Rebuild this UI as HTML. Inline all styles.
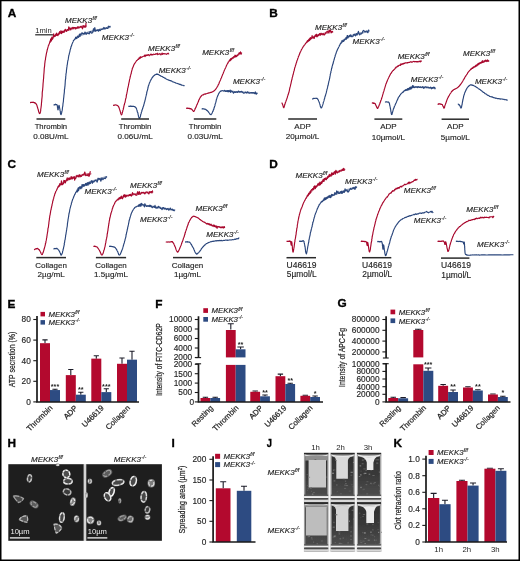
<!DOCTYPE html>
<html><head><meta charset="utf-8"><title>Figure</title>
<style>html,body{margin:0;padding:0;background:#fff}svg{display:block}text{font-family:"Liberation Sans",Arial,Helvetica,sans-serif}</style>
</head><body>
<svg width="520" height="561" viewBox="0 0 520 561">
<defs>
<filter id="b1" x="-5%" y="-5%" width="110%" height="110%"><feGaussianBlur stdDeviation="0.62"/></filter>
<filter id="b2" x="-2%" y="-2%" width="104%" height="104%"><feGaussianBlur stdDeviation="0.45"/></filter>
<filter id="spk" x="0" y="0" width="100%" height="100%"><feTurbulence type="fractalNoise" baseFrequency="0.9" numOctaves="2" seed="4"/><feColorMatrix type="matrix" values="0 0 0 0 1  0 0 0 0 1  0 0 0 0 1  1.6 0 0 0 -0.75"/></filter>
<linearGradient id="tb" x1="0" y1="0" x2="0" y2="1"><stop offset="0" stop-color="#2e2e2e"/><stop offset="0.45" stop-color="#393939"/><stop offset="0.85" stop-color="#4c4c4c"/><stop offset="1" stop-color="#444"/></linearGradient>
<linearGradient id="rim" x1="0" y1="0" x2="0" y2="1"><stop offset="0" stop-color="#f2f2f2"/><stop offset="0.35" stop-color="#9a9a9a"/><stop offset="0.7" stop-color="#d6d6d6"/><stop offset="1" stop-color="#8a8a8a"/></linearGradient>
<linearGradient id="base" x1="0" y1="0" x2="0" y2="1"><stop offset="0" stop-color="#3a3a3a"/><stop offset="0.3" stop-color="#9a9a9a"/><stop offset="0.5" stop-color="#fafafa"/><stop offset="0.7" stop-color="#8a8a8a"/><stop offset="0.85" stop-color="#e8e8e8"/><stop offset="1" stop-color="#f2f2f2"/></linearGradient>
</defs>
<rect x="0" y="0" width="520" height="561" fill="#fff"/>
<rect x="8.3" y="464.2" width="75.5" height="76.6" fill="#1e1e1e"/>
<rect x="86.1" y="464.2" width="75.8" height="76.6" fill="#1e1e1e"/>
<rect x="83.8" y="464.2" width="2.4" height="76.6" fill="#d4d4d4"/>
<g filter="url(#b1)">
<ellipse cx="29.5" cy="478.3" rx="2" ry="3.6" transform="rotate(10 29.5 478.3)" fill="#3e3e3e" stroke="#787878" stroke-width="1.5"/>
<ellipse cx="29.5" cy="478.3" rx="2" ry="3.6" transform="rotate(10 29.5 478.3)" fill="none" stroke="#c8c8c8" stroke-width="1.25" stroke-dasharray="4.2 1.7 3.2 1.2 5.6 2.2"/>
<ellipse cx="66.3" cy="473.9" rx="3.4" ry="3.8" transform="rotate(-20 66.3 473.9)" fill="#4e4e4e" stroke="#969696" stroke-width="1.5"/>
<ellipse cx="66.3" cy="473.9" rx="3.4" ry="3.8" transform="rotate(-20 66.3 473.9)" fill="none" stroke="#fafafa" stroke-width="1.25" stroke-dasharray="2.5 1.0 2.2 1.1 2.1 1.5"/>
<ellipse cx="67.9" cy="481.2" rx="4.3" ry="2.8" transform="rotate(0 67.9 481.2)" fill="#464646" stroke="#878787" stroke-width="1.5"/>
<ellipse cx="67.9" cy="481.2" rx="4.3" ry="2.8" transform="rotate(0 67.9 481.2)" fill="none" stroke="#e1e1e1" stroke-width="1.25" stroke-dasharray="4.6 1.1 4.7 1.3 2.1 1.7"/>
<ellipse cx="67.1" cy="491.9" rx="3.8" ry="2.9" transform="rotate(20 67.1 491.9)" fill="#3a3a3a" stroke="#707070" stroke-width="1.5"/>
<ellipse cx="67.1" cy="491.9" rx="3.8" ry="2.9" transform="rotate(20 67.1 491.9)" fill="none" stroke="#bbbbbb" stroke-width="1.25" stroke-dasharray="3.0 1.3 3.1 1.4 3.8 1.1"/>
<ellipse cx="72.8" cy="501.7" rx="2.2" ry="3.8" transform="rotate(15 72.8 501.7)" fill="#828282" stroke="#828282" stroke-width="1.2"/>
<ellipse cx="72.8" cy="501.7" rx="1.76" ry="3.04" transform="rotate(15 72.8 501.7)" fill="none" stroke="#ebebeb" stroke-width="1.1" stroke-dasharray="4.2 1.8 3.2 0.9 3.6 2.3"/>
<path d="M12.900000000000002,496.96 Q18.1,495.03999999999996 23.3,497.59999999999997 Q22.26,501.12 19.14,502.4 Q15.500000000000002,500.15999999999997 12.900000000000002,496.96 Z" transform="rotate(10 18.1 499.2)" fill="#494949" stroke="#5b5b5b" stroke-width="1.3" stroke-linejoin="round"/>
<path d="M12.900000000000002,496.96 Q18.1,495.03999999999996 23.3,497.59999999999997 Q22.26,501.12 19.14,502.4 Q15.500000000000002,500.15999999999997 12.900000000000002,496.96 Z" transform="rotate(10 18.1 499.2)" fill="none" stroke="#a4a4a4" stroke-width="1.1" stroke-dasharray="5.9 1.6 5.6 1.6 3.5 0.9"/>
<ellipse cx="34.1" cy="504.4" rx="4.4" ry="2.6" transform="rotate(35 34.1 504.4)" fill="#5b5b5b" stroke="#5b5b5b" stroke-width="1.2"/>
<ellipse cx="34.1" cy="504.4" rx="3.52" ry="2.08" transform="rotate(35 34.1 504.4)" fill="none" stroke="#a4a4a4" stroke-width="1.1" stroke-dasharray="4.6 1.5 3.4 0.9 3.6 1.6"/>
<path d="M20.0,517.08 Q24.3,514.9200000000001 28.6,517.8000000000001 Q27.740000000000002,521.76 25.16,523.2 Q22.150000000000002,520.6800000000001 20.0,517.08 Z" transform="rotate(-30 24.3 519.6)" fill="#545454" stroke="#686868" stroke-width="1.3" stroke-linejoin="round"/>
<path d="M20.0,517.08 Q24.3,514.9200000000001 28.6,517.8000000000001 Q27.740000000000002,521.76 25.16,523.2 Q22.150000000000002,520.6800000000001 20.0,517.08 Z" transform="rotate(-30 24.3 519.6)" fill="none" stroke="#bcbcbc" stroke-width="1.1" stroke-dasharray="3.1 1.1 3.8 1.6 4.3 1.3"/>
<ellipse cx="61.9" cy="517.5" rx="2.3" ry="4.8" transform="rotate(8 61.9 517.5)" fill="#464646" stroke="#878787" stroke-width="1.5"/>
<ellipse cx="61.9" cy="517.5" rx="2.3" ry="4.8" transform="rotate(8 61.9 517.5)" fill="none" stroke="#e1e1e1" stroke-width="1.25" stroke-dasharray="3.1 1.3 2.8 0.8 4.1 0.9"/>
<ellipse cx="76.6" cy="518.8" rx="2.2" ry="3" transform="rotate(0 76.6 518.8)" fill="#7b7b7b" stroke="#7b7b7b" stroke-width="1.2"/>
<ellipse cx="76.6" cy="518.8" rx="1.76" ry="2.40" transform="rotate(0 76.6 518.8)" fill="none" stroke="#dfdfdf" stroke-width="1.1" stroke-dasharray="3.9 1.2 4.8 1.5 4.8 1.9"/>
<path d="M52.8,525.52 Q57,522.88 61.2,526.4 Q60.36,531.24 57.84,533.0 Q54.9,529.9200000000001 52.8,525.52 Z" transform="rotate(20 57 528.6)" fill="#595959" stroke="#6e6e6e" stroke-width="1.3" stroke-linejoin="round"/>
<path d="M52.8,525.52 Q57,522.88 61.2,526.4 Q60.36,531.24 57.84,533.0 Q54.9,529.9200000000001 52.8,525.52 Z" transform="rotate(20 57 528.6)" fill="none" stroke="#c7c7c7" stroke-width="1.1" stroke-dasharray="3.5 1.6 3.4 1.3 3.3 1.5"/>
<ellipse cx="57.6" cy="464.9" rx="1.4" ry="0.8" transform="rotate(0 57.6 464.9)" fill="#757575" stroke="#757575" stroke-width="1.2"/>
<ellipse cx="57.6" cy="464.9" rx="1.12" ry="0.64" transform="rotate(0 57.6 464.9)" fill="none" stroke="#d3d3d3" stroke-width="1.1" stroke-dasharray="2.2 1.0 5.9 0.9 4.8 1.8"/>
<ellipse cx="107.2" cy="473.4" rx="5" ry="2.8" transform="rotate(-35 107.2 473.4)" fill="#5b5b5b" stroke="#5b5b5b" stroke-width="1.2"/>
<ellipse cx="107.2" cy="473.4" rx="4.00" ry="2.24" transform="rotate(-35 107.2 473.4)" fill="none" stroke="#a4a4a4" stroke-width="1.1" stroke-dasharray="4.9 1.4 4.4 0.7 2.3 1.1"/>
<ellipse cx="89.9" cy="481.2" rx="1.8" ry="2.2" transform="rotate(0 89.9 481.2)" fill="#757575" stroke="#757575" stroke-width="1.2"/>
<ellipse cx="89.9" cy="481.2" rx="1.44" ry="1.76" transform="rotate(0 89.9 481.2)" fill="none" stroke="#d3d3d3" stroke-width="1.1" stroke-dasharray="2.6 0.8 2.5 1.3 2.8 2.3"/>
<ellipse cx="118.1" cy="482.5" rx="5.8" ry="2.7" transform="rotate(-10 118.1 482.5)" fill="#464646" stroke="#878787" stroke-width="1.5"/>
<ellipse cx="118.1" cy="482.5" rx="5.8" ry="2.7" transform="rotate(-10 118.1 482.5)" fill="none" stroke="#e1e1e1" stroke-width="1.25" stroke-dasharray="4.7 1.5 4.8 0.9 5.7 2.1"/>
<ellipse cx="133.3" cy="481.2" rx="3" ry="4.8" transform="rotate(15 133.3 481.2)" fill="#4a4a4a" stroke="#8e8e8e" stroke-width="1.5"/>
<ellipse cx="133.3" cy="481.2" rx="3" ry="4.8" transform="rotate(15 133.3 481.2)" fill="none" stroke="#ededed" stroke-width="1.25" stroke-dasharray="4.9 1.4 5.4 1.5 4.6 2.3"/>
<ellipse cx="151.3" cy="483.2" rx="3.2" ry="3.6" transform="rotate(0 151.3 483.2)" fill="#7b7b7b" stroke="#7b7b7b" stroke-width="1.2"/>
<ellipse cx="151.3" cy="483.2" rx="2.56" ry="2.88" transform="rotate(0 151.3 483.2)" fill="none" stroke="#dfdfdf" stroke-width="1.1" stroke-dasharray="4.5 1.2 4.2 0.8 2.8 2.0"/>
<ellipse cx="111.6" cy="491.9" rx="2.4" ry="4.5" transform="rotate(20 111.6 491.9)" fill="#4e4e4e" stroke="#969696" stroke-width="1.5"/>
<ellipse cx="111.6" cy="491.9" rx="2.4" ry="4.5" transform="rotate(20 111.6 491.9)" fill="none" stroke="#fafafa" stroke-width="1.25" stroke-dasharray="5.1 2.1 5.4 1.3 2.4 1.6"/>
<ellipse cx="107.5" cy="496.8" rx="2.9" ry="4.3" transform="rotate(-25 107.5 496.8)" fill="#4a4a4a" stroke="#8e8e8e" stroke-width="1.5"/>
<ellipse cx="107.5" cy="496.8" rx="2.9" ry="4.3" transform="rotate(-25 107.5 496.8)" fill="none" stroke="#ededed" stroke-width="1.25" stroke-dasharray="5.7 1.8 3.9 1.1 2.9 1.1"/>
<ellipse cx="119.8" cy="500.8" rx="1.1" ry="2.3" transform="rotate(0 119.8 500.8)" fill="#5b5b5b" stroke="#5b5b5b" stroke-width="1.2"/>
<ellipse cx="119.8" cy="500.8" rx="0.88" ry="1.84" transform="rotate(0 119.8 500.8)" fill="none" stroke="#a4a4a4" stroke-width="1.1" stroke-dasharray="2.3 1.9 4.6 0.8 3.7 0.9"/>
<ellipse cx="143.8" cy="496.8" rx="2.7" ry="5.3" transform="rotate(5 143.8 496.8)" fill="#464646" stroke="#878787" stroke-width="1.5"/>
<ellipse cx="143.8" cy="496.8" rx="2.7" ry="5.3" transform="rotate(5 143.8 496.8)" fill="none" stroke="#e1e1e1" stroke-width="1.25" stroke-dasharray="2.8 1.7 4.6 1.2 3.1 1.8"/>
<ellipse cx="147.5" cy="509.8" rx="2.2" ry="3.2" transform="rotate(10 147.5 509.8)" fill="#3a3a3a" stroke="#707070" stroke-width="1.5"/>
<ellipse cx="147.5" cy="509.8" rx="2.2" ry="3.2" transform="rotate(10 147.5 509.8)" fill="none" stroke="#bbbbbb" stroke-width="1.25" stroke-dasharray="5.8 1.3 2.3 0.7 2.3 2.3"/>
<ellipse cx="147.5" cy="517.2" rx="2.3" ry="2.1" transform="rotate(0 147.5 517.2)" fill="#828282" stroke="#828282" stroke-width="1.2"/>
<ellipse cx="147.5" cy="517.2" rx="1.84" ry="1.68" transform="rotate(0 147.5 517.2)" fill="none" stroke="#ebebeb" stroke-width="1.1" stroke-dasharray="4.2 1.9 2.7 0.9 4.8 2.2"/>
<ellipse cx="122.2" cy="518" rx="4.4" ry="2.3" transform="rotate(-25 122.2 518)" fill="#5b5b5b" stroke="#5b5b5b" stroke-width="1.2"/>
<ellipse cx="122.2" cy="518" rx="3.52" ry="1.84" transform="rotate(-25 122.2 518)" fill="none" stroke="#a4a4a4" stroke-width="1.1" stroke-dasharray="3.4 0.8 5.5 0.9 5.0 1.1"/>
<ellipse cx="130.4" cy="519.2" rx="2.9" ry="3.2" transform="rotate(20 130.4 519.2)" fill="#686868" stroke="#686868" stroke-width="1.2"/>
<ellipse cx="130.4" cy="519.2" rx="2.32" ry="2.56" transform="rotate(20 130.4 519.2)" fill="none" stroke="#bcbcbc" stroke-width="1.1" stroke-dasharray="4.8 1.9 4.9 1.0 4.9 1.0"/>
<ellipse cx="90.4" cy="520.1" rx="3.5" ry="3.6" transform="rotate(0 90.4 520.1)" fill="#828282" stroke="#828282" stroke-width="1.2"/>
<ellipse cx="90.4" cy="520.1" rx="2.80" ry="2.88" transform="rotate(0 90.4 520.1)" fill="none" stroke="#ebebeb" stroke-width="1.1" stroke-dasharray="3.3 1.3 5.5 0.8 5.5 2.1"/>
<ellipse cx="99" cy="522.9" rx="1.8" ry="2.1" transform="rotate(0 99 522.9)" fill="#757575" stroke="#757575" stroke-width="1.2"/>
<ellipse cx="99" cy="522.9" rx="1.44" ry="1.68" transform="rotate(0 99 522.9)" fill="none" stroke="#d3d3d3" stroke-width="1.1" stroke-dasharray="5.9 1.2 2.8 0.9 5.3 2.3"/>
<ellipse cx="86.6" cy="495.1" rx="0.6" ry="2.6" transform="rotate(0 86.6 495.1)" fill="#757575" stroke="#757575" stroke-width="1.2"/>
<ellipse cx="86.6" cy="495.1" rx="0.48" ry="2.08" transform="rotate(0 86.6 495.1)" fill="none" stroke="#d3d3d3" stroke-width="1.1" stroke-dasharray="4.8 1.4 3.1 1.6 5.5 0.9"/>
</g>
<text x="20.0" y="534.3" text-anchor="middle" style="font-size:7.6px" fill="#f0f0f0">10µm</text>
<line x1="9.9" x2="29.799999999999997" y1="537.9" y2="537.9" stroke="#f0f0f0" stroke-width="1.3"/>
<text x="97.30000000000001" y="534.3" text-anchor="middle" style="font-size:7.6px" fill="#f0f0f0">10µm</text>
<line x1="87.4" x2="107.30000000000001" y1="537.9" y2="537.9" stroke="#f0f0f0" stroke-width="1.3"/>
<rect x="303.4" y="452.4" width="78.4" height="99.6" fill="#f4f4f4"/>
<g filter="url(#b2)">
<rect x="304.1" y="452.9" width="24.4" height="49.2" fill="url(#tb)"/>
<rect x="304.1" y="452.9" width="24.4" height="1.6" fill="#2a2a2a"/>
<path d="M304.1,454.5 H328.5 V456.09999999999997 Q316.3,460.09999999999997 304.1,456.09999999999997 Z" fill="#a2a2a2"/>
<path d="M304.6,455.09999999999997 Q316.3,458.29999999999995 328.0,455.09999999999997" fill="none" stroke="#e8e8e8" stroke-width="1.2"/>
<rect x="305.3" y="455.9" width="22.0" height="4.6" fill="#8e8e8e"/>
<rect x="308.6" y="460" width="17.399999999999977" height="27.5" fill="#c8c8c8"/>
<rect x="310.2" y="488.2" width="1.2" height="0.8" fill="#818181"/>
<rect x="307.6" y="488.4" width="1.9" height="0.8" fill="#6b6b6b"/>
<rect x="312.9" y="492.3" width="2.0" height="0.6" fill="#777777"/>
<rect x="306.8" y="485.0" width="1.5" height="0.7" fill="#5b5b5b"/>
<rect x="326.5" y="476.6" width="0.9" height="1.0" fill="#808080"/>
<rect x="306.9" y="490.0" width="0.9" height="0.7" fill="#656565"/>
<rect x="305.6" y="460.0" width="1.0" height="1.1" fill="#666666"/>
<rect x="306.6" y="474.4" width="1.6" height="0.7" fill="#606060"/>
<rect x="310.5" y="487.6" width="1.4" height="1.3" fill="#585858"/>
<rect x="314.5" y="459.1" width="1.8" height="0.6" fill="#575757"/>
<rect x="311.9" y="493.7" width="1.5" height="1.2" fill="#898989"/>
<rect x="308.0" y="476.8" width="2.1" height="0.8" fill="#838383"/>
<rect x="311.0" y="490.7" width="0.9" height="1.2" fill="#5e5e5e"/>
<rect x="304.1" y="454.5" width="1.2" height="47.6" fill="#a6a6a6"/>
<rect x="327.3" y="454.5" width="1.2" height="47.6" fill="#a6a6a6"/>
<rect x="304.1" y="494.59999999999997" width="24.4" height="1.5" fill="#585858"/>
<rect x="304.1" y="496.09999999999997" width="24.4" height="1.9" fill="#f0f0f0"/>
<rect x="304.1" y="497.99999999999994" width="24.4" height="1.7" fill="#4a4a4a"/>
<rect x="304.1" y="499.7" width="24.4" height="2.4" fill="#d8d8d8"/>
<rect x="330.5" y="452.9" width="24.3" height="49.2" fill="url(#tb)"/>
<rect x="330.5" y="452.9" width="24.3" height="1.6" fill="#2a2a2a"/>
<path d="M330.5,454.5 H354.8 V456.09999999999997 Q342.65,460.09999999999997 330.5,456.09999999999997 Z" fill="#a2a2a2"/>
<path d="M331.0,455.09999999999997 Q342.65,458.29999999999995 354.3,455.09999999999997" fill="none" stroke="#e8e8e8" stroke-width="1.2"/>
<path d="M332.9,456.09999999999997 Q342.65,457.9 352.40000000000003,456.09999999999997 Q348.4,457.4 347.9,460.4 V478.8 H336.3 V460.4 Q335.8,457.4 332.9,456.09999999999997 Z" fill="#dadada"/>
<rect x="348.8" y="490.4" width="2.1" height="1.3" fill="#575757"/>
<rect x="342.8" y="478.9" width="1.9" height="0.7" fill="#4e4e4e"/>
<rect x="333.6" y="480.3" width="1.7" height="1.2" fill="#686868"/>
<rect x="352.9" y="461.9" width="1.6" height="1.1" fill="#727272"/>
<rect x="350.5" y="474.8" width="1.8" height="0.7" fill="#6b6b6b"/>
<rect x="334.9" y="459.0" width="1.1" height="1.0" fill="#545454"/>
<rect x="344.1" y="487.9" width="2.0" height="0.9" fill="#686868"/>
<rect x="352.0" y="486.0" width="1.6" height="1.4" fill="#505050"/>
<rect x="333.0" y="469.6" width="0.9" height="1.2" fill="#797979"/>
<rect x="344.2" y="484.7" width="2.1" height="0.9" fill="#6c6c6c"/>
<rect x="352.9" y="492.2" width="0.9" height="0.7" fill="#4f4f4f"/>
<rect x="336.1" y="484.5" width="1.5" height="1.0" fill="#6c6c6c"/>
<rect x="332.1" y="472.7" width="1.9" height="1.1" fill="#8b8b8b"/>
<rect x="336.2" y="491.3" width="1.7" height="0.8" fill="#636363"/>
<rect x="344.9" y="480.7" width="1.2" height="0.8" fill="#767676"/>
<rect x="335.2" y="490.8" width="2.0" height="0.8" fill="#464646"/>
<rect x="340.1" y="493.3" width="1.8" height="0.9" fill="#646464"/>
<rect x="351.5" y="484.2" width="0.9" height="0.9" fill="#676767"/>
<rect x="346.3" y="485.1" width="1.4" height="1.0" fill="#797979"/>
<rect x="350.6" y="471.7" width="2.2" height="1.3" fill="#797979"/>
<rect x="345.3" y="483.0" width="1.3" height="1.0" fill="#6a6a6a"/>
<rect x="333.7" y="469.2" width="1.7" height="1.4" fill="#505050"/>
<rect x="335.3" y="459.9" width="1.3" height="1.0" fill="#797979"/>
<rect x="330.5" y="454.5" width="1.2" height="47.6" fill="#a6a6a6"/>
<rect x="353.6" y="454.5" width="1.2" height="47.6" fill="#a6a6a6"/>
<rect x="330.5" y="494.59999999999997" width="24.3" height="1.5" fill="#585858"/>
<rect x="330.5" y="496.09999999999997" width="24.3" height="1.9" fill="#f0f0f0"/>
<rect x="330.5" y="497.99999999999994" width="24.3" height="1.7" fill="#4a4a4a"/>
<rect x="330.5" y="499.7" width="24.3" height="2.4" fill="#d8d8d8"/>
<rect x="356.8" y="452.9" width="24.3" height="49.2" fill="url(#tb)"/>
<rect x="356.8" y="452.9" width="24.3" height="1.6" fill="#2a2a2a"/>
<path d="M356.8,454.5 H381.1 V456.09999999999997 Q368.95,460.09999999999997 356.8,456.09999999999997 Z" fill="#a2a2a2"/>
<path d="M357.3,455.09999999999997 Q368.95,458.29999999999995 380.6,455.09999999999997" fill="none" stroke="#e8e8e8" stroke-width="1.2"/>
<path d="M361.0,456.5 Q368.95,457.9 376.90000000000003,456.5 Q374.2,458.4 373.4,462.4 V470 H366.8 V462.4 Q366.0,458.4 361.0,456.5 Z" fill="#ececec"/>
<rect x="359.6" y="465.2" width="1.6" height="1.3" fill="#767676"/>
<rect x="378.8" y="471.6" width="1.4" height="1.0" fill="#717171"/>
<rect x="366.6" y="493.3" width="1.0" height="1.2" fill="#717171"/>
<rect x="378.9" y="490.4" width="0.8" height="1.2" fill="#6d6d6d"/>
<rect x="378.1" y="484.7" width="1.3" height="1.2" fill="#646464"/>
<rect x="360.6" y="486.5" width="0.9" height="1.3" fill="#686868"/>
<rect x="362.0" y="489.2" width="1.9" height="1.2" fill="#525252"/>
<rect x="360.1" y="474.2" width="1.5" height="1.3" fill="#7d7d7d"/>
<rect x="366.4" y="481.0" width="2.0" height="1.3" fill="#545454"/>
<rect x="370.4" y="470.3" width="1.6" height="0.7" fill="#5e5e5e"/>
<rect x="365.6" y="470.2" width="1.0" height="0.8" fill="#808080"/>
<rect x="361.8" y="459.4" width="2.0" height="1.3" fill="#636363"/>
<rect x="368.7" y="473.7" width="1.5" height="1.0" fill="#828282"/>
<rect x="376.2" y="462.6" width="2.1" height="1.0" fill="#6b6b6b"/>
<rect x="365.6" y="484.5" width="1.7" height="0.6" fill="#858585"/>
<rect x="377.0" y="459.5" width="2.1" height="0.7" fill="#757575"/>
<rect x="369.5" y="483.7" width="1.1" height="0.7" fill="#525252"/>
<rect x="361.7" y="463.1" width="1.9" height="1.2" fill="#5a5a5a"/>
<rect x="374.5" y="482.1" width="1.0" height="1.0" fill="#7d7d7d"/>
<rect x="358.8" y="476.2" width="1.5" height="0.8" fill="#818181"/>
<rect x="364.2" y="472.8" width="2.2" height="1.2" fill="#858585"/>
<rect x="379.3" y="485.7" width="1.4" height="1.2" fill="#595959"/>
<rect x="373.4" y="482.8" width="1.0" height="1.4" fill="#686868"/>
<rect x="363.0" y="493.4" width="2.2" height="0.9" fill="#4e4e4e"/>
<rect x="375.6" y="459.2" width="1.1" height="1.2" fill="#656565"/>
<rect x="372.4" y="475.2" width="2.2" height="0.7" fill="#777777"/>
<rect x="370.3" y="482.7" width="1.2" height="1.3" fill="#727272"/>
<rect x="363.5" y="488.6" width="1.0" height="1.3" fill="#666666"/>
<rect x="360.0" y="486.9" width="2.0" height="1.2" fill="#707070"/>
<rect x="364.0" y="458.9" width="0.9" height="0.7" fill="#737373"/>
<rect x="363.5" y="473.2" width="1.4" height="1.0" fill="#767676"/>
<rect x="360.3" y="470.8" width="1.8" height="0.6" fill="#545454"/>
<rect x="371.4" y="483.5" width="0.9" height="0.8" fill="#696969"/>
<rect x="363.4" y="468.3" width="2.2" height="1.2" fill="#585858"/>
<rect x="356.8" y="454.5" width="1.2" height="47.6" fill="#a6a6a6"/>
<rect x="379.90000000000003" y="454.5" width="1.2" height="47.6" fill="#a6a6a6"/>
<rect x="356.8" y="494.59999999999997" width="24.3" height="1.5" fill="#585858"/>
<rect x="356.8" y="496.09999999999997" width="24.3" height="1.9" fill="#f0f0f0"/>
<rect x="356.8" y="497.99999999999994" width="24.3" height="1.7" fill="#4a4a4a"/>
<rect x="356.8" y="499.7" width="24.3" height="2.4" fill="#d8d8d8"/>
<rect x="304.1" y="502.3" width="24.4" height="49.4" fill="url(#tb)"/>
<rect x="304.1" y="502.3" width="24.4" height="1.6" fill="#2a2a2a"/>
<path d="M304.1,503.90000000000003 H328.5 V505.5 Q316.3,509.5 304.1,505.5 Z" fill="#a2a2a2"/>
<path d="M304.6,504.5 Q316.3,507.7 328.0,504.5" fill="none" stroke="#e8e8e8" stroke-width="1.2"/>
<rect x="305.3" y="505.3" width="22.0" height="2.2" fill="#8e8e8e"/>
<rect x="306" y="507" width="20.80000000000001" height="28.5" fill="#bdbdbd"/>
<rect x="313.0" y="541.6" width="1.1" height="1.2" fill="#676767"/>
<rect x="311.1" y="537.4" width="1.2" height="1.0" fill="#797979"/>
<rect x="308.1" y="535.7" width="1.7" height="1.2" fill="#818181"/>
<rect x="311.6" y="538.6" width="1.0" height="1.1" fill="#656565"/>
<rect x="316.7" y="543.4" width="1.2" height="1.3" fill="#7a7a7a"/>
<rect x="313.6" y="543.2" width="1.7" height="1.0" fill="#464646"/>
<rect x="307.3" y="536.4" width="2.0" height="1.0" fill="#5e5e5e"/>
<rect x="306.4" y="540.6" width="1.2" height="0.6" fill="#5a5a5a"/>
<rect x="321.0" y="540.5" width="1.9" height="0.9" fill="#666666"/>
<rect x="314.7" y="541.3" width="2.0" height="0.6" fill="#474747"/>
<rect x="304.1" y="503.90000000000003" width="1.2" height="47.8" fill="#a6a6a6"/>
<rect x="327.3" y="503.90000000000003" width="1.2" height="47.8" fill="#a6a6a6"/>
<rect x="304.1" y="544.2" width="24.4" height="1.5" fill="#585858"/>
<rect x="304.1" y="545.7" width="24.4" height="1.9" fill="#f0f0f0"/>
<rect x="304.1" y="547.6" width="24.4" height="1.7" fill="#4a4a4a"/>
<rect x="304.1" y="549.3000000000001" width="24.4" height="2.4" fill="#d8d8d8"/>
<rect x="330.5" y="502.3" width="24.3" height="49.4" fill="url(#tb)"/>
<rect x="330.5" y="502.3" width="24.3" height="1.6" fill="#2a2a2a"/>
<path d="M330.5,503.90000000000003 H354.8 V505.5 Q342.65,509.5 330.5,505.5 Z" fill="#a2a2a2"/>
<path d="M331.0,504.5 Q342.65,507.7 354.3,504.5" fill="none" stroke="#e8e8e8" stroke-width="1.2"/>
<path d="M332.9,505.5 Q342.65,507.3 352.40000000000003,505.5 Q348.9,506.8 348.4,509.8 V531 H336 V509.8 Q335.5,506.8 332.9,505.5 Z" fill="#d4d4d4"/>
<rect x="338.8" y="542.8" width="2.1" height="1.3" fill="#6e6e6e"/>
<rect x="339.2" y="531.4" width="1.3" height="1.1" fill="#535353"/>
<rect x="333.7" y="535.6" width="1.7" height="0.8" fill="#777777"/>
<rect x="335.1" y="514.2" width="2.2" height="1.1" fill="#717171"/>
<rect x="338.3" y="533.7" width="1.7" height="0.9" fill="#545454"/>
<rect x="332.7" y="526.6" width="2.1" height="1.2" fill="#696969"/>
<rect x="338.5" y="531.1" width="1.7" height="1.1" fill="#575757"/>
<rect x="347.6" y="541.9" width="1.0" height="1.3" fill="#6e6e6e"/>
<rect x="345.3" y="538.7" width="1.6" height="1.1" fill="#4d4d4d"/>
<rect x="351.7" y="509.7" width="1.8" height="1.1" fill="#696969"/>
<rect x="350.3" y="531.5" width="1.7" height="0.7" fill="#727272"/>
<rect x="350.2" y="526.6" width="1.9" height="1.2" fill="#474747"/>
<rect x="349.3" y="513.8" width="0.9" height="0.6" fill="#5d5d5d"/>
<rect x="338.9" y="533.1" width="1.2" height="1.3" fill="#636363"/>
<rect x="347.5" y="542.7" width="1.1" height="1.4" fill="#5b5b5b"/>
<rect x="333.7" y="536.1" width="1.8" height="1.1" fill="#888888"/>
<rect x="333.4" y="521.7" width="1.1" height="1.4" fill="#696969"/>
<rect x="353.3" y="518.5" width="2.0" height="1.1" fill="#707070"/>
<rect x="339.5" y="538.2" width="1.7" height="1.2" fill="#6b6b6b"/>
<rect x="338.1" y="532.6" width="1.7" height="0.8" fill="#585858"/>
<rect x="349.0" y="520.6" width="1.0" height="1.2" fill="#898989"/>
<rect x="350.2" y="539.1" width="1.6" height="0.8" fill="#6a6a6a"/>
<rect x="350.2" y="535.3" width="1.5" height="1.3" fill="#696969"/>
<rect x="334.3" y="535.4" width="1.6" height="0.9" fill="#6a6a6a"/>
<rect x="332.5" y="536.7" width="1.4" height="1.0" fill="#606060"/>
<rect x="334.8" y="542.4" width="0.8" height="0.6" fill="#898989"/>
<rect x="340.2" y="543.1" width="2.1" height="0.9" fill="#676767"/>
<rect x="342.6" y="537.6" width="1.2" height="1.0" fill="#747474"/>
<rect x="330.5" y="503.90000000000003" width="1.2" height="47.8" fill="#a6a6a6"/>
<rect x="353.6" y="503.90000000000003" width="1.2" height="47.8" fill="#a6a6a6"/>
<rect x="330.5" y="544.2" width="24.3" height="1.5" fill="#585858"/>
<rect x="330.5" y="545.7" width="24.3" height="1.9" fill="#f0f0f0"/>
<rect x="330.5" y="547.6" width="24.3" height="1.7" fill="#4a4a4a"/>
<rect x="330.5" y="549.3000000000001" width="24.3" height="2.4" fill="#d8d8d8"/>
<rect x="356.8" y="502.3" width="24.3" height="49.4" fill="url(#tb)"/>
<rect x="356.8" y="502.3" width="24.3" height="1.6" fill="#2a2a2a"/>
<path d="M356.8,503.90000000000003 H381.1 V505.5 Q368.95,509.5 356.8,505.5 Z" fill="#a2a2a2"/>
<path d="M357.3,504.5 Q368.95,507.7 380.6,504.5" fill="none" stroke="#e8e8e8" stroke-width="1.2"/>
<path d="M361.0,505.90000000000003 Q368.95,507.3 376.90000000000003,505.90000000000003 Q374.8,507.8 374,511.8 V523 H366.3 V511.8 Q365.5,507.8 361.0,505.90000000000003 Z" fill="#ececec"/>
<rect x="362.5" y="516.3" width="1.1" height="0.7" fill="#797979"/>
<rect x="364.4" y="543.3" width="1.5" height="0.8" fill="#8b8b8b"/>
<rect x="367.7" y="539.6" width="2.1" height="1.3" fill="#6e6e6e"/>
<rect x="375.6" y="539.6" width="1.0" height="1.2" fill="#696969"/>
<rect x="379.4" y="531.7" width="2.1" height="1.3" fill="#575757"/>
<rect x="378.0" y="531.8" width="1.1" height="1.1" fill="#878787"/>
<rect x="379.5" y="543.5" width="1.6" height="1.1" fill="#7e7e7e"/>
<rect x="377.4" y="529.0" width="1.3" height="0.7" fill="#5f5f5f"/>
<rect x="362.2" y="531.9" width="1.2" height="1.3" fill="#5a5a5a"/>
<rect x="360.3" y="541.9" width="2.0" height="1.3" fill="#636363"/>
<rect x="372.2" y="524.1" width="1.5" height="1.1" fill="#5b5b5b"/>
<rect x="362.9" y="514.2" width="2.2" height="0.7" fill="#717171"/>
<rect x="372.3" y="529.5" width="1.2" height="0.8" fill="#7a7a7a"/>
<rect x="364.4" y="538.0" width="1.9" height="0.8" fill="#818181"/>
<rect x="374.1" y="536.4" width="1.0" height="0.8" fill="#6b6b6b"/>
<rect x="370.4" y="534.3" width="1.7" height="1.3" fill="#545454"/>
<rect x="373.9" y="539.7" width="1.2" height="0.8" fill="#898989"/>
<rect x="377.5" y="522.1" width="1.7" height="1.0" fill="#4d4d4d"/>
<rect x="362.4" y="540.7" width="2.2" height="0.8" fill="#676767"/>
<rect x="359.6" y="540.4" width="2.1" height="1.0" fill="#5a5a5a"/>
<rect x="363.9" y="532.3" width="1.9" height="1.3" fill="#888888"/>
<rect x="374.8" y="542.7" width="1.0" height="0.8" fill="#565656"/>
<rect x="359.0" y="512.7" width="1.3" height="0.9" fill="#595959"/>
<rect x="370.3" y="531.5" width="1.3" height="1.4" fill="#818181"/>
<rect x="366.4" y="523.3" width="1.9" height="1.2" fill="#626262"/>
<rect x="360.1" y="517.3" width="1.3" height="0.8" fill="#4b4b4b"/>
<rect x="372.1" y="534.7" width="1.5" height="0.9" fill="#686868"/>
<rect x="378.7" y="543.5" width="2.0" height="0.9" fill="#727272"/>
<rect x="356.8" y="503.90000000000003" width="1.2" height="47.8" fill="#a6a6a6"/>
<rect x="379.90000000000003" y="503.90000000000003" width="1.2" height="47.8" fill="#a6a6a6"/>
<rect x="356.8" y="544.2" width="24.3" height="1.5" fill="#585858"/>
<rect x="356.8" y="545.7" width="24.3" height="1.9" fill="#f0f0f0"/>
<rect x="356.8" y="547.6" width="24.3" height="1.7" fill="#4a4a4a"/>
<rect x="356.8" y="549.3000000000001" width="24.3" height="2.4" fill="#d8d8d8"/>
</g>
<rect x="328.5" y="452.4" width="2" height="99.6" fill="#f4f4f4"/>
<rect x="354.8" y="452.4" width="2" height="99.6" fill="#f4f4f4"/>
<text x="7.8" y="17.3" style="font-size:11.8px;font-weight:bold;" fill="#000" stroke="#000" stroke-width="0.35">A</text>
<text x="269.2" y="17.3" style="font-size:11.8px;font-weight:bold;" fill="#000" stroke="#000" stroke-width="0.35">B</text>
<text x="7.5" y="167.7" style="font-size:11.8px;font-weight:bold;" fill="#000" stroke="#000" stroke-width="0.35">C</text>
<text x="269.2" y="168.1" style="font-size:11.8px;font-weight:bold;" fill="#000" stroke="#000" stroke-width="0.35">D</text>
<text x="7.5" y="307.5" style="font-size:11.8px;font-weight:bold;" fill="#000" stroke="#000" stroke-width="0.35">E</text>
<text x="155.3" y="307.5" style="font-size:11.8px;font-weight:bold;" fill="#000" stroke="#000" stroke-width="0.35">F</text>
<text x="337.6" y="306.8" style="font-size:11.8px;font-weight:bold;" fill="#000" stroke="#000" stroke-width="0.35">G</text>
<text x="7.5" y="446.9" style="font-size:11.8px;font-weight:bold;" fill="#000" stroke="#000" stroke-width="0.35">H</text>
<text x="171.4" y="446.9" style="font-size:11.8px;font-weight:bold;" fill="#000" stroke="#000" stroke-width="0.35">I</text>
<text x="266.8" y="447" textLength="5.2" lengthAdjust="spacingAndGlyphs" style="font-size:11.8px;font-weight:bold;" fill="#000" stroke="#000" stroke-width="0.35">J</text>
<text x="393.5" y="446.9" style="font-size:11.8px;font-weight:bold;" fill="#000" stroke="#000" stroke-width="0.35">K</text>
<path d="M50.0,42.0 L50.2,41.6 L50.3,41.3 L50.5,40.9 L50.7,40.6 L50.9,40.3 L51.0,40.0 L51.2,39.8 L51.4,39.5 L51.5,39.2 L51.7,39.0 L51.9,38.7 L52.1,38.5 L52.3,38.2 L52.5,38.0 L52.7,37.8 L52.9,37.5 L53.1,37.3 L53.4,37.1 L53.6,36.9 L53.8,36.6 L54.0,36.4 L54.3,36.2 L54.5,36.0 L54.8,35.8 L55.1,35.6 L55.4,35.4 L55.7,35.2 L56.0,35.0 L56.3,34.8 L56.7,34.6 L57.1,34.3 L57.5,34.1 L57.9,33.9 L58.3,33.7 L58.7,33.5 L59.2,33.3 L59.6,33.0 L60.1,32.8 L60.5,32.6 L61.0,32.4 L61.5,32.2 L62.0,32.0 L62.5,31.8 L63.0,31.6 L63.6,31.4 L64.1,31.2 L64.7,31.0 L65.3,30.9 L65.9,30.7 L66.5,30.5 L67.1,30.3 L67.7,30.2 L68.2,30.0 L68.8,29.8 L69.4,29.7 L70.0,29.5 L70.6,29.3 L71.1,29.2 L71.7,29.0 L72.3,28.9 L72.9,28.7 L73.4,28.6 L74.0,28.4 L74.6,28.3 L75.1,28.2 L75.7,28.0 L76.3,27.9 L76.9,27.8 L77.4,27.6 L78.0,27.5 L78.6,27.4 L79.2,27.2 L79.9,27.1 L80.5,27.0 L81.2,26.9 L81.8,26.7 L82.5,26.6 L83.1,26.5 L83.7,26.4 L84.3,26.3 L84.8,26.2 L85.3,26.1 L85.7,26.1 L86.0,26.0" fill="none" stroke="#a8082d" stroke-width="1.97" stroke-opacity="0.5" stroke-linejoin="round" stroke-linecap="round"/>
<path d="M30.5,102.7 L30.6,102.4 L30.7,102.5 L30.8,102.5 L31.0,102.4 L31.3,102.4 L31.5,102.4 L31.5,102.2 L31.8,102.4 L32.1,102.4 L32.2,102.2 L32.4,102.3 L32.6,102.3 L32.8,102.3 L33.0,102.3 L33.2,102.2 L33.3,102.4 L33.4,102.4 L33.6,102.4 L33.8,102.3 L33.9,102.7 L34.1,102.6 L34.2,102.6 L34.4,102.9 L34.4,102.7 L34.7,102.6 L34.8,102.8 L34.8,102.7 L35.0,103.1 L35.1,103.0 L35.3,103.1 L35.4,103.3 L35.5,103.1 L35.6,103.4 L35.7,103.2 L35.7,103.4 L35.9,103.5 L36.0,103.9 L36.1,104.0 L36.2,103.9 L36.3,104.2 L36.4,104.3 L36.6,104.6 L36.6,104.7 L36.6,104.8 L36.9,105.1 L37.0,105.6 L37.0,106.1 L37.1,106.2 L37.3,106.5 L37.4,107.1 L37.4,107.3 L37.6,107.6 L37.7,108.0 L37.7,108.3 L37.9,108.6 L37.9,108.9 L38.1,109.4 L38.3,109.7 L38.3,110.3 L38.4,110.5 L38.5,110.8 L38.6,111.4 L38.7,112.0 L39.0,112.2 L39.0,112.5 L39.1,112.8 L39.2,113.1 L39.3,113.4 L39.5,113.4 L39.5,113.6 L39.8,113.4 L39.8,113.4 L39.9,113.4 L40.0,113.3 L40.2,113.0 L40.2,112.8 L40.3,112.5 L40.4,112.1 L40.5,111.5 L40.6,111.2 L40.7,110.6 L40.7,109.8 L40.8,108.9 L41.0,108.0 L41.1,106.8 L41.3,105.6 L41.4,104.4 L41.5,102.9 L41.7,101.1 L41.8,99.4 L42.0,97.7 L42.2,95.8 L42.2,93.9 L42.3,92.0 L42.6,90.2 L42.7,88.7 L42.9,86.8 L43.0,85.0 L43.1,83.3 L43.3,81.5 L43.4,79.9 L43.6,78.2 L43.7,76.2 L43.8,74.7 L44.0,72.8 L44.1,71.3 L44.2,69.5 L44.3,68.0 L44.6,66.2 L44.7,64.7 L44.8,63.4 L45.0,62.1 L45.1,60.8 L45.5,59.4 L45.5,58.5 L45.7,57.4 L45.9,56.3 L46.1,55.3 L46.2,54.7 L46.4,53.6 L46.6,52.7 L46.8,52.0 L47.0,51.2 L47.1,50.4 L47.3,49.8 L47.5,49.0 L47.7,48.3 L47.9,47.6 L48.0,47.1 L48.2,46.4 L48.4,45.5 L48.7,45.4 L48.8,44.9 L49.0,44.1 L49.1,44.1 L49.3,44.0 L49.5,42.9 L49.7,42.7 L49.9,42.1 L50.0,41.5 L50.2,41.7 L50.3,41.5 L50.6,40.5 L50.6,39.0 L50.8,40.7 L51.0,38.8 L51.2,39.8 L51.5,40.9 L51.5,39.1 L51.7,37.9 L51.8,37.2 L52.0,39.6 L52.2,38.3 L52.5,38.7 L52.7,38.9 L53.0,37.3 L53.2,37.1 L53.3,36.2 L53.7,33.8 L53.8,35.0 L54.1,36.4 L54.3,36.2 L54.6,36.3 L54.7,35.7 L55.1,35.9 L55.3,36.1 L55.7,34.4 L56.0,34.6 L56.4,33.1 L56.7,35.5 L57.1,34.4 L57.5,34.6 L57.8,35.6 L58.3,34.7 L58.8,33.4 L59.1,34.1 L59.6,31.6 L60.0,33.1 L60.6,32.8 L61.0,30.7 L61.5,33.6 L62.1,31.3 L62.5,32.6 L63.1,31.2 L63.5,32.2 L64.1,32.4 L64.6,30.3 L65.3,29.3 L65.9,30.7 L66.5,31.4 L67.1,29.9 L67.6,29.6 L68.2,30.4 L68.8,26.8 L69.5,29.2 L70.0,27.9 L70.6,29.7 L71.2,28.5 L71.7,27.9 L72.3,28.4 L72.9,27.3 L73.4,28.4 L74.0,27.6 L74.7,27.9 L75.1,27.5 L75.7,29.0 L76.3,27.9 L77.0,28.2 L77.3,28.1 L77.9,26.6 L78.5,27.9 L79.3,27.7 L79.9,27.4 L80.5,26.6 L81.1,26.4 L81.9,27.5 L82.5,28.8 L83.1,25.6 L83.7,27.0 L84.2,26.0 L84.8,27.2 L85.3,26.6 L85.7,27.1 L86.0,23.1" fill="none" stroke="#a8082d" stroke-width="1.15" stroke-linejoin="round" stroke-linecap="round"/>
<path d="M76.0,38.0 L76.4,37.7 L76.8,37.4 L77.2,37.1 L77.6,36.9 L78.1,36.6 L78.5,36.3 L79.0,36.1 L79.5,35.9 L80.0,35.6 L80.5,35.4 L81.0,35.2 L81.5,34.9 L82.0,34.7 L82.5,34.5 L83.0,34.3 L83.5,34.1 L84.0,33.9 L84.5,33.7 L85.0,33.5 L85.5,33.4 L86.0,33.2 L86.6,33.0 L87.1,32.9 L87.6,32.7 L88.2,32.5 L88.8,32.3 L89.4,32.2 L90.0,32.0 L90.6,31.8 L91.3,31.6 L92.0,31.5 L92.7,31.3 L93.4,31.1 L94.1,30.9 L94.8,30.8 L95.6,30.6 L96.3,30.4 L97.1,30.2 L97.8,30.0 L98.5,29.9 L99.3,29.7 L100.0,29.5 L100.7,29.3 L101.5,29.1 L102.3,28.9 L103.1,28.7 L104.0,28.5 L104.8,28.3 L105.6,28.1 L106.4,27.9 L107.2,27.7 L107.9,27.5 L108.5,27.4 L109.1,27.2 L109.6,27.1 L110.0,27.0" fill="none" stroke="#2a467c" stroke-width="1.97" stroke-opacity="0.5" stroke-linejoin="round" stroke-linecap="round"/>
<path d="M54.0,104.8 L54.0,105.0 L54.2,104.8 L54.3,104.9 L54.5,104.9 L54.6,104.7 L54.9,104.6 L54.9,104.8 L55.1,104.7 L55.2,104.5 L55.4,104.2 L55.6,104.5 L55.8,104.6 L55.8,104.6 L56.0,104.4 L56.2,104.5 L56.2,104.5 L56.4,104.6 L56.4,104.5 L56.6,104.6 L56.7,104.5 L56.8,104.7 L56.8,104.6 L56.9,104.9 L57.0,104.9 L57.1,105.0 L57.1,105.2 L57.2,105.4 L57.3,105.3 L57.4,105.8 L57.3,106.1 L57.4,106.4 L57.5,106.9 L57.5,107.2 L57.5,107.8 L57.7,108.0 L57.7,108.4 L57.7,109.0 L57.8,109.5 L57.8,109.6 L57.9,109.9 L58.0,109.9 L58.0,109.9 L58.1,109.9 L58.1,109.9 L58.3,109.3 L58.1,109.1 L58.3,108.5 L58.3,108.2 L58.5,107.8 L58.5,107.1 L58.7,106.8 L58.6,106.5 L58.9,106.0 L58.9,105.6 L58.9,105.4 L59.0,105.3 L59.2,105.6 L59.2,105.6 L59.1,106.0 L59.3,106.2 L59.4,106.4 L59.3,106.7 L59.5,107.3 L59.5,107.6 L59.7,108.1 L59.7,108.3 L59.8,109.0 L59.9,109.2 L59.9,109.4 L60.0,109.9 L60.0,110.4 L60.1,110.9 L60.3,111.1 L60.3,111.5 L60.3,112.3 L60.4,112.5 L60.4,112.9 L60.5,113.2 L60.6,113.6 L60.7,114.2 L60.8,114.2 L60.8,114.4 L60.9,114.5 L61.1,114.7 L61.1,114.3 L61.2,114.3 L61.3,114.1 L61.4,113.8 L61.5,113.4 L61.5,113.2 L61.7,112.8 L61.7,112.2 L61.9,111.5 L62.0,110.9 L62.2,110.4 L62.3,109.6 L62.4,108.8 L62.4,108.0 L62.6,106.9 L62.8,106.1 L62.9,105.0 L63.0,103.7 L63.2,102.5 L63.4,101.3 L63.5,99.8 L63.6,98.4 L63.8,97.2 L63.9,95.6 L64.1,94.1 L64.3,92.6 L64.4,91.4 L64.4,89.9 L64.7,88.6 L64.8,87.2 L65.0,85.8 L65.1,84.4 L65.2,82.8 L65.3,81.3 L65.4,79.8 L65.7,78.3 L65.7,76.9 L65.9,75.4 L66.0,73.9 L66.3,72.7 L66.4,71.3 L66.5,70.0 L66.7,68.6 L66.8,67.6 L67.0,66.4 L67.1,65.3 L67.4,64.1 L67.5,63.0 L67.6,62.0 L67.8,61.0 L68.1,59.9 L68.3,58.9 L68.4,57.9 L68.6,57.0 L68.7,56.0 L69.0,54.9 L69.3,54.1 L69.4,53.1 L69.7,52.2 L70.0,51.1 L70.1,50.2 L70.4,49.2 L70.7,48.5 L70.9,47.3 L71.2,46.6 L71.5,45.8 L71.8,45.1 L71.9,44.3 L72.3,43.5 L72.5,42.9 L72.8,42.3 L73.0,41.9 L73.2,41.4 L73.4,40.8 L73.5,40.5 L73.8,40.2 L74.0,40.2 L74.3,39.9 L74.6,39.0 L74.7,39.1 L75.0,39.1 L75.3,39.0 L75.6,37.2 L76.1,38.6 L76.4,37.6 L76.8,38.5 L77.2,37.1 L77.6,36.1 L78.0,36.7 L78.6,37.4 L79.0,36.1 L79.4,34.0 L80.0,36.3 L80.5,33.9 L81.0,34.3 L81.5,33.8 L82.0,32.7 L82.5,33.3 L83.0,33.3 L83.5,33.6 L84.0,34.1 L84.5,33.4 L85.0,32.0 L85.6,33.2 L86.0,34.2 L86.6,34.1 L87.0,32.8 L87.7,33.2 L88.1,33.2 L88.8,33.8 L89.3,33.9 L90.0,31.6 L90.7,31.5 L91.2,33.1 L92.0,33.0 L92.6,32.8 L93.5,28.7 L94.1,30.8 L94.8,27.5 L95.5,31.2 L96.4,30.4 L97.1,30.4 L97.9,29.9 L98.5,31.2 L99.3,29.5 L100.1,30.7 L100.7,29.8 L101.5,29.4 L102.3,29.2 L103.1,28.9 L104.0,27.4 L104.8,29.0 L105.6,28.7 L106.4,27.8 L107.2,28.4 L107.9,28.4 L108.5,26.2 L109.1,27.0 L109.5,26.5 L110.1,26.3" fill="none" stroke="#2a467c" stroke-width="1.15" stroke-linejoin="round" stroke-linecap="round"/>
<path d="M113.5,105.3 L113.7,105.2 L113.7,105.3 L113.9,105.3 L114.0,105.3 L114.2,105.3 L114.4,105.1 L114.6,105.0 L114.8,105.0 L115.0,104.9 L115.2,105.0 L115.5,105.0 L115.7,105.0 L115.8,104.8 L115.9,104.9 L116.2,105.2 L116.3,105.0 L116.6,105.2 L116.7,105.2 L116.9,105.2 L117.0,105.2 L117.2,105.4 L117.4,105.4 L117.6,105.6 L117.7,105.7 L117.9,105.8 L117.9,106.0 L118.1,106.1 L118.3,106.2 L118.4,106.5 L118.6,106.6 L118.7,106.7 L118.7,107.1 L118.9,107.4 L118.9,107.6 L119.2,107.7 L119.2,108.3 L119.3,108.6 L119.4,108.9 L119.5,109.1 L119.6,109.3 L119.7,109.7 L119.8,109.9 L119.9,110.5 L120.1,110.7 L120.1,111.2 L120.3,111.4 L120.3,111.9 L120.7,112.4 L120.6,113.0 L120.7,113.4 L120.9,113.8 L121.0,113.9 L121.1,114.5 L121.2,114.4 L121.3,114.8 L121.4,114.8 L121.6,114.6 L121.8,114.4 L121.9,113.9 L122.1,113.9 L122.1,113.2 L122.3,112.8 L122.5,112.1 L122.7,111.7 L122.7,111.0 L122.8,110.5 L123.1,109.9 L123.3,109.3 L123.3,108.8 L123.6,108.0 L123.7,107.4 L123.8,106.7 L123.9,106.3 L124.1,105.3 L124.3,104.8 L124.6,103.8 L124.6,103.1 L125.0,102.5 L125.2,101.7 L125.2,101.2 L125.4,100.4 L125.6,99.2 L125.8,98.4 L126.1,97.7 L126.2,97.0 L126.3,96.1 L126.4,95.1 L126.7,94.0 L126.9,93.2 L127.1,92.0 L127.3,91.2 L127.4,90.5 L127.6,89.5 L127.7,88.4 L128.0,87.6 L128.1,86.9 L128.4,85.9 L128.5,85.0 L128.7,84.2 L128.8,83.4 L129.0,82.6 L129.2,81.7 L129.4,81.0 L129.5,80.2 L129.6,79.4 L129.8,78.9 L130.0,78.1 L130.1,77.4 L130.3,76.8 L130.4,76.1 L130.6,75.4 L130.8,74.6 L131.0,73.9 L131.2,73.6 L131.3,72.7 L131.4,72.1 L131.6,71.5 L131.7,71.0 L131.8,70.5 L132.1,70.0 L132.2,69.4 L132.2,68.7 L132.5,68.4 L132.6,68.0 L132.8,67.5 L133.1,67.0 L133.1,66.6 L133.4,66.3 L133.5,65.7 L133.7,65.2 L133.9,64.9 L134.0,64.6 L134.2,64.1 L134.4,64.0 L134.6,63.5 L134.9,63.3 L135.0,63.0 L135.1,62.7 L135.3,62.6 L135.7,62.0 L135.8,61.7 L135.9,61.5 L136.2,61.5 L136.3,61.0 L136.6,60.6 L136.8,60.5 L137.0,60.4 L137.2,60.3 L137.4,60.0 L137.6,59.8 L137.8,59.6 L138.0,59.1 L138.2,59.2 L138.5,59.4 L138.7,58.7 L138.9,58.7 L139.2,57.7 L139.4,58.6 L139.7,58.2 L140.0,58.5 L140.3,56.7 L140.5,57.7 L140.8,57.5 L141.1,57.2 L141.3,57.0 L141.6,57.3 L141.9,57.2 L142.3,56.9 L142.7,56.6 L143.1,56.4 L143.3,56.3 L143.8,56.2 L144.2,55.9 L144.7,55.2 L145.0,56.6 L145.4,55.0 L145.8,55.9 L146.3,55.0 L146.7,55.4 L147.1,54.9 L147.5,55.4 L147.9,54.8 L148.4,54.6 L148.8,55.1 L149.2,55.8 L149.6,55.1 L150.1,55.0 L150.5,54.2 L150.7,54.6 L151.2,54.9 L151.6,54.2 L152.0,55.0 L152.5,54.6 L152.9,54.8 L153.4,54.2 L153.9,54.1 L154.3,54.4 L154.7,54.5 L155.2,54.5 L155.7,53.7 L156.3,53.8 L156.7,54.1 L157.3,53.2 L157.8,54.7 L158.4,54.0 L158.9,54.1 L159.5,53.6 L159.9,54.2 L160.4,53.9 L160.9,54.9 L161.5,54.2 L162.1,53.0 L162.7,54.5 L163.4,53.6 L164.0,53.6 L164.7,53.9 L165.4,53.8 L166.0,54.0 L166.6,54.3 L167.0,53.8 L167.6,53.6 L168.1,53.1 L168.4,53.4 L168.7,54.0" fill="none" stroke="#a8082d" stroke-width="1.15" stroke-linejoin="round" stroke-linecap="round"/>
<path d="M128.8,106.5 L128.9,106.1 L129.2,106.2 L129.3,106.3 L129.5,106.3 L129.7,106.3 L130.0,106.3 L130.2,106.1 L130.5,106.3 L130.7,106.2 L130.9,106.1 L131.2,106.4 L131.4,106.2 L131.7,106.4 L132.0,106.2 L132.2,106.2 L132.4,106.3 L132.8,106.3 L133.0,106.5 L133.3,106.3 L133.5,106.5 L133.8,106.4 L134.1,106.6 L134.5,106.6 L134.7,106.7 L134.9,107.0 L135.2,106.9 L135.4,107.2 L135.6,107.2 L135.7,107.5 L136.0,107.8 L136.2,108.0 L136.2,108.3 L136.4,108.5 L136.5,108.6 L136.6,109.2 L136.8,109.6 L136.9,110.0 L137.1,110.5 L137.1,111.0 L137.2,111.3 L137.3,111.7 L137.4,112.1 L137.7,112.5 L137.9,113.0 L138.0,113.5 L138.0,114.1 L138.2,114.8 L138.4,115.5 L138.4,116.0 L138.6,116.7 L138.7,116.9 L138.9,117.6 L139.1,118.0 L139.1,118.3 L139.2,118.3 L139.4,118.3 L139.5,118.2 L139.6,118.2 L139.8,118.2 L139.9,117.7 L140.1,117.1 L140.3,116.8 L140.5,116.2 L140.5,115.6 L140.7,115.0 L140.8,114.3 L141.1,113.7 L141.2,113.2 L141.3,112.6 L141.5,112.1 L141.8,111.3 L141.9,111.0 L142.0,110.3 L142.2,109.8 L142.4,109.3 L142.7,108.5 L142.8,108.0 L143.0,107.4 L143.2,106.8 L143.5,106.1 L143.7,105.6 L143.8,104.8 L144.0,104.1 L144.2,103.7 L144.3,102.9 L144.5,102.2 L144.8,101.5 L144.9,100.7 L145.1,100.1 L145.3,99.5 L145.3,98.9 L145.6,98.2 L145.7,97.5 L145.8,96.9 L146.0,96.2 L146.2,95.4 L146.3,94.7 L146.6,94.0 L146.7,93.2 L146.8,92.7 L146.9,91.7 L147.2,91.1 L147.4,90.4 L147.6,89.4 L147.8,89.0 L147.9,88.1 L148.1,87.5 L148.2,86.7 L148.4,85.9 L148.7,85.4 L148.8,84.8 L149.0,84.3 L149.2,83.7 L149.4,82.9 L149.7,82.7 L149.8,82.2 L150.1,81.7 L150.2,81.2 L150.5,80.6 L150.7,80.3 L150.9,79.8 L151.1,79.7 L151.4,79.0 L151.6,78.6 L151.9,78.3 L152.0,78.1 L152.2,77.6 L152.4,77.1 L152.7,77.3 L152.8,76.9 L153.0,76.6 L153.2,76.5 L153.4,76.1 L153.7,75.9 L153.9,75.9 L154.0,75.6 L154.3,75.5 L154.4,75.3 L154.6,75.2 L154.9,75.0 L155.0,74.7 L155.2,74.8 L155.3,74.6 L155.5,74.6 L155.7,74.5 L155.9,74.5 L156.0,74.3 L156.2,74.1 L156.4,74.2 L156.6,74.3 L156.7,74.2 L156.9,74.1 L157.2,74.3 L157.3,74.2 L157.5,74.3 L157.6,74.3 L157.9,74.2 L158.0,74.3 L158.2,74.4 L158.3,74.6 L158.5,74.5 L158.7,74.6 L158.8,74.7 L159.0,74.9 L159.2,75.0 L159.5,75.2 L159.7,75.5 L160.0,75.5 L160.2,75.6 L160.5,75.8 L161.0,76.2 L161.4,76.3 L161.8,76.5 L162.2,76.6 L162.5,76.8 L162.9,77.1 L163.4,77.4 L163.8,77.5 L164.3,77.7 L164.5,78.1 L165.0,78.1 L165.4,78.3 L165.8,78.7 L166.2,78.9 L166.5,79.1 L167.0,79.4 L167.4,79.6 L167.8,79.7 L168.2,79.8 L168.7,80.2 L169.0,80.3 L169.4,80.4 L169.8,80.4 L170.2,80.7 L170.6,80.6 L171.0,81.0 L171.4,80.9 L171.8,81.3 L172.3,81.6 L172.7,81.7 L173.0,82.0 L173.5,82.0 L173.9,82.2 L174.3,82.3 L174.7,82.5 L175.1,82.6 L175.6,82.9 L175.9,83.1 L176.5,83.2 L176.8,83.2 L177.4,83.5 L178.0,83.8 L178.6,83.9 L179.1,84.1 L179.6,84.4 L180.3,84.6 L180.9,84.4 L181.5,85.1 L182.0,85.2 L182.7,85.3 L183.2,85.4 L183.5,85.6 L183.9,85.8 L184.2,85.7" fill="none" stroke="#2a467c" stroke-width="1.15" stroke-linejoin="round" stroke-linecap="round"/>
<path d="M230.2,59.9 L230.5,59.6 L230.8,59.4 L231.1,59.1 L231.5,58.9 L231.8,58.6 L232.2,58.4 L232.6,58.1 L233.0,57.9 L233.4,57.6 L233.8,57.4 L234.2,57.1 L234.6,56.9 L235.0,56.6 L235.4,56.4 L235.8,56.1 L236.3,55.9 L236.7,55.6 L237.2,55.3 L237.7,55.0 L238.2,54.8 L238.7,54.5 L239.2,54.2 L239.7,54.0 L240.1,53.7 L240.5,53.5 L240.9,53.3 L241.2,53.1 L241.4,53.0" fill="none" stroke="#a8082d" stroke-width="1.75" stroke-opacity="0.5" stroke-linejoin="round" stroke-linecap="round"/>
<path d="M186.7,108.4 L186.7,108.1 L186.8,108.3 L187.0,108.3 L187.1,108.2 L187.2,108.4 L187.5,108.1 L187.7,108.2 L187.8,108.3 L188.1,108.4 L188.2,108.3 L188.5,108.3 L188.7,108.4 L188.8,108.3 L188.9,108.3 L189.2,108.4 L189.4,108.5 L189.5,108.7 L189.6,108.4 L189.8,108.6 L190.0,108.5 L190.2,108.6 L190.3,108.8 L190.5,108.7 L190.6,108.8 L190.8,108.7 L190.9,108.7 L191.1,108.9 L191.3,108.9 L191.4,108.9 L191.4,109.1 L191.6,109.0 L191.7,109.2 L191.8,109.4 L191.9,109.4 L191.9,109.6 L192.0,109.5 L192.1,109.8 L192.2,109.8 L192.3,110.1 L192.4,110.1 L192.5,110.2 L192.7,110.4 L192.7,110.3 L192.7,110.4 L192.8,110.7 L193.0,110.7 L193.1,110.9 L193.1,110.9 L193.2,111.1 L193.2,111.0 L193.4,111.1 L193.5,111.2 L193.5,111.4 L193.6,111.2 L193.7,111.2 L193.8,111.2 L194.0,111.3 L194.0,111.2 L194.1,110.9 L194.2,110.9 L194.3,110.7 L194.4,110.6 L194.5,110.4 L194.6,110.0 L194.7,109.8 L194.9,109.5 L195.0,109.3 L195.1,109.1 L195.2,108.8 L195.3,108.6 L195.4,108.3 L195.5,108.0 L195.8,107.7 L195.8,107.4 L195.9,107.2 L196.2,106.9 L196.2,106.6 L196.3,106.2 L196.5,105.8 L196.6,105.5 L196.8,105.1 L197.0,104.6 L197.2,104.3 L197.3,104.2 L197.5,103.6 L197.6,102.9 L197.8,102.8 L198.1,102.3 L198.1,101.7 L198.4,101.6 L198.6,101.0 L198.7,100.5 L198.8,100.0 L199.2,99.6 L199.3,99.2 L199.6,98.8 L199.7,98.3 L199.9,98.0 L200.1,97.7 L200.3,97.4 L200.4,97.0 L200.5,96.9 L200.8,96.7 L200.9,96.5 L201.1,96.3 L201.2,95.9 L201.4,96.0 L201.5,95.8 L201.8,95.4 L202.0,95.3 L202.3,95.1 L202.4,95.0 L202.8,95.0 L203.1,94.8 L203.4,94.8 L203.7,94.4 L204.2,94.2 L204.6,94.2 L204.9,93.8 L205.3,94.2 L205.8,93.9 L206.1,93.8 L206.5,93.7 L207.0,93.5 L207.3,93.4 L207.7,93.2 L208.1,93.1 L208.4,93.1 L208.9,92.9 L209.2,93.0 L209.6,92.7 L210.1,92.7 L210.4,92.5 L210.8,92.3 L211.2,92.4 L211.6,92.2 L211.9,92.0 L212.3,91.9 L212.6,91.7 L213.0,91.6 L213.2,91.4 L213.5,91.3 L213.7,91.2 L214.0,90.8 L214.3,90.7 L214.4,90.5 L214.8,90.2 L214.9,90.0 L215.1,89.9 L215.4,89.6 L215.5,89.3 L215.9,88.9 L216.1,88.8 L216.2,88.5 L216.5,88.0 L216.8,87.5 L217.0,87.1 L217.2,87.0 L217.5,86.5 L217.8,85.9 L217.9,85.3 L218.3,85.0 L218.4,84.4 L218.8,84.0 L219.1,83.2 L219.2,82.7 L219.4,82.1 L219.7,81.6 L220.1,80.8 L220.4,80.3 L220.7,79.4 L220.9,78.6 L221.3,78.0 L221.6,77.2 L222.0,76.1 L222.3,75.5 L222.5,74.8 L222.9,74.0 L223.2,73.4 L223.5,72.4 L223.8,71.8 L224.1,70.9 L224.4,70.3 L224.5,69.8 L224.9,69.2 L225.2,68.6 L225.5,68.0 L225.7,67.5 L225.9,66.9 L226.3,66.2 L226.4,65.8 L226.7,65.1 L226.9,64.8 L227.1,64.3 L227.4,63.8 L227.7,63.1 L227.8,63.0 L228.1,63.0 L228.2,62.6 L228.3,61.8 L228.5,61.8 L228.7,61.6 L228.8,61.5 L229.0,61.0 L229.1,60.9 L229.4,61.0 L229.5,60.2 L229.7,60.4 L230.0,60.8 L230.2,60.3 L230.5,58.9 L230.8,60.1 L231.2,58.7 L231.6,59.1 L231.8,58.5 L232.1,58.2 L232.6,57.8 L233.0,58.1 L233.4,57.0 L233.7,56.7 L234.2,56.7 L234.6,57.0 L235.0,55.0 L235.4,56.8 L235.8,55.5 L236.2,56.4 L236.7,56.6 L237.2,55.5 L237.7,55.5 L238.2,54.3 L238.7,53.9 L239.2,52.7 L239.7,53.7 L240.1,53.2 L240.5,51.8 L240.8,53.8 L241.2,54.1 L241.3,53.2" fill="none" stroke="#a8082d" stroke-width="1.15" stroke-linejoin="round" stroke-linecap="round"/>
<path d="M226.0,91.0 L226.3,91.0 L226.7,91.1 L227.0,91.1 L227.3,91.1 L227.6,91.2 L228.0,91.2 L228.3,91.3 L228.7,91.3 L229.1,91.4 L229.6,91.4 L230.1,91.5 L230.6,91.5 L231.2,91.6 L231.9,91.6 L232.6,91.7 L233.5,91.7 L234.4,91.8 L235.3,91.8 L236.3,91.9 L237.4,91.9 L238.5,92.0 L239.5,92.0 L240.6,92.1 L241.7,92.2 L242.8,92.2 L243.8,92.3 L244.8,92.3 L245.7,92.4 L246.6,92.5 L247.5,92.5 L248.5,92.6 L249.4,92.7 L250.4,92.8 L251.3,92.8 L252.2,92.9 L253.1,93.0 L253.9,93.0 L254.7,93.1 L255.4,93.2 L256.0,93.2 L256.5,93.3 L257.0,93.3" fill="none" stroke="#2a467c" stroke-width="1.75" stroke-opacity="0.5" stroke-linejoin="round" stroke-linecap="round"/>
<path d="M202.1,108.9 L202.2,109.0 L202.2,108.8 L202.4,108.8 L202.5,108.8 L202.7,108.7 L202.8,109.0 L202.8,108.9 L203.0,108.8 L203.2,108.8 L203.4,108.9 L203.5,108.9 L203.7,108.9 L203.9,109.0 L204.0,108.9 L204.1,109.0 L204.4,109.0 L204.4,109.0 L204.6,109.1 L204.7,109.0 L204.8,109.4 L205.0,109.1 L205.1,109.2 L205.2,109.1 L205.3,109.2 L205.6,109.3 L205.7,109.4 L205.9,109.5 L206.0,109.6 L206.1,109.8 L206.3,110.0 L206.5,110.2 L206.7,110.1 L206.8,110.5 L207.1,110.6 L207.2,110.6 L207.5,110.8 L207.7,111.0 L207.8,111.4 L208.0,111.4 L208.2,111.6 L208.4,111.9 L208.5,112.0 L208.7,112.2 L208.8,112.5 L209.0,112.7 L209.2,112.7 L209.3,113.0 L209.5,113.5 L209.7,113.5 L209.8,114.0 L210.0,114.1 L210.1,114.4 L210.3,114.5 L210.5,114.4 L210.6,114.6 L210.8,114.6 L210.8,114.7 L211.1,114.7 L211.3,114.4 L211.4,114.2 L211.5,113.8 L211.7,113.8 L211.8,113.5 L212.1,113.3 L212.1,113.0 L212.2,112.8 L212.4,112.4 L212.5,112.1 L212.6,111.6 L212.9,111.5 L213.0,111.2 L213.0,110.7 L213.2,110.7 L213.3,110.3 L213.4,110.1 L213.5,109.8 L213.7,109.4 L213.8,109.3 L213.9,108.7 L214.0,108.3 L214.1,108.0 L214.3,107.5 L214.4,107.0 L214.6,106.6 L214.8,106.1 L215.0,105.4 L215.1,104.6 L215.1,104.2 L215.4,103.5 L215.7,102.7 L215.9,101.9 L216.1,101.3 L216.2,100.4 L216.4,99.8 L216.6,98.9 L216.9,98.2 L217.0,97.6 L217.2,97.1 L217.4,96.6 L217.6,96.3 L217.7,95.7 L217.9,95.3 L218.2,95.0 L218.4,94.5 L218.4,94.0 L218.7,93.5 L218.9,93.5 L219.1,92.9 L219.2,92.5 L219.4,92.2 L219.6,92.2 L219.8,91.7 L219.9,91.7 L220.3,91.5 L220.4,91.5 L220.4,91.1 L220.7,91.1 L220.7,91.1 L221.0,91.1 L221.2,90.9 L221.5,90.9 L221.6,90.8 L221.8,90.9 L222.0,90.8 L222.2,90.7 L222.4,90.7 L222.7,90.6 L222.9,90.7 L223.1,90.7 L223.3,90.7 L223.5,90.8 L223.7,91.1 L224.0,90.8 L224.2,91.1 L224.5,90.5 L224.8,90.3 L225.0,90.9 L225.4,91.3 L225.7,91.5 L226.0,90.9 L226.3,91.2 L226.6,90.9 L226.9,91.4 L227.2,90.6 L227.6,90.8 L228.0,91.9 L228.3,90.7 L228.7,90.5 L229.1,91.5 L229.6,91.4 L230.2,90.1 L230.6,92.3 L231.2,90.9 L232.0,91.2 L232.7,91.7 L233.5,93.2 L234.4,91.8 L235.3,92.4 L236.3,91.8 L237.4,92.4 L238.4,91.0 L239.5,92.0 L240.7,91.6 L241.8,91.4 L242.7,92.5 L243.8,93.2 L244.8,92.8 L245.7,92.2 L246.7,93.0 L247.5,91.8 L248.5,92.7 L249.4,93.1 L250.4,92.8 L251.3,92.6 L252.1,93.1 L253.0,92.5 L253.9,92.9 L254.7,93.7 L255.3,91.9 L256.0,94.2 L256.5,93.9 L256.9,93.2" fill="none" stroke="#2a467c" stroke-width="1.15" stroke-linejoin="round" stroke-linecap="round"/>
<path d="M307.5,41.3 L307.7,41.1 L308.0,40.8 L308.2,40.6 L308.4,40.4 L308.7,40.2 L308.9,40.0 L309.2,39.8 L309.4,39.6 L309.7,39.4 L309.9,39.2 L310.2,39.0 L310.5,38.9 L310.7,38.7 L311.0,38.5 L311.3,38.3 L311.5,38.2 L311.8,38.0 L312.0,37.8 L312.2,37.7 L312.5,37.5 L312.7,37.4 L313.0,37.2 L313.3,37.1 L313.6,36.9 L313.9,36.8 L314.2,36.6 L314.6,36.5 L315.0,36.3 L315.4,36.1 L315.9,36.0 L316.4,35.8 L317.0,35.6 L317.5,35.4 L318.1,35.2 L318.7,35.0 L319.3,34.8 L319.9,34.7 L320.5,34.5 L321.1,34.3 L321.7,34.1 L322.4,34.0 L323.0,33.8 L323.7,33.6 L324.4,33.5 L325.1,33.3 L325.9,33.2 L326.7,33.0 L327.5,32.9 L328.2,32.7 L329.0,32.6 L329.7,32.5 L330.4,32.4 L331.1,32.3 L331.6,32.2 L332.1,32.1 L332.5,32.0" fill="none" stroke="#a8082d" stroke-width="1.86" stroke-opacity="0.5" stroke-linejoin="round" stroke-linecap="round"/>
<path d="M282.0,103.0 L282.1,103.1 L282.0,103.2 L282.2,103.3 L282.2,103.6 L282.2,103.7 L282.3,103.9 L282.5,104.1 L282.6,104.3 L282.6,104.6 L282.7,104.8 L282.8,105.1 L282.8,105.3 L282.8,105.3 L283.0,105.4 L283.0,105.7 L283.1,105.8 L283.1,106.2 L283.2,106.1 L283.3,106.4 L283.3,106.8 L283.5,106.9 L283.3,107.1 L283.5,107.3 L283.5,107.3 L283.6,107.5 L283.7,107.4 L283.8,107.5 L283.8,107.7 L283.8,107.4 L284.0,107.4 L284.0,107.2 L284.0,107.3 L284.1,106.9 L284.1,106.7 L284.2,106.5 L284.4,106.3 L284.4,105.9 L284.5,105.7 L284.6,105.3 L284.7,105.0 L284.8,104.4 L285.1,103.9 L285.2,103.4 L285.3,102.8 L285.7,102.0 L285.9,101.4 L286.2,100.5 L286.5,99.8 L286.8,98.9 L287.1,98.0 L287.4,97.2 L287.6,96.1 L287.9,95.4 L288.3,94.3 L288.5,93.4 L288.9,92.5 L289.1,91.5 L289.3,90.8 L289.5,89.7 L289.7,88.6 L289.9,87.6 L290.2,86.7 L290.5,85.7 L290.6,84.8 L290.9,83.8 L291.1,82.9 L291.3,81.9 L291.5,80.8 L291.7,80.0 L292.1,79.1 L292.1,77.9 L292.5,77.2 L292.7,76.3 L292.8,75.4 L293.1,74.8 L293.3,73.9 L293.5,73.0 L293.7,72.1 L293.9,71.2 L294.2,70.5 L294.4,69.7 L294.5,68.9 L294.7,68.0 L294.9,67.4 L295.2,66.7 L295.3,66.1 L295.6,65.3 L295.9,64.6 L296.0,63.9 L296.2,63.2 L296.5,62.6 L296.7,61.8 L296.8,61.2 L297.1,60.4 L297.3,60.0 L297.6,59.3 L297.7,58.7 L298.0,58.0 L298.2,57.4 L298.4,56.6 L298.6,56.2 L299.0,55.6 L299.2,54.6 L299.5,54.5 L299.6,53.6 L299.9,53.2 L300.2,52.5 L300.3,52.0 L300.6,51.6 L300.9,51.0 L301.0,50.7 L301.3,50.0 L301.5,49.6 L301.8,49.1 L302.0,48.7 L302.3,48.3 L302.4,48.0 L302.7,47.7 L302.9,47.2 L303.1,46.8 L303.3,46.5 L303.6,46.1 L303.8,46.0 L304.0,45.6 L304.3,45.2 L304.5,45.0 L304.7,44.8 L304.9,44.5 L305.2,44.0 L305.4,43.8 L305.5,43.4 L305.8,43.3 L305.9,42.9 L306.1,42.8 L306.4,42.6 L306.7,42.6 L306.9,42.2 L307.1,41.2 L307.2,41.3 L307.5,41.8 L307.7,40.5 L308.0,41.5 L308.1,40.7 L308.4,41.0 L308.8,39.8 L309.0,39.3 L309.2,39.2 L309.5,40.7 L309.6,39.2 L309.9,38.1 L310.3,39.7 L310.5,37.6 L310.8,38.7 L311.0,38.7 L311.3,38.5 L311.5,38.4 L311.7,37.9 L312.1,35.5 L312.2,37.8 L312.5,37.4 L312.7,37.1 L313.0,37.8 L313.2,37.7 L313.5,37.0 L313.8,38.2 L314.2,38.4 L314.5,36.8 L314.9,36.0 L315.4,34.9 L315.9,36.3 L316.4,34.2 L316.9,37.0 L317.5,36.2 L318.1,34.7 L318.7,35.6 L319.3,34.0 L319.9,33.6 L320.4,35.1 L321.1,33.2 L321.7,34.3 L322.4,33.8 L323.0,35.0 L323.6,33.7 L324.4,34.9 L325.1,34.0 L325.9,32.5 L326.6,31.9 L327.3,31.2 L328.2,32.7 L329.2,30.0 L329.7,31.8 L330.4,30.1 L331.1,31.7 L331.6,32.7 L332.1,31.4 L332.5,31.5" fill="none" stroke="#a8082d" stroke-width="1.15" stroke-linejoin="round" stroke-linecap="round"/>
<path d="M341.3,42.5 L341.5,42.2 L341.8,41.9 L342.1,41.7 L342.4,41.4 L342.6,41.1 L343.0,40.8 L343.3,40.6 L343.6,40.3 L343.9,40.0 L344.2,39.8 L344.5,39.5 L344.9,39.3 L345.2,39.0 L345.5,38.8 L345.8,38.6 L346.1,38.4 L346.4,38.2 L346.6,38.0 L346.9,37.8 L347.2,37.7 L347.4,37.5 L347.7,37.3 L348.0,37.2 L348.4,37.0 L348.7,36.8 L349.1,36.7 L349.5,36.5 L350.0,36.3 L350.5,36.1 L351.0,35.9 L351.6,35.7 L352.2,35.5 L352.8,35.3 L353.5,35.1 L354.2,34.9 L354.9,34.7 L355.5,34.5 L356.2,34.3 L356.9,34.1 L357.6,33.9 L358.3,33.7 L359.0,33.5 L359.7,33.3 L360.4,33.1 L361.2,32.9 L362.0,32.8 L362.8,32.6 L363.7,32.4 L364.5,32.2 L365.2,32.1 L366.0,31.9 L366.7,31.8 L367.3,31.6 L367.9,31.5 L368.4,31.4 L368.8,31.3" fill="none" stroke="#2a467c" stroke-width="1.86" stroke-opacity="0.5" stroke-linejoin="round" stroke-linecap="round"/>
<path d="M312.5,99.0 L312.6,98.9 L312.6,98.8 L313.0,98.8 L313.1,98.7 L313.2,98.5 L313.3,98.7 L313.6,98.4 L313.7,98.5 L314.0,98.4 L314.2,98.5 L314.4,98.5 L314.6,98.4 L314.8,98.3 L315.0,98.3 L315.1,98.3 L315.4,98.2 L315.5,98.2 L315.9,98.2 L315.9,98.2 L316.0,98.3 L316.4,98.2 L316.4,98.3 L316.6,98.2 L316.8,98.2 L317.1,98.5 L317.3,98.6 L317.3,98.6 L317.5,98.9 L317.7,99.0 L317.8,99.1 L317.9,99.6 L318.1,99.5 L318.3,100.0 L318.5,100.4 L318.4,100.5 L318.7,101.1 L318.8,101.2 L319.0,101.8 L319.1,102.0 L319.2,102.4 L319.4,102.7 L319.5,103.2 L319.6,103.4 L319.7,103.9 L319.9,104.3 L320.0,104.7 L320.1,105.1 L320.2,105.7 L320.4,106.2 L320.4,106.7 L320.7,107.0 L320.8,107.3 L320.9,107.7 L321.0,107.8 L321.2,108.0 L321.3,107.8 L321.4,107.8 L321.6,107.7 L321.7,107.4 L321.9,107.1 L322.0,106.9 L322.1,106.4 L322.3,106.0 L322.5,105.5 L322.7,104.9 L322.9,104.4 L323.1,103.7 L323.2,103.3 L323.3,102.4 L323.5,102.0 L323.7,101.5 L323.9,100.9 L324.1,100.2 L324.2,99.6 L324.4,99.0 L324.7,98.3 L324.8,97.5 L324.9,97.0 L325.3,96.1 L325.5,95.5 L325.7,94.6 L325.9,93.7 L326.1,93.3 L326.3,92.7 L326.5,91.5 L326.7,90.9 L326.8,90.2 L327.0,89.4 L327.3,88.5 L327.5,87.7 L327.7,86.7 L327.8,86.1 L328.1,85.3 L328.3,84.3 L328.5,83.2 L328.6,82.8 L328.8,81.8 L328.9,81.1 L329.2,80.4 L329.4,79.5 L329.6,78.6 L329.7,77.9 L329.9,77.1 L330.0,76.1 L330.2,75.4 L330.3,74.4 L330.5,73.7 L330.6,73.1 L330.9,72.4 L330.9,71.4 L331.1,70.9 L331.4,70.0 L331.4,69.4 L331.7,68.5 L331.8,68.0 L332.1,67.0 L332.1,66.2 L332.5,65.5 L332.6,64.6 L332.9,64.1 L333.2,63.3 L333.3,62.7 L333.4,61.9 L333.7,61.0 L333.9,60.4 L334.0,59.9 L334.2,59.3 L334.4,58.9 L334.4,58.1 L334.7,57.7 L334.8,57.1 L335.0,56.7 L335.2,56.0 L335.3,55.5 L335.4,54.9 L335.6,54.5 L335.8,54.0 L336.0,53.5 L336.2,53.1 L336.3,52.4 L336.4,52.0 L336.7,51.6 L336.8,51.0 L337.1,50.7 L337.2,50.2 L337.4,49.7 L337.6,49.2 L337.9,48.9 L338.0,48.4 L338.4,48.0 L338.5,47.5 L338.6,47.3 L338.8,46.9 L339.1,46.5 L339.2,46.2 L339.4,45.5 L339.5,45.7 L339.6,45.2 L339.7,45.1 L340.0,45.0 L340.0,44.2 L340.2,44.3 L340.4,43.6 L340.4,43.3 L340.6,43.3 L340.9,43.2 L341.0,43.2 L341.3,43.0 L341.6,42.4 L341.8,42.4 L342.1,40.4 L342.4,41.4 L342.6,41.3 L343.0,41.2 L343.3,41.5 L343.6,40.5 L344.0,40.9 L344.2,39.5 L344.5,40.0 L344.8,39.5 L345.2,39.0 L345.5,39.2 L345.8,39.1 L346.1,37.4 L346.4,39.2 L346.7,37.7 L346.9,38.0 L347.2,35.5 L347.5,37.3 L347.7,35.6 L347.9,38.0 L348.4,36.5 L348.7,36.4 L349.1,36.4 L349.5,35.4 L350.0,36.5 L350.5,34.9 L351.1,35.7 L351.6,36.6 L352.2,36.7 L352.9,36.5 L353.5,34.9 L354.2,34.1 L354.8,35.2 L355.5,35.9 L356.3,33.5 L357.0,35.1 L357.6,33.8 L358.4,31.4 L359.0,33.6 L359.7,35.0 L360.5,33.8 L361.2,34.0 L362.1,33.1 L362.9,31.0 L363.7,30.4 L364.4,31.3 L365.2,31.7 L366.0,31.1 L366.7,31.0 L367.4,32.3 L367.9,32.7 L368.4,30.0 L368.9,30.2" fill="none" stroke="#2a467c" stroke-width="1.15" stroke-linejoin="round" stroke-linecap="round"/>
<path d="M372.3,103.0 L372.4,102.9 L372.5,103.1 L372.7,103.2 L372.7,103.0 L372.8,103.1 L372.9,102.8 L373.0,103.1 L373.2,103.0 L373.3,103.3 L373.5,103.1 L373.7,103.3 L373.7,103.1 L373.9,103.1 L374.0,103.1 L374.2,103.1 L374.1,103.2 L374.3,103.4 L374.4,103.2 L374.4,103.4 L374.5,103.5 L374.7,103.5 L374.7,103.6 L374.8,103.6 L374.8,103.7 L375.0,103.5 L375.1,103.9 L375.1,103.9 L375.3,103.9 L375.3,104.1 L375.4,104.3 L375.5,104.5 L375.5,104.5 L375.7,104.7 L375.7,104.9 L375.8,105.3 L375.9,105.3 L375.9,105.6 L376.1,105.7 L376.2,106.0 L376.4,106.1 L376.4,106.3 L376.5,106.6 L376.6,106.7 L376.6,106.7 L376.7,107.3 L376.8,107.1 L376.9,107.3 L377.0,107.4 L377.1,107.9 L377.1,107.9 L377.2,108.1 L377.3,108.3 L377.3,108.2 L377.5,108.4 L377.6,108.5 L377.6,108.3 L377.7,108.3 L377.7,108.2 L377.9,108.1 L378.0,108.1 L378.1,107.8 L378.1,107.6 L378.2,107.2 L378.3,107.1 L378.5,106.8 L378.6,106.6 L378.7,106.4 L378.8,106.1 L378.9,105.8 L379.1,105.5 L379.1,105.2 L379.3,105.0 L379.4,104.4 L379.6,104.3 L379.7,104.0 L379.9,103.6 L380.0,103.0 L380.2,102.6 L380.3,102.2 L380.5,101.9 L380.6,101.3 L380.9,100.6 L381.1,100.0 L381.2,99.8 L381.3,99.5 L381.6,98.5 L381.8,98.0 L381.9,97.4 L382.2,96.7 L382.4,96.1 L382.6,95.1 L382.8,94.6 L383.0,93.8 L383.2,93.2 L383.3,92.5 L383.6,91.9 L383.9,91.0 L384.1,90.4 L384.2,89.8 L384.3,89.3 L384.6,88.7 L384.7,88.0 L384.9,87.5 L385.1,86.9 L385.2,86.6 L385.4,85.9 L385.5,85.3 L385.7,84.9 L385.8,84.2 L386.1,83.9 L386.2,83.3 L386.5,83.1 L386.6,82.5 L386.8,81.9 L386.9,81.6 L387.2,81.1 L387.3,80.7 L387.6,79.9 L387.7,79.7 L387.8,79.3 L388.0,79.1 L388.3,78.4 L388.4,78.2 L388.7,77.7 L388.8,77.2 L389.0,76.9 L389.2,76.7 L389.4,76.2 L389.6,75.9 L389.7,75.5 L389.9,75.2 L390.2,74.9 L390.3,74.5 L390.4,74.0 L390.7,73.8 L390.9,73.5 L391.1,73.4 L391.3,72.8 L391.5,72.8 L391.7,72.2 L391.9,72.2 L392.1,71.5 L392.4,71.4 L392.6,70.9 L392.7,70.7 L393.0,70.6 L393.4,70.4 L393.7,69.9 L393.9,69.8 L394.0,69.5 L394.2,69.5 L394.6,69.1 L394.8,68.9 L395.0,68.9 L395.3,68.0 L395.4,67.8 L395.7,67.7 L395.9,67.9 L396.0,67.2 L396.2,67.4 L396.4,67.1 L396.7,66.9 L396.9,66.8 L397.1,66.9 L397.3,66.4 L397.5,66.2 L397.8,66.3 L398.0,66.4 L398.2,65.7 L398.5,66.0 L398.7,65.7 L399.1,65.3 L399.3,65.2 L399.7,65.0 L399.9,65.3 L400.2,64.9 L400.4,65.4 L400.8,63.8 L401.2,64.3 L401.4,64.1 L401.6,64.6 L402.0,64.1 L402.3,63.9 L402.6,64.1 L402.9,63.6 L403.2,63.8 L403.5,63.9 L403.7,63.9 L404.1,63.1 L404.3,63.3 L404.7,63.4 L405.0,63.0 L405.3,62.9 L405.7,63.0 L406.1,62.8 L406.5,62.9 L406.9,62.9 L407.5,62.5 L407.9,62.9 L408.4,62.5 L408.9,62.4 L409.5,62.5 L410.1,62.1 L410.7,61.7 L411.2,61.8 L411.8,62.3 L412.3,62.1 L412.9,61.7 L413.4,61.5 L414.0,61.3 L414.5,61.8 L415.2,61.5 L415.7,61.6 L416.3,61.9 L416.8,61.6 L417.5,62.0 L418.2,61.3 L418.7,61.8 L419.3,61.7 L419.7,61.1 L420.3,61.5 L420.6,61.9 L421.0,60.8 L421.3,61.2" fill="none" stroke="#a8082d" stroke-width="1.15" stroke-linejoin="round" stroke-linecap="round"/>
<path d="M405.0,90.5 L405.3,90.3 L405.5,90.2 L405.8,90.0 L406.1,89.9 L406.3,89.8 L406.6,89.7 L406.9,89.5 L407.1,89.4 L407.4,89.3 L407.7,89.2 L407.9,89.1 L408.2,89.0 L408.4,88.9 L408.7,88.8 L408.9,88.7 L409.2,88.6 L409.4,88.5 L409.7,88.4 L409.9,88.3 L410.2,88.2 L410.4,88.1 L410.6,88.0 L410.9,87.9 L411.1,87.8 L411.3,87.7 L411.5,87.6 L411.8,87.6 L412.0,87.5 L412.2,87.4 L412.4,87.4 L412.5,87.3 L412.7,87.3 L412.8,87.2 L412.9,87.2 L413.1,87.1 L413.2,87.1 L413.4,87.1 L413.6,87.0 L413.9,87.0 L414.2,87.0 L414.6,87.0 L415.0,87.0 L415.5,87.0 L416.1,87.0 L416.7,87.0 L417.3,87.1 L418.1,87.1 L418.8,87.1 L419.6,87.2 L420.3,87.2 L421.1,87.3 L421.9,87.3 L422.7,87.4 L423.5,87.4 L424.3,87.5 L425.0,87.5 L425.7,87.5 L426.5,87.6 L427.3,87.6 L428.1,87.7 L429.0,87.8 L429.8,87.8 L430.6,87.9 L431.4,87.9 L432.2,88.0 L432.9,88.0 L433.5,88.1 L434.1,88.1 L434.6,88.2 L435.0,88.2" fill="none" stroke="#2a467c" stroke-width="1.70" stroke-opacity="0.5" stroke-linejoin="round" stroke-linecap="round"/>
<path d="M385.4,102.1 L385.5,101.9 L385.6,101.9 L385.7,102.0 L385.8,102.0 L386.0,102.0 L386.2,101.8 L386.3,102.0 L386.5,101.9 L386.7,101.8 L386.9,101.9 L387.0,102.0 L387.2,102.0 L387.4,102.0 L387.5,102.0 L387.5,102.0 L387.8,102.2 L388.0,102.1 L388.0,101.9 L388.1,101.9 L388.3,102.0 L388.4,102.1 L388.5,102.2 L388.6,102.0 L388.7,102.4 L388.9,102.6 L389.0,102.5 L389.1,102.9 L389.2,102.9 L389.3,103.3 L389.5,103.5 L389.5,104.1 L389.6,104.5 L389.6,104.9 L389.8,105.1 L389.8,105.7 L390.0,106.1 L390.1,106.7 L390.2,107.2 L390.3,107.8 L390.3,108.1 L390.4,108.6 L390.6,109.0 L390.6,109.3 L390.7,110.1 L390.8,110.5 L390.8,111.1 L390.9,111.6 L391.1,111.9 L391.1,112.5 L391.2,113.1 L391.3,113.5 L391.3,113.9 L391.5,114.1 L391.6,114.5 L391.6,114.4 L391.7,114.6 L391.8,114.4 L391.9,114.5 L392.0,114.2 L392.1,113.9 L392.2,113.4 L392.4,112.8 L392.5,112.4 L392.6,112.0 L392.8,111.5 L392.8,111.0 L393.0,110.5 L393.2,109.9 L393.3,109.5 L393.4,108.8 L393.7,108.6 L393.9,107.9 L394.0,107.8 L394.1,107.1 L394.4,106.9 L394.4,106.6 L394.6,106.0 L394.9,105.6 L395.1,105.2 L395.3,104.4 L395.5,104.1 L395.7,103.8 L395.7,103.3 L395.9,103.0 L396.2,102.9 L396.4,102.4 L396.5,101.8 L396.7,101.3 L396.8,101.0 L397.1,100.6 L397.2,100.1 L397.4,99.9 L397.6,99.1 L397.9,99.1 L397.9,98.5 L398.2,98.3 L398.2,97.8 L398.4,97.4 L398.7,97.1 L398.9,96.9 L399.0,96.6 L399.3,96.5 L399.6,96.1 L399.6,95.6 L399.8,95.2 L400.1,95.1 L400.2,94.9 L400.5,94.4 L400.6,94.3 L400.8,94.1 L401.1,93.7 L401.3,93.3 L401.5,93.3 L401.7,93.2 L402.0,92.7 L402.3,92.6 L402.5,92.4 L402.8,92.4 L403.2,91.5 L403.4,92.0 L403.7,91.2 L403.9,91.0 L404.1,91.0 L404.5,90.6 L404.7,90.6 L405.0,90.3 L405.3,90.3 L405.5,90.5 L405.8,89.6 L406.1,90.3 L406.3,89.7 L406.5,89.8 L406.9,90.1 L407.1,89.4 L407.4,90.1 L407.7,88.6 L407.9,89.8 L408.2,88.7 L408.5,89.5 L408.7,88.4 L408.9,89.9 L409.2,88.9 L409.4,89.1 L409.7,87.5 L409.9,87.4 L410.1,88.3 L410.4,89.1 L410.6,88.0 L410.9,86.8 L411.2,89.0 L411.3,87.4 L411.6,88.2 L411.7,87.1 L412.0,87.1 L412.3,87.5 L412.5,85.6 L412.5,86.6 L412.7,87.2 L412.7,87.1 L412.9,86.0 L413.0,87.7 L413.2,87.0 L413.4,87.0 L413.6,85.9 L413.9,86.8 L414.2,87.6 L414.5,87.5 L415.0,87.5 L415.5,86.9 L416.1,86.8 L416.7,87.0 L417.3,87.6 L418.0,86.6 L418.8,87.1 L419.6,87.5 L420.4,86.9 L421.1,87.5 L422.0,87.3 L422.8,86.6 L423.6,88.3 L424.2,87.9 L425.0,86.9 L425.8,86.8 L426.5,87.3 L427.3,87.3 L428.1,87.1 L429.0,87.9 L429.8,87.7 L430.6,87.1 L431.4,88.8 L432.3,87.6 L432.8,88.2 L433.6,87.2 L434.1,87.4 L434.6,87.3 L435.0,88.8" fill="none" stroke="#2a467c" stroke-width="1.15" stroke-linejoin="round" stroke-linecap="round"/>
<path d="M473.0,67.7 L473.3,67.5 L473.6,67.3 L473.9,67.1 L474.1,66.9 L474.4,66.8 L474.7,66.6 L475.0,66.4 L475.3,66.3 L475.5,66.1 L475.8,65.9 L476.1,65.8 L476.4,65.6 L476.6,65.5 L476.9,65.3 L477.2,65.1 L477.4,65.0 L477.7,64.8 L477.9,64.6 L478.2,64.4 L478.4,64.3 L478.6,64.1 L478.9,63.9 L479.1,63.8 L479.3,63.6 L479.6,63.4 L479.8,63.3 L480.1,63.1 L480.3,63.0 L480.5,62.9 L480.8,62.7 L481.0,62.6 L481.2,62.5 L481.5,62.3 L481.7,62.2 L481.9,62.1 L482.1,62.0 L482.4,61.9 L482.6,61.8 L482.9,61.7 L483.1,61.6 L483.4,61.5 L483.7,61.4 L484.0,61.3 L484.4,61.3 L484.7,61.2 L485.1,61.1 L485.5,61.1 L486.0,61.0 L486.4,61.0 L486.8,61.0 L487.2,60.9 L487.5,60.9 L487.8,60.9 L488.1,60.8 L488.4,60.8 L488.6,60.8" fill="none" stroke="#a8082d" stroke-width="1.75" stroke-opacity="0.5" stroke-linejoin="round" stroke-linecap="round"/>
<path d="M438.0,104.2 L438.0,104.2 L438.2,104.3 L438.3,104.0 L438.4,103.9 L438.6,103.9 L438.8,103.8 L438.9,104.1 L439.1,103.8 L439.2,103.8 L439.4,104.0 L439.5,104.0 L439.7,104.0 L439.9,103.7 L440.0,103.9 L440.2,103.9 L440.3,104.0 L440.4,104.0 L440.6,104.1 L440.8,104.2 L440.9,104.4 L441.0,104.1 L441.1,104.2 L441.3,104.3 L441.5,104.2 L441.6,104.2 L441.8,104.4 L441.9,104.5 L442.1,104.6 L442.1,104.5 L442.4,104.5 L442.4,104.7 L442.5,105.1 L442.5,105.2 L442.6,105.2 L442.7,105.5 L442.8,105.7 L442.8,105.9 L442.9,105.8 L442.9,106.1 L443.1,106.2 L443.1,106.3 L443.2,106.7 L443.3,106.5 L443.4,106.8 L443.4,107.1 L443.5,107.2 L443.6,107.4 L443.6,107.2 L443.6,107.6 L443.8,107.8 L443.7,107.9 L443.9,107.9 L443.9,108.0 L444.0,108.0 L444.0,108.2 L444.1,107.9 L444.2,107.9 L444.3,107.7 L444.4,107.5 L444.5,107.5 L444.6,107.2 L444.6,106.8 L444.7,106.4 L444.8,106.1 L444.9,105.6 L445.0,105.4 L445.1,105.1 L445.3,104.7 L445.4,104.2 L445.4,104.1 L445.7,103.7 L445.7,103.3 L445.9,103.1 L446.0,102.6 L446.2,102.3 L446.3,101.7 L446.5,101.4 L446.6,100.9 L446.7,100.6 L446.9,100.1 L447.1,99.8 L447.1,99.4 L447.3,98.9 L447.5,98.8 L447.6,98.4 L447.8,97.9 L448.1,97.6 L448.2,97.2 L448.3,96.8 L448.5,96.7 L448.7,96.2 L448.9,95.9 L449.1,95.6 L449.4,95.3 L449.5,95.0 L449.6,94.6 L449.8,94.3 L450.0,94.0 L450.2,93.6 L450.3,93.4 L450.5,93.3 L450.7,93.1 L450.9,92.7 L451.0,92.4 L451.2,92.3 L451.3,91.9 L451.5,91.7 L451.6,91.4 L451.9,91.2 L452.1,91.4 L452.2,91.0 L452.4,90.5 L452.6,90.5 L452.7,90.3 L452.9,90.4 L453.1,90.1 L453.3,90.0 L453.5,90.0 L453.6,89.9 L453.8,89.6 L454.1,89.5 L454.3,89.3 L454.5,89.4 L454.7,89.2 L454.8,89.1 L455.1,88.9 L455.2,89.0 L455.3,88.8 L455.6,88.8 L455.7,88.8 L455.8,88.5 L456.0,88.5 L456.1,88.5 L456.3,88.3 L456.5,88.3 L456.7,88.2 L456.9,88.0 L457.0,88.0 L457.1,88.0 L457.3,87.8 L457.5,87.6 L457.7,87.4 L457.7,87.4 L458.0,87.2 L458.1,87.0 L458.4,87.0 L458.5,86.7 L458.7,86.5 L459.0,86.5 L459.1,86.2 L459.3,86.0 L459.4,85.8 L459.6,85.5 L459.8,85.2 L460.0,85.3 L460.1,84.7 L460.3,84.6 L460.6,84.6 L460.6,84.2 L460.8,84.1 L460.9,83.8 L461.1,83.8 L461.3,83.4 L461.5,83.2 L461.6,82.7 L461.8,82.7 L462.1,82.4 L462.2,82.0 L462.4,81.7 L462.7,81.3 L462.8,81.0 L463.1,80.5 L463.3,80.1 L463.4,79.7 L463.8,79.4 L464.1,78.9 L464.3,78.5 L464.5,78.3 L464.7,77.7 L464.9,77.3 L465.2,76.8 L465.5,76.6 L465.7,76.1 L466.0,75.6 L466.2,75.3 L466.4,75.0 L466.7,74.5 L467.0,74.2 L467.3,73.8 L467.5,73.6 L467.6,72.9 L467.9,72.6 L468.3,72.2 L468.4,71.8 L468.8,71.5 L469.1,71.2 L469.2,71.0 L469.5,70.5 L469.8,70.4 L470.1,70.1 L470.4,69.8 L470.6,69.2 L471.0,68.9 L471.3,69.0 L471.5,69.2 L471.8,68.2 L472.2,68.4 L472.5,68.1 L472.7,68.3 L473.0,67.4 L473.2,67.5 L473.6,67.5 L473.9,66.9 L474.2,66.8 L474.4,66.7 L474.6,66.9 L474.9,66.8 L475.4,66.6 L475.5,66.5 L475.7,65.4 L476.1,65.5 L476.4,66.0 L476.7,65.5 L476.9,65.8 L477.1,64.3 L477.4,64.3 L477.6,64.1 L477.8,64.9 L478.2,64.0 L478.4,63.5 L478.6,64.3 L478.8,63.6 L479.1,63.0 L479.3,63.8 L479.7,63.3 L479.8,63.5 L480.0,63.4 L480.2,62.6 L480.5,62.6 L480.7,62.8 L481.0,63.0 L481.3,62.4 L481.4,62.9 L481.6,62.0 L482.0,62.1 L482.1,62.7 L482.3,60.9 L482.6,60.8 L482.9,62.3 L483.1,62.2 L483.4,62.1 L483.7,62.0 L484.0,62.1 L484.3,60.9 L484.7,61.2 L485.1,61.5 L485.5,60.1 L485.9,60.2 L486.3,60.5 L486.8,61.6 L487.2,61.4 L487.6,59.9 L487.9,60.7 L488.2,60.5 L488.5,60.9 L488.6,61.2" fill="none" stroke="#a8082d" stroke-width="1.15" stroke-linejoin="round" stroke-linecap="round"/>
<path d="M458.2,104.1 L458.3,104.1 L458.3,104.2 L458.4,104.3 L458.5,104.4 L458.6,104.4 L458.8,104.5 L458.9,104.6 L459.0,105.0 L459.1,104.9 L459.4,104.8 L459.4,105.2 L459.7,105.1 L459.7,105.3 L459.7,105.5 L460.0,105.8 L460.1,105.9 L460.0,106.1 L460.2,106.4 L460.4,106.9 L460.3,106.9 L460.5,107.1 L460.6,107.3 L460.8,107.7 L460.9,107.8 L460.9,108.0 L460.9,108.1 L461.1,108.0 L461.2,108.0 L461.3,107.8 L461.4,107.5 L461.4,107.2 L461.6,106.9 L461.6,106.5 L461.7,106.0 L461.8,105.6 L461.9,105.0 L462.0,104.7 L462.2,104.1 L462.2,103.5 L462.3,103.0 L462.4,102.4 L462.5,102.0 L462.6,101.4 L462.7,101.0 L462.8,100.5 L462.9,99.9 L463.0,99.5 L463.1,98.7 L463.3,98.3 L463.4,97.8 L463.5,97.2 L463.6,96.6 L463.6,96.3 L463.9,95.7 L463.9,95.2 L464.2,94.6 L464.4,94.3 L464.4,93.8 L464.5,93.7 L464.6,93.2 L464.7,92.7 L464.9,92.5 L465.1,92.2 L465.2,91.7 L465.2,91.5 L465.5,91.4 L465.6,90.9 L465.8,90.6 L465.9,90.6 L466.0,90.0 L466.1,89.6 L466.3,89.4 L466.4,89.2 L466.6,89.0 L466.7,88.6 L466.9,88.3 L466.9,88.3 L467.1,88.0 L467.3,87.8 L467.5,87.5 L467.6,87.5 L467.8,87.2 L467.8,86.9 L468.0,86.8 L468.1,86.7 L468.4,86.4 L468.4,86.4 L468.5,86.4 L468.5,86.3 L468.8,86.1 L469.0,86.0 L469.0,85.8 L469.2,85.8 L469.3,85.5 L469.5,85.6 L469.6,85.5 L469.6,85.4 L469.8,85.3 L470.0,85.1 L470.0,85.1 L470.0,85.0 L470.2,85.0 L470.3,85.0 L470.3,84.9 L470.5,85.0 L470.7,84.8 L470.7,84.9 L470.8,84.9 L470.9,84.8 L471.1,84.9 L471.2,84.9 L471.4,84.9 L471.5,85.1 L471.7,84.9 L472.0,85.1 L472.1,85.0 L472.3,85.0 L472.6,85.2 L472.7,85.5 L472.9,85.2 L473.4,85.3 L473.5,85.4 L473.7,85.6 L474.0,85.7 L474.2,86.0 L474.4,86.0 L474.7,86.2 L475.0,86.3 L475.3,86.4 L475.7,86.6 L475.9,86.9 L476.2,87.1 L476.6,87.4 L476.9,87.5 L477.2,87.7 L477.4,87.8 L477.8,88.1 L478.2,88.4 L478.4,88.6 L478.9,89.0 L479.1,89.0 L479.4,89.3 L479.7,89.5 L480.2,89.6 L480.4,89.9 L480.8,90.3 L481.1,90.5 L481.4,90.7 L481.8,91.1 L482.2,91.3 L482.5,91.6 L482.7,91.9 L483.2,92.0 L483.5,92.4 L483.9,92.5 L484.3,92.7 L484.6,93.2 L484.9,93.5 L485.2,93.7 L485.6,93.8 L486.1,94.1 L486.3,94.3 L486.8,94.5 L487.1,94.9 L487.5,95.0 L487.8,95.4 L488.3,95.4 L488.6,95.7 L489.0,95.8 L489.2,95.9 L489.6,96.4 L490.1,96.5 L490.2,96.5 L490.7,96.7 L491.1,96.8 L491.4,96.9 L491.8,96.7 L492.1,96.9 L492.5,97.2 L492.8,97.0 L493.1,97.5 L493.5,97.6 L493.8,97.6 L494.2,97.7 L494.5,97.8 L494.9,97.8 L495.0,98.1 L495.4,98.0 L495.7,98.0 L496.0,98.3 L496.4,98.2 L496.7,98.3 L497.0,98.5 L497.5,98.6 L498.0,98.5 L498.4,98.6 L499.0,98.6 L499.5,98.8 L500.2,99.1 L500.9,98.9 L501.6,99.0 L502.4,99.1 L503.1,99.2 L503.9,99.4 L504.7,99.6 L505.3,99.7 L505.9,99.6 L506.5,99.9 L507.0,100.1 L507.3,100.1" fill="none" stroke="#2a467c" stroke-width="1.15" stroke-linejoin="round" stroke-linecap="round"/>
<path d="M58.8,186.3 L59.1,186.0 L59.3,185.7 L59.6,185.4 L59.9,185.1 L60.2,184.8 L60.5,184.5 L60.8,184.3 L61.1,184.0 L61.4,183.7 L61.7,183.5 L62.1,183.2 L62.4,183.0 L62.7,182.7 L63.0,182.5 L63.3,182.3 L63.6,182.1 L63.9,181.9 L64.2,181.7 L64.5,181.5 L64.8,181.3 L65.1,181.2 L65.5,181.0 L65.8,180.8 L66.1,180.7 L66.4,180.5 L66.8,180.3 L67.1,180.2 L67.5,180.0 L67.9,179.8 L68.3,179.6 L68.7,179.5 L69.1,179.3 L69.5,179.1 L69.9,178.9 L70.4,178.7 L70.8,178.5 L71.3,178.4 L71.7,178.2 L72.2,178.0 L72.6,177.8 L73.1,177.7 L73.5,177.5 L73.9,177.3 L74.4,177.2 L74.8,177.0 L75.2,176.9 L75.6,176.7 L76.0,176.6 L76.5,176.5 L76.9,176.3 L77.4,176.2 L77.8,176.0 L78.3,175.9 L78.9,175.8 L79.4,175.6 L80.0,175.5 L80.7,175.4 L81.4,175.2 L82.2,175.1 L83.0,174.9 L83.9,174.8 L84.8,174.7 L85.7,174.5 L86.5,174.4 L87.4,174.3 L88.1,174.2 L88.9,174.0 L89.5,174.0 L90.1,173.9 L90.5,173.8" fill="none" stroke="#a8082d" stroke-width="2.08" stroke-opacity="0.5" stroke-linejoin="round" stroke-linecap="round"/>
<path d="M34.5,249.3 L34.5,249.4 L34.7,249.6 L34.8,249.3 L34.9,249.3 L35.1,249.2 L35.2,249.2 L35.3,249.1 L35.5,248.8 L35.7,249.0 L35.8,248.8 L35.9,248.9 L36.1,248.9 L36.1,248.6 L36.3,248.7 L36.4,248.8 L36.5,248.8 L36.6,248.7 L36.7,248.5 L36.9,248.6 L36.9,248.5 L37.2,248.7 L37.2,248.6 L37.3,248.7 L37.5,248.3 L37.7,248.6 L37.7,248.6 L37.8,248.7 L38.0,248.7 L38.1,248.9 L38.3,248.9 L38.4,249.3 L38.5,249.2 L38.7,249.3 L38.9,249.5 L38.9,249.7 L39.1,249.9 L39.3,249.9 L39.5,249.9 L39.5,250.4 L39.8,250.5 L39.9,250.8 L40.0,250.9 L40.0,251.3 L40.2,251.4 L40.4,251.8 L40.6,252.1 L40.7,252.6 L40.8,252.8 L41.0,253.3 L41.1,253.5 L41.3,253.8 L41.4,254.0 L41.5,254.2 L41.7,254.4 L41.8,254.5 L42.0,254.7 L42.1,254.5 L42.2,254.5 L42.4,254.3 L42.5,253.8 L42.7,253.4 L42.8,253.2 L42.9,252.9 L43.2,252.4 L43.3,252.1 L43.4,251.5 L43.6,251.0 L43.8,250.6 L43.8,250.1 L44.0,249.5 L44.2,249.0 L44.3,248.5 L44.5,247.8 L44.6,247.3 L44.8,246.5 L45.0,246.2 L45.2,245.2 L45.4,244.4 L45.4,243.6 L45.8,242.9 L45.9,242.3 L45.9,241.5 L46.1,240.9 L46.3,240.0 L46.5,239.1 L46.5,238.4 L46.8,237.6 L46.8,236.8 L47.0,235.8 L47.1,235.1 L47.2,234.0 L47.4,233.4 L47.5,232.4 L47.7,231.6 L47.8,230.6 L47.9,229.8 L47.9,228.9 L48.2,227.8 L48.4,227.2 L48.5,226.2 L48.6,225.3 L48.7,224.4 L48.9,223.2 L48.9,222.2 L49.1,221.3 L49.2,220.4 L49.4,219.4 L49.4,218.4 L49.6,217.8 L49.7,216.7 L49.8,215.9 L50.0,215.1 L50.2,214.3 L50.3,213.2 L50.5,212.7 L50.5,211.9 L50.7,211.2 L50.8,210.3 L51.0,209.6 L51.3,209.0 L51.2,208.3 L51.5,207.6 L51.6,206.9 L51.7,206.3 L52.0,205.6 L52.0,205.0 L52.1,204.3 L52.3,203.7 L52.4,203.2 L52.6,202.6 L52.6,202.2 L52.7,201.5 L52.8,200.8 L53.0,200.7 L53.2,200.1 L53.2,199.6 L53.4,199.0 L53.6,198.5 L53.7,198.2 L53.8,197.4 L53.9,197.1 L54.1,196.6 L54.1,196.2 L54.5,195.5 L54.5,195.2 L54.7,194.6 L54.8,194.0 L55.0,193.5 L55.2,193.3 L55.4,192.6 L55.5,192.2 L55.7,192.0 L55.8,191.3 L56.0,191.1 L56.2,190.8 L56.4,190.4 L56.6,190.0 L56.7,189.6 L57.0,189.4 L57.1,188.8 L57.3,188.4 L57.5,188.1 L57.7,187.8 L57.8,187.1 L58.1,186.7 L58.4,186.6 L58.7,186.8 L58.8,186.0 L59.1,185.7 L59.4,185.1 L59.5,185.8 L59.8,183.7 L60.2,184.7 L60.5,184.1 L60.9,184.3 L61.1,184.1 L61.4,180.9 L61.7,184.6 L61.9,184.1 L62.4,184.7 L62.8,183.4 L62.9,183.4 L63.3,183.0 L63.6,183.9 L63.9,180.3 L64.3,181.6 L64.6,180.6 L64.8,182.1 L65.2,181.6 L65.4,183.0 L65.8,181.0 L66.1,180.5 L66.5,180.4 L66.7,179.5 L67.2,177.9 L67.5,180.1 L67.9,179.3 L68.3,179.2 L68.6,178.2 L69.1,179.4 L69.4,177.9 L69.9,179.4 L70.4,178.3 L70.8,178.2 L71.2,176.5 L71.7,178.5 L72.2,179.0 L72.7,177.7 L73.0,177.1 L73.6,178.1 L74.0,178.3 L74.3,176.9 L74.7,180.2 L75.2,178.4 L75.7,178.5 L76.0,177.2 L76.4,176.8 L77.0,175.3 L77.4,175.9 L77.8,176.3 L78.4,176.8 L79.0,175.1 L79.4,174.8 L80.0,177.0 L80.6,175.6 L81.4,176.3 L82.1,175.2 L83.0,174.4 L83.9,174.7 L84.8,172.0 L85.7,175.7 L86.5,175.0 L87.4,175.6 L88.1,173.9 L88.9,176.4 L89.5,175.3 L90.1,171.9 L90.5,171.8" fill="none" stroke="#a8082d" stroke-width="1.15" stroke-linejoin="round" stroke-linecap="round"/>
<path d="M77.5,190.0 L77.7,189.8 L77.9,189.5 L78.2,189.3 L78.4,189.0 L78.7,188.8 L78.9,188.6 L79.2,188.4 L79.4,188.2 L79.7,188.0 L79.9,187.8 L80.2,187.6 L80.5,187.4 L80.7,187.2 L81.0,187.0 L81.3,186.8 L81.5,186.7 L81.8,186.5 L82.1,186.4 L82.4,186.2 L82.6,186.1 L82.9,186.0 L83.2,185.8 L83.5,185.7 L83.8,185.6 L84.1,185.4 L84.4,185.3 L84.7,185.2 L85.0,185.0 L85.3,184.8 L85.7,184.7 L86.0,184.5 L86.4,184.3 L86.7,184.1 L87.1,183.9 L87.4,183.8 L87.8,183.6 L88.2,183.4 L88.5,183.2 L88.9,183.0 L89.3,182.8 L89.6,182.7 L90.0,182.5 L90.3,182.3 L90.7,182.2 L91.0,182.1 L91.2,181.9 L91.5,181.8 L91.8,181.7 L92.1,181.6 L92.4,181.4 L92.7,181.3 L93.1,181.2 L93.5,181.0 L94.0,180.9 L94.4,180.7 L95.0,180.5 L95.6,180.3 L96.4,180.0 L97.2,179.8 L98.1,179.5 L99.0,179.2 L100.0,178.9 L101.0,178.6 L101.9,178.3 L102.8,178.1 L103.7,177.8 L104.5,177.5 L105.2,177.3 L105.8,177.1 L106.3,177.0" fill="none" stroke="#2a467c" stroke-width="2.08" stroke-opacity="0.5" stroke-linejoin="round" stroke-linecap="round"/>
<path d="M53.9,248.8 L53.8,248.8 L53.9,248.8 L54.0,248.8 L54.2,248.6 L54.2,248.6 L54.4,248.5 L54.6,248.6 L54.7,248.7 L54.8,248.6 L55.0,248.4 L55.1,248.6 L55.3,248.5 L55.4,248.5 L55.6,248.5 L55.7,248.6 L55.8,248.6 L56.0,248.6 L56.1,248.7 L56.2,248.5 L56.4,248.4 L56.4,248.6 L56.6,248.4 L56.8,248.6 L57.0,248.4 L57.0,248.5 L57.2,248.8 L57.3,248.6 L57.4,248.9 L57.7,249.0 L57.8,249.0 L58.0,249.3 L58.2,249.4 L58.1,249.6 L58.4,249.7 L58.5,250.0 L58.7,250.1 L58.9,250.4 L59.0,250.6 L59.1,250.8 L59.2,251.1 L59.4,251.3 L59.6,251.5 L59.6,251.8 L59.8,252.2 L59.9,252.3 L60.0,252.7 L60.2,252.9 L60.3,253.2 L60.5,253.8 L60.5,254.1 L60.7,254.5 L60.9,254.5 L61.0,254.8 L61.0,254.9 L61.1,255.2 L61.3,255.1 L61.5,254.9 L61.6,254.7 L61.6,254.5 L61.8,254.1 L62.0,253.9 L62.1,253.4 L62.3,253.1 L62.5,252.7 L62.5,252.2 L62.6,251.6 L62.7,251.1 L62.9,250.7 L63.1,250.0 L63.2,249.4 L63.3,248.9 L63.5,248.3 L63.6,247.8 L63.6,247.2 L63.9,246.5 L64.0,245.8 L64.1,245.3 L64.4,244.6 L64.2,243.9 L64.4,243.1 L64.6,242.3 L64.7,241.6 L64.8,240.6 L65.0,239.9 L65.2,239.3 L65.3,238.3 L65.4,237.5 L65.6,236.5 L65.6,235.8 L65.8,234.7 L66.0,234.1 L66.1,233.0 L66.3,231.9 L66.4,231.1 L66.6,230.1 L66.7,229.4 L66.8,228.5 L67.0,227.5 L67.2,226.5 L67.3,225.7 L67.4,224.7 L67.4,223.9 L67.6,222.8 L67.7,222.0 L67.9,220.8 L68.0,220.1 L68.1,219.1 L68.3,218.3 L68.4,217.5 L68.6,216.6 L68.7,215.5 L68.8,214.8 L68.9,214.3 L69.1,213.5 L69.2,212.8 L69.4,212.3 L69.5,211.6 L69.6,211.1 L69.7,210.5 L69.7,209.8 L69.9,209.2 L70.0,208.5 L70.2,208.2 L70.3,207.6 L70.4,207.2 L70.6,206.6 L70.7,206.0 L70.9,205.4 L71.1,204.9 L71.2,204.5 L71.3,204.1 L71.4,203.6 L71.4,203.0 L71.7,202.5 L71.9,202.2 L71.9,201.6 L72.1,201.3 L72.2,200.7 L72.4,200.4 L72.5,199.9 L72.6,199.5 L72.8,199.0 L72.9,198.7 L73.2,198.3 L73.4,197.8 L73.6,197.3 L73.7,196.8 L73.9,196.3 L74.2,195.9 L74.3,195.5 L74.4,195.1 L74.7,194.7 L74.8,194.4 L75.1,194.1 L75.2,193.5 L75.4,193.3 L75.5,193.1 L75.6,192.6 L75.9,192.2 L76.0,192.1 L76.1,192.2 L76.4,191.6 L76.5,191.6 L76.8,191.0 L76.9,191.8 L77.0,190.4 L77.3,190.9 L77.5,192.0 L77.7,190.1 L77.9,189.6 L78.1,188.2 L78.4,187.8 L78.6,190.7 L78.9,188.6 L79.1,187.6 L79.4,187.6 L79.7,186.9 L79.9,187.8 L80.2,186.8 L80.4,188.0 L80.8,188.8 L81.0,187.5 L81.3,186.9 L81.5,186.8 L81.9,188.0 L82.0,184.7 L82.4,185.2 L82.5,185.3 L83.0,184.5 L83.2,186.3 L83.5,185.4 L83.9,184.7 L84.2,186.0 L84.4,185.4 L84.8,185.6 L85.0,185.0 L85.3,184.3 L85.6,183.6 L86.1,185.0 L86.3,183.2 L86.7,185.5 L87.2,184.3 L87.5,183.4 L87.7,182.6 L88.1,185.2 L88.6,182.8 L88.9,183.6 L89.3,182.0 L89.6,184.0 L90.0,183.2 L90.3,183.4 L90.7,183.2 L90.9,182.0 L91.2,180.8 L91.4,181.8 L91.9,180.9 L92.2,181.2 L92.4,183.3 L92.8,182.5 L93.1,181.5 L93.6,181.7 L93.9,182.0 L94.4,181.1 L95.1,180.4 L95.7,180.4 L96.4,180.7 L97.2,182.1 L98.1,178.2 L99.1,179.3 L100.0,178.4 L100.9,181.2 L101.9,178.0 L102.9,179.7 L103.7,178.7 L104.5,178.2 L105.2,178.6 L105.8,177.8 L106.3,176.7" fill="none" stroke="#2a467c" stroke-width="1.15" stroke-linejoin="round" stroke-linecap="round"/>
<path d="M118.8,198.8 L119.1,198.6 L119.4,198.5 L119.7,198.3 L120.1,198.1 L120.4,198.0 L120.8,197.8 L121.2,197.6 L121.6,197.4 L122.0,197.3 L122.4,197.1 L122.8,196.9 L123.2,196.8 L123.6,196.6 L124.0,196.5 L124.4,196.4 L124.8,196.2 L125.2,196.1 L125.5,196.0 L125.9,195.9 L126.3,195.8 L126.7,195.7 L127.1,195.6 L127.5,195.5 L128.0,195.4 L128.4,195.3 L128.9,195.2 L129.4,195.1 L130.0,195.0 L130.6,194.9 L131.2,194.8 L131.8,194.6 L132.5,194.5 L133.2,194.4 L133.9,194.3 L134.6,194.1 L135.3,194.0 L136.1,193.9 L136.8,193.8 L137.6,193.6 L138.4,193.5 L139.2,193.4 L140.0,193.3 L140.8,193.2 L141.8,193.1 L142.7,193.0 L143.8,192.9 L144.8,192.8 L145.8,192.6 L146.9,192.5 L147.9,192.4 L148.9,192.4 L149.8,192.3 L150.6,192.2 L151.3,192.1 L152.0,192.1 L152.5,192.0" fill="none" stroke="#a8082d" stroke-width="1.97" stroke-opacity="0.5" stroke-linejoin="round" stroke-linecap="round"/>
<path d="M93.8,246.3 L93.9,246.4 L93.9,246.4 L94.1,246.4 L94.2,246.3 L94.3,246.2 L94.4,246.3 L94.5,246.3 L94.7,246.2 L94.8,246.3 L94.9,246.4 L95.1,246.5 L95.2,246.4 L95.4,246.3 L95.5,246.5 L95.7,246.5 L95.8,246.7 L95.8,246.5 L96.0,246.7 L96.2,246.7 L96.4,246.8 L96.4,246.7 L96.6,246.9 L96.8,246.9 L96.9,247.0 L97.0,247.0 L97.2,247.2 L97.3,247.2 L97.6,247.6 L97.7,247.6 L97.8,248.0 L97.9,247.9 L98.2,248.5 L98.3,248.6 L98.4,248.8 L98.6,249.1 L98.7,249.2 L98.9,249.5 L99.3,250.0 L99.3,250.0 L99.4,250.5 L99.6,250.9 L99.8,251.0 L100.0,251.4 L100.1,251.6 L100.2,251.9 L100.4,252.5 L100.5,252.9 L100.8,253.2 L100.9,253.7 L101.1,253.8 L101.1,254.4 L101.3,254.5 L101.5,254.8 L101.6,254.9 L101.8,255.0 L102.0,255.1 L102.1,255.1 L102.2,254.9 L102.5,254.5 L102.6,254.2 L102.8,253.8 L103.0,253.7 L103.1,253.2 L103.3,252.6 L103.4,252.2 L103.6,251.8 L103.7,251.0 L103.8,250.6 L104.1,250.0 L104.3,249.5 L104.4,249.0 L104.5,248.2 L104.7,247.9 L104.8,247.1 L105.0,246.5 L105.2,245.7 L105.2,245.4 L105.4,244.5 L105.5,243.6 L105.7,243.0 L105.9,242.2 L105.9,241.4 L106.1,240.6 L106.2,239.9 L106.4,239.1 L106.6,238.4 L106.7,237.6 L106.9,236.8 L107.1,235.8 L107.1,234.7 L107.3,234.0 L107.4,233.3 L107.6,232.2 L107.7,231.4 L107.9,230.6 L108.0,229.6 L108.1,228.8 L108.2,227.9 L108.4,227.3 L108.4,226.5 L108.6,225.6 L108.7,224.9 L108.8,224.1 L109.0,223.2 L109.1,222.3 L109.2,221.6 L109.3,220.8 L109.5,220.3 L109.6,219.6 L109.6,219.0 L109.9,218.0 L110.0,217.5 L110.2,217.0 L110.3,216.4 L110.5,215.6 L110.5,215.0 L110.8,214.5 L110.8,214.0 L111.0,213.5 L111.1,213.0 L111.3,212.3 L111.5,212.0 L111.6,211.3 L111.8,211.0 L111.9,210.6 L112.0,210.1 L112.1,209.6 L112.3,209.1 L112.3,208.7 L112.6,208.3 L112.7,207.9 L112.8,207.5 L112.9,207.4 L112.9,206.8 L113.1,206.5 L113.2,206.4 L113.4,206.0 L113.6,205.8 L113.5,205.5 L113.8,205.0 L113.9,204.8 L114.1,204.3 L114.3,204.1 L114.5,203.9 L114.6,203.5 L114.7,203.2 L114.7,203.1 L115.0,202.6 L115.1,202.1 L115.3,202.1 L115.5,201.5 L115.6,201.5 L115.7,201.3 L116.1,201.0 L116.2,200.7 L116.3,200.7 L116.6,200.8 L116.7,200.3 L116.9,200.2 L117.0,200.1 L117.3,199.7 L117.4,199.5 L117.6,199.8 L117.9,199.1 L118.1,200.0 L118.3,199.4 L118.6,199.3 L118.8,198.8 L119.2,197.8 L119.4,198.0 L119.7,198.8 L120.1,197.4 L120.5,197.3 L120.8,198.7 L121.3,196.1 L121.6,197.5 L122.1,197.6 L122.4,198.8 L122.8,198.0 L123.1,197.2 L123.6,195.1 L124.0,196.3 L124.5,194.7 L124.8,196.6 L125.1,194.9 L125.6,197.2 L125.9,196.5 L126.3,195.4 L126.7,196.1 L127.1,195.8 L127.6,195.7 L127.9,195.5 L128.4,195.9 L129.0,195.5 L129.4,194.7 L130.1,195.5 L130.5,194.3 L131.2,196.1 L131.9,195.5 L132.5,192.6 L133.1,194.2 L133.8,194.1 L134.5,194.2 L135.3,194.5 L136.1,195.3 L136.9,195.2 L137.6,191.7 L138.5,194.4 L139.3,191.5 L139.9,194.5 L140.9,193.6 L141.7,192.3 L142.8,192.5 L143.7,192.4 L144.8,194.0 L145.8,192.2 L146.8,192.1 L147.9,192.8 L148.8,194.0 L149.7,191.7 L150.6,192.4 L151.4,191.5 L151.9,193.0 L152.5,190.8" fill="none" stroke="#a8082d" stroke-width="1.15" stroke-linejoin="round" stroke-linecap="round"/>
<path d="M138.8,205.5 L139.0,205.4 L139.2,205.3 L139.3,205.3 L139.5,205.2 L139.6,205.1 L139.7,205.1 L139.9,205.1 L140.0,205.0 L140.2,205.0 L140.3,205.0 L140.5,205.0 L140.7,205.0 L141.0,205.0 L141.3,205.0 L141.6,205.0 L142.0,205.1 L142.5,205.1 L142.9,205.2 L143.4,205.2 L143.9,205.3 L144.4,205.4 L144.9,205.5 L145.4,205.6 L145.9,205.7 L146.5,205.8 L147.0,205.8 L147.5,205.9 L148.0,206.0 L148.5,206.1 L149.0,206.1 L149.4,206.2 L149.9,206.3 L150.4,206.3 L150.8,206.4 L151.3,206.5 L151.8,206.5 L152.3,206.6 L152.8,206.7 L153.3,206.7 L153.8,206.8 L154.4,206.9 L155.0,207.0 L155.6,207.1 L156.3,207.2 L157.0,207.3 L157.7,207.4 L158.4,207.6 L159.1,207.7 L159.8,207.8 L160.6,208.0 L161.3,208.1 L162.1,208.2 L162.8,208.3 L163.6,208.5 L164.3,208.6 L165.0,208.7 L165.7,208.8 L166.5,208.9 L167.2,209.0 L168.0,209.1 L168.8,209.2 L169.6,209.4 L170.4,209.5 L171.1,209.6 L171.8,209.6 L172.5,209.7 L173.1,209.8 L173.6,209.9 L174.1,209.9 L174.5,210.0" fill="none" stroke="#2a467c" stroke-width="1.86" stroke-opacity="0.5" stroke-linejoin="round" stroke-linecap="round"/>
<path d="M109.5,246.3 L109.6,246.5 L109.7,246.2 L109.8,246.3 L110.1,246.4 L110.1,246.3 L110.3,246.4 L110.6,246.4 L110.8,246.3 L110.9,246.1 L111.2,246.4 L111.4,246.4 L111.6,246.5 L111.7,246.5 L112.0,246.6 L112.2,246.6 L112.5,246.5 L112.6,246.5 L112.9,246.5 L113.1,246.8 L113.3,246.7 L113.6,246.7 L113.8,247.0 L114.0,246.8 L114.2,247.1 L114.4,247.0 L114.7,247.2 L114.8,247.3 L115.0,247.5 L115.2,247.6 L115.4,248.0 L115.5,248.0 L115.8,248.5 L115.9,248.5 L116.0,248.6 L116.2,249.0 L116.3,249.2 L116.5,249.6 L116.8,249.8 L116.8,250.3 L117.0,250.4 L117.1,250.7 L117.3,251.1 L117.4,251.1 L117.7,251.8 L117.7,251.9 L118.0,252.2 L118.1,252.9 L118.2,253.2 L118.4,253.4 L118.6,254.0 L118.6,254.4 L118.8,254.7 L119.0,254.8 L119.1,254.8 L119.3,255.0 L119.5,255.1 L119.7,255.0 L119.9,254.7 L120.0,254.7 L120.2,254.1 L120.4,254.1 L120.6,253.4 L120.9,253.0 L120.9,252.6 L121.2,252.2 L121.4,251.8 L121.6,251.0 L121.8,250.5 L122.0,250.0 L122.3,249.5 L122.4,248.9 L122.7,248.2 L122.8,247.9 L122.9,247.1 L123.2,246.4 L123.4,245.8 L123.6,244.9 L123.8,244.1 L124.1,243.3 L124.3,242.9 L124.4,242.1 L124.6,241.4 L124.9,240.6 L125.0,240.0 L125.1,239.4 L125.3,238.8 L125.5,238.2 L125.7,237.3 L125.8,236.9 L126.0,236.2 L126.0,235.6 L126.1,234.8 L126.3,234.3 L126.5,233.4 L126.5,233.0 L126.7,232.2 L126.9,231.7 L127.0,230.9 L127.2,230.4 L127.2,229.8 L127.5,229.0 L127.6,228.5 L127.7,227.9 L127.7,227.2 L127.9,226.7 L128.1,226.2 L128.2,225.4 L128.4,224.9 L128.5,224.2 L128.6,223.5 L128.7,223.1 L128.9,222.4 L128.8,222.0 L129.0,221.7 L129.1,220.9 L129.3,220.3 L129.4,219.9 L129.5,219.5 L129.7,219.1 L129.8,218.5 L129.9,218.1 L130.0,217.8 L130.1,217.3 L130.3,216.9 L130.4,216.3 L130.5,216.1 L130.7,215.6 L130.8,215.2 L130.9,214.6 L131.0,214.4 L131.2,214.0 L131.3,213.8 L131.3,213.3 L131.5,212.9 L131.7,212.5 L131.9,212.4 L132.1,211.8 L132.2,211.8 L132.3,211.3 L132.4,211.0 L132.7,210.6 L132.8,210.6 L133.0,210.1 L133.2,209.9 L133.3,209.4 L133.5,209.3 L133.7,209.0 L133.8,208.6 L134.0,208.6 L134.2,208.3 L134.5,208.0 L134.5,208.2 L134.7,207.6 L135.0,207.4 L135.3,207.3 L135.5,207.1 L135.7,206.9 L136.1,206.8 L136.3,206.9 L136.6,206.5 L136.8,206.4 L137.1,206.3 L137.5,206.2 L137.7,206.1 L138.1,206.4 L138.4,205.5 L138.6,205.1 L138.7,205.8 L139.0,205.8 L139.2,206.2 L139.4,205.1 L139.5,204.7 L139.6,205.3 L139.8,205.9 L139.9,204.7 L140.0,204.8 L140.2,204.6 L140.3,203.9 L140.6,206.1 L140.8,204.7 L141.0,206.1 L141.3,204.7 L141.6,203.4 L141.9,204.2 L142.4,204.2 L143.0,204.8 L143.4,205.0 L143.9,205.0 L144.4,206.9 L144.9,203.7 L145.4,204.7 L146.0,205.8 L146.4,206.4 L147.0,205.9 L147.5,205.9 L148.0,206.3 L148.4,205.9 L149.0,205.8 L149.4,206.4 L149.9,205.0 L150.4,206.3 L150.8,205.6 L151.2,206.6 L151.7,206.4 L152.3,207.7 L152.7,207.0 L153.3,206.8 L153.8,206.4 L154.5,207.4 L155.0,205.3 L155.6,207.9 L156.3,208.1 L156.9,207.5 L157.6,208.0 L158.4,206.3 L159.2,207.3 L159.9,207.0 L160.6,208.5 L161.3,208.6 L162.1,209.6 L162.9,207.5 L163.5,207.6 L164.4,209.0 L165.0,208.2 L165.6,208.3 L166.5,209.6 L167.2,209.0 L168.0,208.4 L168.8,210.2 L169.7,209.2 L170.3,208.1 L171.0,209.4 L171.8,209.6 L172.5,209.2 L173.1,210.6 L173.6,210.2 L174.1,210.5 L174.5,210.7" fill="none" stroke="#2a467c" stroke-width="1.15" stroke-linejoin="round" stroke-linecap="round"/>
<path d="M207.5,223.8 L207.9,223.9 L208.2,224.1 L208.6,224.2 L208.9,224.4 L209.3,224.5 L209.6,224.6 L210.0,224.7 L210.3,224.8 L210.7,225.0 L211.0,225.1 L211.4,225.2 L211.8,225.3 L212.1,225.4 L212.5,225.5 L212.9,225.6 L213.3,225.7 L213.6,225.8 L214.0,225.9 L214.4,226.0 L214.8,226.1 L215.2,226.2 L215.5,226.3 L215.9,226.4 L216.3,226.5 L216.7,226.6 L217.2,226.6 L217.6,226.7 L218.0,226.8 L218.4,226.9 L218.9,226.9 L219.4,227.0 L220.0,227.1 L220.5,227.1 L221.1,227.2 L221.6,227.2 L222.1,227.3 L222.6,227.3 L223.1,227.4 L223.5,227.4 L223.9,227.4 L224.2,227.5 L224.5,227.5" fill="none" stroke="#a8082d" stroke-width="1.64" stroke-opacity="0.5" stroke-linejoin="round" stroke-linecap="round"/>
<path d="M166.2,242.0 L166.4,242.1 L166.6,242.0 L166.9,242.0 L167.0,241.9 L167.2,241.9 L167.5,242.1 L167.7,242.1 L167.9,242.1 L168.3,242.0 L168.5,242.0 L168.8,241.9 L169.0,241.9 L169.3,242.0 L169.5,242.1 L169.8,242.1 L169.9,242.0 L170.2,242.0 L170.4,241.8 L170.6,241.8 L170.8,241.8 L171.0,241.7 L171.1,241.7 L171.4,241.5 L171.7,241.8 L171.9,241.7 L172.1,241.7 L172.3,241.9 L172.5,241.6 L172.7,242.1 L172.8,242.6 L173.0,242.6 L173.4,243.0 L173.5,243.1 L173.6,243.4 L173.8,243.7 L174.0,244.4 L174.1,244.4 L174.3,245.0 L174.5,245.3 L174.6,245.8 L174.8,246.0 L174.9,246.4 L175.2,246.9 L175.4,247.2 L175.5,247.6 L175.7,248.5 L175.9,248.8 L176.0,249.4 L176.2,249.9 L176.4,250.4 L176.6,250.8 L176.8,251.2 L177.0,251.4 L177.0,251.5 L177.3,251.9 L177.5,252.2 L177.7,251.9 L177.8,251.6 L178.2,251.8 L178.3,251.4 L178.5,250.9 L178.8,250.7 L178.9,250.2 L179.2,249.6 L179.4,249.3 L179.6,248.7 L179.8,248.2 L180.0,247.7 L180.4,246.8 L180.5,246.5 L180.7,246.1 L181.0,245.5 L181.3,244.6 L181.5,244.2 L181.7,243.5 L181.8,242.9 L182.2,242.1 L182.4,241.6 L182.6,241.0 L182.9,240.2 L183.1,239.6 L183.3,238.8 L183.5,238.1 L183.7,237.7 L184.0,237.0 L184.3,236.3 L184.4,235.6 L184.6,234.9 L184.9,234.4 L184.9,233.8 L185.2,233.1 L185.4,232.5 L185.5,231.7 L185.7,231.2 L185.9,230.6 L186.1,230.2 L186.4,229.5 L186.5,229.0 L186.7,228.4 L186.8,228.0 L187.1,227.3 L187.1,227.1 L187.3,226.5 L187.4,226.0 L187.7,225.6 L187.8,225.0 L188.1,224.7 L188.1,224.2 L188.3,223.7 L188.3,223.4 L188.5,222.8 L188.8,222.6 L188.9,222.3 L189.2,221.7 L189.3,221.4 L189.5,220.9 L189.7,220.7 L189.8,220.3 L190.1,219.8 L190.3,219.8 L190.4,219.5 L190.6,218.8 L190.8,218.8 L190.9,218.4 L191.2,218.2 L191.4,218.1 L191.4,217.8 L191.7,217.6 L191.8,217.4 L192.0,217.2 L192.1,217.1 L192.3,216.8 L192.4,216.9 L192.6,216.9 L192.8,216.6 L192.9,216.4 L193.2,216.5 L193.3,216.2 L193.5,216.3 L193.9,216.2 L194.1,216.3 L194.3,216.3 L194.6,216.4 L194.9,216.6 L195.1,216.5 L195.5,216.7 L195.8,217.0 L196.1,217.0 L196.4,217.2 L196.7,217.3 L197.0,217.4 L197.4,217.6 L197.6,217.8 L198.0,217.9 L198.3,218.0 L198.6,218.3 L198.9,218.6 L199.2,218.8 L199.5,219.2 L199.9,219.5 L200.2,219.6 L200.5,219.8 L200.8,220.2 L201.2,220.3 L201.4,220.6 L201.8,220.8 L202.1,221.0 L202.5,221.4 L202.8,221.5 L203.2,221.7 L203.6,221.9 L203.9,222.1 L204.2,222.3 L204.7,222.2 L205.0,222.6 L205.2,222.5 L205.6,223.1 L206.0,223.3 L206.5,223.8 L206.7,224.0 L207.1,223.3 L207.5,223.5 L207.9,223.9 L208.2,223.5 L208.6,224.0 L208.9,224.4 L209.3,224.2 L209.6,223.9 L210.0,225.0 L210.3,224.4 L210.7,224.8 L211.1,224.2 L211.5,225.1 L211.8,225.5 L212.2,225.9 L212.5,226.0 L213.0,225.7 L213.2,225.2 L213.6,225.0 L214.0,226.7 L214.3,225.2 L214.7,225.5 L215.1,226.6 L215.6,226.4 L215.9,227.1 L216.3,226.0 L216.6,227.2 L217.1,228.3 L217.5,226.5 L218.0,226.7 L218.4,226.6 L218.9,226.7 L219.5,226.8 L220.0,227.4 L220.6,227.7 L221.1,227.3 L221.6,227.7 L222.2,226.9 L222.7,227.7 L223.1,227.0 L223.5,227.9 L223.9,227.6 L224.3,226.5 L224.5,227.5" fill="none" stroke="#a8082d" stroke-width="1.15" stroke-linejoin="round" stroke-linecap="round"/>
<path d="M185.5,241.8 L185.6,242.1 L185.8,242.1 L185.9,242.0 L186.0,242.1 L186.2,242.0 L186.4,241.8 L186.7,242.0 L186.8,241.9 L187.0,241.8 L187.3,242.1 L187.4,242.0 L187.7,241.7 L187.8,242.0 L188.0,242.0 L188.1,242.0 L188.2,242.0 L188.5,242.0 L188.6,242.0 L188.7,242.0 L188.8,242.1 L189.0,241.9 L189.1,242.1 L189.3,242.2 L189.2,242.0 L189.4,242.1 L189.7,242.2 L189.8,242.5 L190.0,242.4 L190.2,242.8 L190.4,242.9 L190.6,243.3 L190.8,243.6 L190.9,244.0 L191.2,244.2 L191.4,244.7 L191.7,245.1 L191.9,245.5 L192.0,246.0 L192.3,246.2 L192.5,246.5 L192.7,247.1 L193.0,247.5 L193.3,247.9 L193.5,248.2 L193.7,248.8 L193.9,249.4 L194.2,250.0 L194.4,250.5 L194.6,251.2 L194.9,251.7 L195.1,252.2 L195.3,252.6 L195.6,252.8 L195.8,253.4 L196.1,253.6 L196.3,253.8 L196.6,254.1 L196.8,253.9 L197.0,254.1 L197.2,253.8 L197.5,253.6 L197.6,253.4 L197.9,253.3 L198.2,252.8 L198.5,252.8 L198.6,252.6 L198.9,252.3 L199.1,252.0 L199.3,251.8 L199.5,251.6 L199.7,251.3 L200.0,251.0 L200.1,250.7 L200.4,250.4 L200.6,250.3 L200.9,249.8 L201.0,249.7 L201.2,249.3 L201.3,248.8 L201.5,248.5 L201.8,248.3 L202.0,248.1 L202.3,247.7 L202.5,247.6 L202.7,247.2 L202.9,246.8 L203.2,246.7 L203.5,246.5 L203.6,246.1 L203.9,245.9 L204.2,245.5 L204.5,245.4 L204.8,245.3 L204.9,244.9 L205.1,244.5 L205.4,244.3 L205.7,244.2 L206.1,243.9 L206.3,243.7 L206.6,243.5 L206.9,243.5 L207.1,243.2 L207.2,243.2 L207.5,243.1 L207.9,243.0 L208.2,242.6 L208.4,242.7 L208.8,242.5 L209.1,242.4 L209.4,242.3 L209.6,242.2 L210.1,242.0 L210.3,241.9 L210.7,241.8 L210.9,241.6 L211.3,241.7 L211.8,241.6 L212.0,241.4 L212.4,241.4 L212.8,241.5 L213.2,241.3 L213.5,241.3 L213.9,241.0 L214.3,241.1 L214.7,241.1 L215.1,240.9 L215.3,241.0 L215.7,240.9 L216.0,240.6 L216.2,240.8 L216.5,240.9 L216.8,240.7 L217.1,240.5 L217.5,240.6 L217.8,240.7 L218.2,241.0 L218.6,240.5 L219.0,240.5 L219.5,240.4 L219.9,240.8 L220.5,240.6 L221.2,240.4 L221.9,240.7 L222.5,240.8 L223.2,240.4 L224.0,240.5 L224.8,240.4 L225.6,240.0 L226.3,240.0 L227.1,240.4 L227.8,240.1 L228.6,240.2 L229.3,240.0 L230.0,239.9 L230.6,240.0 L231.5,239.9 L232.1,239.7 L232.9,239.5 L233.6,239.7 L234.3,239.5 L235.0,239.0 L235.7,239.4 L236.4,238.7 L237.0,238.9 L237.5,238.8 L237.9,238.5 L238.5,238.7 L238.8,237.9" fill="none" stroke="#2a467c" stroke-width="1.15" stroke-linejoin="round" stroke-linecap="round"/>
<path d="M308.5,194.5 L308.8,194.1 L309.0,193.8 L309.3,193.5 L309.6,193.1 L309.9,192.8 L310.1,192.5 L310.4,192.2 L310.7,191.9 L311.0,191.6 L311.3,191.3 L311.6,190.9 L311.9,190.6 L312.2,190.3 L312.5,190.0 L312.8,189.7 L313.2,189.4 L313.5,189.0 L313.9,188.7 L314.2,188.4 L314.6,188.1 L314.9,187.7 L315.3,187.4 L315.7,187.1 L316.0,186.8 L316.4,186.4 L316.8,186.1 L317.1,185.8 L317.5,185.5 L317.9,185.2 L318.2,184.9 L318.6,184.6 L318.9,184.3 L319.3,184.0 L319.6,183.7 L320.0,183.4 L320.4,183.1 L320.7,182.8 L321.1,182.5 L321.4,182.2 L321.8,181.9 L322.1,181.6 L322.5,181.3 L322.9,181.0 L323.2,180.7 L323.6,180.5 L323.9,180.2 L324.3,179.9 L324.6,179.6 L325.0,179.4 L325.4,179.1 L325.7,178.8 L326.1,178.6 L326.4,178.3 L326.8,178.0 L327.1,177.8 L327.5,177.5 L327.9,177.2 L328.2,177.0 L328.6,176.7 L328.9,176.4 L329.2,176.1 L329.6,175.8 L329.9,175.6 L330.3,175.3 L330.6,175.0 L331.0,174.8 L331.4,174.5 L331.7,174.3 L332.1,174.0 L332.5,173.8 L332.9,173.6 L333.3,173.4 L333.7,173.2 L334.1,173.0 L334.6,172.8 L335.0,172.6 L335.4,172.4 L335.9,172.3 L336.3,172.1 L336.8,171.9 L337.2,171.8 L337.6,171.6 L338.1,171.5 L338.5,171.3 L338.9,171.1 L339.4,171.0 L339.9,170.8 L340.4,170.7 L340.9,170.5 L341.4,170.4 L341.9,170.2 L342.3,170.1 L342.8,170.0 L343.2,169.9 L343.6,169.8 L344.0,169.7 L344.3,169.6 L344.5,169.5" fill="none" stroke="#a8082d" stroke-width="1.97" stroke-opacity="0.5" stroke-linejoin="round" stroke-linecap="round"/>
<path d="M287.0,241.2 L287.1,241.4 L287.2,241.3 L287.3,241.3 L287.4,241.3 L287.5,241.3 L287.7,241.3 L288.0,241.3 L288.0,241.3 L288.2,241.2 L288.4,241.4 L288.6,241.3 L288.8,241.3 L288.8,241.4 L289.0,241.3 L289.1,241.4 L289.2,241.3 L289.3,241.1 L289.5,241.3 L289.6,241.2 L289.7,241.1 L289.8,241.3 L289.9,240.9 L290.0,241.1 L290.1,241.0 L290.2,241.0 L290.3,241.2 L290.4,241.3 L290.6,241.4 L290.5,241.3 L290.7,241.8 L290.7,241.9 L290.7,242.3 L290.8,242.6 L290.8,242.8 L290.9,243.4 L290.9,243.7 L291.0,243.9 L291.1,244.3 L291.0,244.5 L291.2,244.7 L291.1,245.0 L291.2,245.0 L291.3,245.1 L291.3,245.0 L291.3,244.7 L291.4,244.0 L291.4,244.0 L291.5,243.5 L291.6,243.2 L291.5,242.8 L291.5,242.4 L291.6,242.2 L291.7,242.0 L291.7,242.0 L291.6,241.8 L291.8,241.9 L291.8,242.3 L292.0,243.2 L292.0,243.4 L292.1,244.4 L292.2,245.2 L292.3,246.3 L292.4,247.4 L292.4,248.2 L292.5,249.3 L292.7,250.3 L292.7,250.8 L292.8,251.5 L292.9,251.7 L292.9,251.9 L293.1,252.1 L293.2,251.9 L293.3,251.4 L293.5,251.2 L293.4,250.8 L293.6,250.0 L293.7,249.2 L293.8,248.7 L293.9,248.0 L294.1,247.1 L294.2,246.3 L294.3,245.4 L294.4,244.7 L294.4,244.0 L294.6,243.3 L294.6,242.6 L294.9,241.8 L294.9,240.9 L295.0,240.0 L295.2,239.1 L295.4,238.4 L295.5,237.6 L295.7,236.7 L295.7,235.9 L296.0,235.0 L296.1,234.1 L296.2,233.3 L296.2,232.5 L296.4,231.8 L296.5,230.9 L296.7,229.9 L296.7,229.2 L296.8,228.4 L297.1,227.7 L297.2,226.9 L297.3,225.8 L297.3,225.2 L297.5,224.4 L297.6,223.9 L297.7,222.9 L297.9,222.3 L297.9,221.6 L298.1,220.7 L298.2,220.1 L298.4,219.4 L298.5,218.7 L298.7,218.0 L298.8,217.4 L298.9,216.7 L299.1,216.0 L299.2,215.6 L299.3,214.7 L299.5,214.4 L299.7,213.6 L299.9,213.1 L300.0,212.4 L300.2,211.9 L300.3,211.4 L300.5,210.7 L300.6,210.4 L300.8,209.6 L301.1,209.2 L301.1,208.6 L301.4,208.3 L301.7,207.9 L301.8,207.3 L302.0,206.9 L302.2,206.4 L302.4,206.1 L302.5,205.3 L302.8,204.9 L302.9,204.6 L303.1,204.0 L303.2,203.8 L303.3,203.4 L303.5,202.9 L303.7,202.6 L303.8,202.3 L304.0,201.9 L304.2,201.5 L304.4,201.2 L304.6,200.7 L304.8,200.4 L305.1,200.1 L305.2,199.7 L305.4,199.1 L305.6,198.8 L305.9,198.1 L306.2,198.3 L306.4,197.9 L306.7,197.2 L307.0,196.6 L307.2,195.9 L307.4,195.2 L307.7,196.1 L308.0,195.1 L308.2,195.6 L308.5,194.7 L308.7,193.4 L309.0,194.4 L309.3,193.5 L309.6,193.2 L309.8,193.3 L310.1,191.5 L310.4,191.3 L310.6,193.0 L311.0,190.3 L311.3,190.3 L311.5,189.8 L312.0,189.4 L312.2,189.9 L312.5,189.3 L312.8,188.5 L313.1,188.8 L313.5,189.4 L313.9,186.5 L314.1,187.8 L314.5,187.9 L314.9,185.7 L315.3,188.6 L315.7,187.0 L316.0,186.4 L316.4,187.0 L316.8,186.4 L317.2,185.4 L317.5,185.3 L317.8,183.9 L318.1,185.2 L318.6,184.7 L319.0,183.2 L319.3,184.5 L319.7,185.2 L319.9,182.0 L320.4,184.7 L320.6,184.0 L321.1,183.5 L321.4,182.0 L321.8,183.5 L322.2,181.4 L322.5,181.7 L322.9,180.4 L323.2,179.4 L323.5,181.1 L323.9,181.5 L324.3,178.6 L324.6,179.6 L325.0,178.9 L325.4,178.1 L325.7,178.5 L325.9,179.5 L326.4,179.7 L326.8,178.4 L327.1,177.8 L327.5,178.3 L327.8,176.3 L328.3,177.2 L328.6,176.0 L328.9,176.7 L329.3,174.4 L329.5,176.4 L330.0,175.4 L330.3,175.5 L330.7,175.2 L331.1,176.2 L331.4,174.2 L331.7,172.8 L332.1,175.0 L332.5,174.7 L332.9,173.2 L333.4,174.4 L333.7,174.5 L334.1,172.0 L334.5,171.9 L335.0,171.4 L335.4,174.1 L335.9,170.4 L336.3,171.0 L336.8,172.4 L337.2,173.0 L337.6,172.7 L338.1,171.8 L338.5,171.8 L339.0,172.1 L339.4,171.5 L339.8,170.6 L340.4,170.9 L340.9,171.0 L341.4,170.9 L341.9,170.5 L342.3,169.1 L342.8,170.1 L343.2,170.5 L343.6,168.4 L344.0,169.0 L344.3,169.9 L344.5,170.0" fill="none" stroke="#a8082d" stroke-width="1.15" stroke-linejoin="round" stroke-linecap="round"/>
<path d="M323.5,200.0 L323.8,199.8 L324.0,199.6 L324.3,199.4 L324.5,199.2 L324.8,199.0 L325.1,198.8 L325.3,198.7 L325.6,198.5 L325.9,198.4 L326.2,198.2 L326.5,198.0 L326.8,197.9 L327.2,197.7 L327.5,197.5 L327.9,197.3 L328.2,197.1 L328.6,196.9 L329.1,196.7 L329.5,196.5 L329.9,196.3 L330.3,196.1 L330.8,195.9 L331.2,195.7 L331.7,195.5 L332.1,195.4 L332.6,195.2 L333.1,195.0 L333.5,194.8 L333.9,194.6 L334.4,194.5 L334.8,194.3 L335.3,194.1 L335.7,194.0 L336.2,193.8 L336.6,193.7 L337.1,193.5 L337.5,193.3 L338.0,193.2 L338.5,193.0 L339.0,192.8 L339.5,192.7 L340.0,192.5 L340.5,192.3 L341.1,192.1 L341.6,191.9 L342.2,191.8 L342.7,191.6 L343.3,191.4 L343.9,191.2 L344.5,191.0 L345.1,190.8 L345.6,190.6 L346.2,190.4 L346.8,190.2 L347.4,190.0 L348.0,189.8 L348.6,189.6 L349.2,189.4 L349.9,189.2 L350.6,188.9 L351.3,188.7 L352.0,188.5 L352.6,188.2 L353.3,188.0 L353.9,187.8 L354.5,187.6 L355.1,187.4 L355.5,187.3 L356.0,187.1 L356.3,187.0" fill="none" stroke="#2a467c" stroke-width="1.97" stroke-opacity="0.5" stroke-linejoin="round" stroke-linecap="round"/>
<path d="M299.6,241.2 L299.6,241.4 L299.7,241.1 L299.9,241.2 L300.0,241.1 L300.3,241.3 L300.5,241.2 L300.7,241.2 L300.9,241.2 L300.9,241.5 L301.2,241.4 L301.4,241.4 L301.6,241.2 L301.9,241.4 L302.1,241.3 L302.1,241.2 L302.2,241.1 L302.5,241.2 L302.7,240.9 L302.7,241.0 L302.8,240.8 L303.0,241.0 L303.0,241.0 L303.2,241.0 L303.4,240.7 L303.4,241.0 L303.6,241.2 L303.7,241.1 L303.7,241.2 L303.9,241.5 L304.1,241.7 L304.1,242.2 L304.1,242.4 L304.2,242.9 L304.4,243.3 L304.4,243.6 L304.5,244.2 L304.6,244.6 L304.7,245.1 L304.8,245.6 L304.8,246.0 L304.9,246.6 L305.0,246.8 L305.2,247.4 L305.2,248.2 L305.3,248.7 L305.4,249.3 L305.4,249.9 L305.6,250.6 L305.5,251.3 L305.7,251.7 L305.8,252.4 L305.9,252.9 L306.1,253.1 L306.2,253.4 L306.3,253.8 L306.2,253.8 L306.5,253.9 L306.5,253.6 L306.7,252.8 L306.7,252.5 L306.9,252.2 L307.0,251.4 L307.1,250.9 L307.2,250.1 L307.4,249.2 L307.5,248.6 L307.6,247.7 L307.8,246.8 L307.8,246.2 L308.1,245.6 L308.1,244.9 L308.3,244.1 L308.4,243.5 L308.5,242.8 L308.8,242.0 L308.8,241.0 L308.9,240.3 L309.1,239.5 L309.3,238.8 L309.4,237.8 L309.6,237.2 L309.7,236.6 L309.9,235.6 L310.1,235.2 L310.2,234.1 L310.3,233.5 L310.4,232.7 L310.7,231.8 L310.9,231.2 L311.1,230.5 L311.2,229.7 L311.4,229.0 L311.6,228.2 L311.8,227.3 L312.1,226.8 L312.2,225.9 L312.3,225.0 L312.5,224.6 L312.7,223.9 L312.7,223.0 L313.0,222.3 L313.2,221.6 L313.5,221.0 L313.6,220.1 L313.7,219.5 L313.9,218.7 L314.1,218.2 L314.2,217.5 L314.5,217.1 L314.7,216.3 L314.8,215.5 L314.9,214.9 L315.2,214.5 L315.4,213.8 L315.5,213.4 L315.7,213.0 L315.9,212.5 L316.2,212.1 L316.3,211.6 L316.5,211.0 L316.6,210.6 L316.8,210.2 L316.9,209.9 L317.2,209.3 L317.2,208.9 L317.4,208.6 L317.8,208.0 L317.8,207.7 L318.1,207.4 L318.2,207.0 L318.4,206.6 L318.5,206.3 L318.6,205.9 L318.9,205.7 L319.1,205.3 L319.1,204.9 L319.4,204.4 L319.6,204.3 L319.9,204.1 L320.0,203.8 L320.2,203.4 L320.4,203.2 L320.7,202.7 L321.0,202.5 L321.1,201.9 L321.4,202.2 L321.5,201.9 L321.9,201.5 L322.1,201.1 L322.4,201.7 L322.6,201.4 L323.0,200.9 L323.2,200.3 L323.5,200.4 L323.7,199.6 L324.0,200.3 L324.3,198.2 L324.6,199.6 L324.9,197.8 L325.1,198.8 L325.4,198.8 L325.7,199.6 L325.9,198.2 L326.2,197.4 L326.5,198.5 L326.8,198.6 L327.2,198.2 L327.5,197.2 L327.9,197.8 L328.3,196.1 L328.7,197.0 L329.1,196.0 L329.4,197.3 L329.9,195.4 L330.4,197.6 L330.8,197.5 L331.3,195.7 L331.7,194.3 L332.1,195.9 L332.6,194.7 L333.1,195.2 L333.5,195.2 L334.0,195.2 L334.4,194.8 L334.8,192.6 L335.2,193.9 L335.7,193.2 L336.2,194.2 L336.7,190.9 L337.0,192.4 L337.6,192.8 L338.0,191.4 L338.5,193.3 L339.0,193.5 L339.4,193.4 L340.1,192.3 L340.5,191.7 L341.0,193.4 L341.6,191.2 L342.1,193.5 L342.7,192.3 L343.3,191.0 L343.9,192.4 L344.5,192.2 L345.0,188.8 L345.7,190.6 L346.2,190.0 L346.9,190.0 L347.4,191.9 L348.0,191.1 L348.5,191.9 L349.2,190.5 L349.9,189.3 L350.6,188.3 L351.2,189.3 L352.0,189.0 L352.6,188.2 L353.3,187.6 L353.9,188.7 L354.5,187.7 L355.0,189.5 L355.6,186.8 L356.0,187.8 L356.3,187.4" fill="none" stroke="#2a467c" stroke-width="1.15" stroke-linejoin="round" stroke-linecap="round"/>
<path d="M361.2,241.4 L361.4,241.2 L361.5,241.4 L361.7,241.2 L361.8,241.3 L362.0,241.3 L362.3,241.3 L362.5,241.2 L362.7,241.5 L363.0,241.2 L363.2,241.5 L363.4,241.5 L363.7,241.5 L363.8,241.4 L364.0,241.4 L364.2,241.4 L364.4,241.7 L364.6,241.5 L364.8,241.4 L364.8,241.6 L365.1,241.7 L365.3,241.4 L365.5,241.5 L365.6,241.6 L365.7,241.5 L365.9,241.6 L366.0,241.8 L366.1,241.8 L366.3,242.1 L366.4,242.0 L366.4,242.3 L366.6,242.6 L366.7,242.9 L366.7,243.3 L366.8,243.6 L366.8,243.8 L366.9,244.2 L366.9,244.8 L367.0,244.8 L367.1,245.1 L367.1,245.3 L367.2,245.5 L367.2,245.6 L367.3,245.3 L367.3,245.3 L367.3,245.2 L367.4,244.7 L367.4,244.3 L367.4,244.0 L367.4,243.7 L367.5,243.1 L367.5,243.0 L367.6,242.6 L367.5,242.4 L367.7,242.3 L367.7,242.3 L367.7,242.6 L367.9,242.8 L367.9,243.4 L368.2,244.0 L368.2,244.9 L368.3,245.7 L368.5,246.5 L368.6,247.7 L368.7,248.4 L368.9,249.5 L369.0,250.3 L369.1,250.8 L369.2,251.5 L369.4,251.8 L369.5,252.0 L369.6,251.9 L369.7,251.8 L369.8,251.4 L369.9,251.1 L370.1,250.3 L370.3,249.7 L370.4,249.1 L370.5,248.1 L370.5,247.4 L370.7,246.8 L370.8,245.7 L371.0,245.0 L371.0,244.1 L371.1,243.6 L371.3,242.7 L371.4,241.9 L371.6,241.3 L371.8,240.4 L371.7,239.5 L371.9,238.8 L372.1,238.1 L372.1,237.2 L372.3,236.5 L372.4,235.7 L372.6,234.9 L372.8,234.1 L372.9,233.3 L373.0,232.6 L373.1,231.7 L373.3,231.2 L373.5,230.4 L373.6,229.7 L373.8,229.2 L373.9,228.3 L374.0,227.6 L374.2,227.0 L374.4,226.3 L374.6,225.6 L374.7,225.0 L374.9,224.3 L375.1,223.6 L375.2,222.9 L375.3,222.4 L375.5,221.7 L375.7,221.0 L375.8,220.7 L375.9,220.1 L376.1,219.5 L376.2,218.8 L376.5,218.3 L376.6,217.8 L376.8,217.2 L377.0,216.8 L377.1,216.2 L377.4,215.4 L377.5,215.0 L377.8,214.3 L377.9,213.9 L378.1,213.4 L378.3,212.9 L378.5,212.0 L378.7,211.8 L378.9,211.0 L379.1,210.7 L379.5,210.0 L379.6,209.5 L379.8,209.1 L380.0,208.5 L380.2,208.0 L380.5,207.5 L380.7,206.9 L380.9,206.5 L381.1,205.9 L381.4,205.6 L381.6,205.1 L381.9,204.9 L382.1,204.2 L382.3,204.0 L382.5,203.1 L382.8,203.0 L383.0,202.6 L383.3,202.2 L383.6,201.9 L383.7,201.3 L384.1,201.1 L384.4,200.5 L384.6,200.0 L384.9,199.7 L385.3,199.2 L385.5,198.9 L385.9,198.2 L386.1,197.9 L386.4,197.6 L386.7,197.3 L387.0,196.9 L387.3,197.2 L387.7,196.0 L388.0,196.0 L388.3,195.5 L388.7,194.5 L388.9,194.7 L389.2,193.7 L389.6,193.7 L389.9,193.5 L390.2,193.3 L390.5,193.0 L390.9,193.2 L391.2,192.4 L391.5,192.6 L391.8,191.7 L392.3,191.2 L392.5,191.4 L392.8,190.5 L393.2,190.8 L393.6,191.1 L393.9,190.9 L394.2,190.7 L394.6,189.4 L395.0,189.8 L395.4,189.4 L395.8,188.9 L396.1,188.2 L396.4,188.7 L396.9,189.0 L397.1,188.4 L397.5,187.8 L397.9,188.4 L398.2,187.6 L398.6,187.5 L398.9,188.1 L399.2,188.2 L399.6,187.1 L399.9,186.9 L400.2,186.9 L400.6,186.4 L401.0,186.4 L401.3,186.9 L401.7,187.0 L402.1,185.9 L402.5,186.0 L403.0,185.9 L403.4,185.6 L403.9,185.1 L404.3,184.4 L404.8,184.3 L405.3,184.7 L405.8,184.4 L406.4,184.3 L406.9,184.2 L407.4,183.5 L408.0,183.3 L408.4,182.2 L409.0,183.8 L409.5,182.1 L410.1,182.9 L410.7,182.9 L411.2,182.1 L411.9,182.1 L412.4,181.6 L413.0,181.6 L413.7,180.8 L414.4,180.0 L414.9,180.4 L415.4,179.3 L415.9,180.1 L416.4,179.7 L416.7,180.0 L417.1,179.3" fill="none" stroke="#a8082d" stroke-width="1.15" stroke-linejoin="round" stroke-linecap="round"/>
<path d="M377.7,241.6 L377.7,241.7 L377.9,241.4 L378.0,241.5 L378.2,241.6 L378.4,241.4 L378.6,241.5 L378.8,241.7 L378.9,241.7 L379.1,241.7 L379.3,241.6 L379.5,241.8 L379.7,241.6 L379.9,241.8 L380.0,241.7 L380.2,241.8 L380.3,241.7 L380.4,241.6 L380.7,241.6 L380.8,241.6 L380.9,241.7 L381.0,241.4 L381.2,241.5 L381.3,241.4 L381.5,241.5 L381.7,241.6 L381.7,241.7 L381.8,241.8 L381.8,242.0 L382.0,242.3 L382.0,242.8 L382.2,243.4 L382.3,244.0 L382.5,244.5 L382.5,245.1 L382.4,245.7 L382.7,246.5 L382.7,247.0 L382.7,247.6 L382.7,248.1 L382.9,248.4 L382.9,248.9 L383.0,249.0 L383.0,249.2 L383.1,248.9 L383.2,248.9 L383.1,248.3 L383.2,247.8 L383.2,247.4 L383.3,246.8 L383.3,246.4 L383.3,245.8 L383.4,245.3 L383.4,245.3 L383.4,245.0 L383.5,244.9 L383.6,245.0 L383.6,245.3 L383.9,245.8 L384.0,246.6 L384.0,247.4 L384.2,248.1 L384.2,249.3 L384.4,250.2 L384.6,251.3 L384.7,252.0 L384.8,253.0 L385.0,253.8 L385.2,254.5 L385.2,254.9 L385.5,255.5 L385.5,255.5 L385.5,255.4 L385.7,255.7 L385.9,255.4 L385.9,255.4 L386.2,254.9 L386.3,254.7 L386.3,254.2 L386.4,254.0 L386.6,253.5 L386.6,253.1 L386.8,252.7 L386.9,252.3 L387.0,252.1 L387.1,251.6 L387.2,251.3 L387.3,250.9 L387.5,250.5 L387.6,250.1 L387.6,249.7 L387.8,249.3 L387.9,248.8 L388.0,248.4 L388.2,247.9 L388.2,247.5 L388.4,246.8 L388.5,246.2 L388.7,245.8 L388.9,245.2 L389.0,244.7 L389.2,244.0 L389.4,243.4 L389.7,242.8 L389.8,242.0 L390.0,241.1 L390.2,240.5 L390.3,239.7 L390.6,239.1 L390.8,238.3 L391.0,237.6 L391.3,236.8 L391.4,236.2 L391.8,235.5 L392.1,234.8 L392.3,234.1 L392.5,233.3 L392.8,232.7 L393.0,232.0 L393.3,231.1 L393.5,230.3 L393.8,229.7 L394.1,229.0 L394.4,228.5 L394.7,227.8 L395.1,227.2 L395.4,226.4 L395.8,226.0 L396.1,225.5 L396.4,224.9 L396.9,224.5 L397.2,223.9 L397.5,223.3 L398.0,223.0 L398.3,222.4 L398.8,221.8 L399.2,221.5 L399.7,220.9 L400.0,220.6 L400.6,220.0 L401.2,219.7 L401.8,219.5 L402.3,219.0 L403.0,218.5 L403.6,218.3 L404.3,218.0 L404.9,217.6 L405.7,217.3 L406.3,217.3 L407.1,216.8 L407.8,216.4 L408.6,216.5 L409.3,215.7 L410.1,215.9 L410.8,215.6 L411.5,215.4 L412.4,215.0 L413.3,214.7 L414.0,214.4 L414.8,214.6 L415.7,213.8 L416.5,214.4 L417.3,213.9 L418.2,213.9 L419.1,213.3 L419.8,213.1 L420.7,213.0 L421.4,213.5 L422.3,212.9 L423.1,212.7 L423.9,213.1 L424.8,212.3 L425.7,212.0 L426.6,211.4 L427.5,212.3 L428.4,212.8 L429.1,212.3 L429.9,212.0 L430.7,211.4 L431.3,212.3 L431.9,211.2 L432.5,212.0 L432.9,212.6" fill="none" stroke="#2a467c" stroke-width="1.15" stroke-linejoin="round" stroke-linecap="round"/>
<path d="M438.0,241.5 L438.2,241.1 L438.2,241.3 L438.4,241.2 L438.6,241.5 L438.8,241.3 L439.1,241.4 L439.4,241.1 L439.6,241.4 L439.8,241.3 L440.1,241.4 L440.2,241.4 L440.5,241.4 L440.8,241.5 L441.0,241.3 L441.2,241.2 L441.4,241.3 L441.6,241.3 L441.9,241.1 L442.1,241.2 L442.2,241.2 L442.6,241.0 L442.6,241.0 L443.0,241.2 L443.2,241.1 L443.3,241.1 L443.5,241.3 L443.6,241.1 L443.8,241.3 L444.0,241.5 L444.1,241.8 L444.2,241.9 L444.3,242.2 L444.3,242.4 L444.5,242.8 L444.5,243.1 L444.6,243.2 L444.7,243.8 L444.8,243.8 L444.7,244.1 L444.9,244.4 L444.9,244.3 L445.0,244.4 L445.1,244.5 L445.1,244.3 L445.3,244.2 L445.2,243.8 L445.2,243.6 L445.3,243.2 L445.4,242.8 L445.4,242.5 L445.5,242.3 L445.5,241.9 L445.5,241.7 L445.5,241.7 L445.7,241.8 L445.8,241.9 L445.9,242.2 L446.1,243.0 L446.2,243.5 L446.4,244.3 L446.5,245.2 L446.7,246.1 L446.9,246.9 L447.0,248.0 L447.2,248.5 L447.4,249.2 L447.5,250.0 L447.7,250.8 L447.8,251.1 L447.9,251.5 L448.1,251.5 L448.3,251.2 L448.4,250.9 L448.6,250.6 L448.7,250.3 L448.9,249.7 L449.0,249.2 L449.2,248.6 L449.4,248.0 L449.3,247.6 L449.6,246.7 L449.7,246.3 L449.9,245.5 L449.9,244.9 L450.2,244.6 L450.3,243.7 L450.5,243.5 L450.6,242.8 L450.8,242.3 L451.0,241.7 L451.2,241.2 L451.4,240.6 L451.5,240.0 L451.8,239.6 L451.9,239.1 L452.1,238.5 L452.3,238.0 L452.5,237.4 L452.7,237.1 L452.8,236.5 L453.2,236.1 L453.3,235.6 L453.5,235.1 L453.6,234.7 L453.9,234.1 L454.1,233.9 L454.4,233.6 L454.7,233.1 L454.9,232.5 L455.1,232.2 L455.3,231.9 L455.5,231.5 L455.7,231.1 L456.0,230.8 L456.2,230.4 L456.3,230.2 L456.7,230.0 L456.8,229.7 L457.0,229.2 L457.3,229.1 L457.6,228.8 L457.8,228.6 L458.0,228.1 L458.3,227.9 L458.6,227.7 L458.7,227.6 L459.0,227.1 L459.3,226.8 L459.6,226.6 L459.9,226.5 L460.2,226.4 L460.5,226.1 L460.8,225.7 L461.2,225.3 L461.4,225.2 L461.7,224.9 L462.1,224.7 L462.4,224.4 L462.6,224.3 L462.9,223.9 L463.4,223.8 L463.6,223.5 L463.9,223.4 L464.2,223.0 L464.6,222.8 L464.8,222.8 L465.2,222.5 L465.4,222.5 L465.7,222.3 L466.0,222.0 L466.5,221.7 L466.7,221.6 L467.1,221.7 L467.6,221.2 L467.8,221.2 L468.4,220.9 L468.7,220.5 L469.0,220.2 L469.6,220.6 L470.0,220.4 L470.4,220.2 L470.8,220.4 L471.3,219.9 L471.8,219.9 L472.0,219.9 L472.6,219.5 L473.1,219.6 L473.4,219.4 L473.9,219.4 L474.3,219.6 L474.8,218.9 L475.4,218.6 L475.8,219.1 L476.2,218.1 L476.7,218.5 L477.1,218.4 L477.6,218.6 L478.2,218.5 L478.6,218.0 L479.0,218.2 L479.5,218.4 L480.0,217.6 L480.5,218.0 L480.9,217.1 L481.5,217.8 L482.0,217.9 L482.4,217.3 L483.0,217.4 L483.6,217.9 L483.9,218.0 L484.5,217.1 L485.0,217.5 L485.5,217.5 L486.0,217.1 L486.5,217.4 L487.1,217.5 L487.5,217.5 L488.0,217.4 L488.6,217.6 L489.1,217.9 L489.7,216.8 L490.4,217.0 L490.8,216.7 L491.4,216.7 L491.9,216.7 L492.4,217.2 L492.8,217.7 L493.2,216.2 L493.6,216.9 L493.8,216.7" fill="none" stroke="#a8082d" stroke-width="1.15" stroke-linejoin="round" stroke-linecap="round"/>
<path d="M456.3,241.2 L456.5,241.4 L456.6,241.5 L456.9,241.4 L457.1,241.3 L457.5,241.4 L457.6,241.2 L458.0,241.3 L458.4,241.4 L458.6,241.5 L458.8,241.6 L459.1,241.4 L459.4,241.4 L459.8,241.4 L459.9,241.4 L460.3,241.5 L460.4,241.4 L460.8,241.7 L461.0,241.4 L461.2,241.7 L461.5,241.7 L461.7,241.6 L461.8,241.7 L462.1,241.7 L462.3,241.9 L462.5,241.9 L462.7,241.9 L462.9,241.8 L463.0,242.1 L463.2,242.0 L463.3,242.3 L463.3,242.6 L463.4,242.5 L463.5,242.6 L463.5,242.9 L463.6,243.3 L463.6,243.2 L463.6,243.5 L463.7,243.6 L463.7,243.9 L463.6,243.8 L463.8,243.9 L463.7,243.9 L463.8,244.0 L463.9,243.8 L463.9,243.6 L464.0,243.4 L464.0,243.3 L464.1,243.0 L464.1,242.8 L464.1,242.3 L464.2,242.4 L464.0,242.2 L464.2,242.3 L464.2,242.3 L464.3,242.2 L464.3,242.5 L464.4,242.8 L464.4,243.4 L464.5,244.1 L464.5,244.7 L464.5,245.5 L464.7,246.6 L464.6,247.1 L464.8,248.2 L464.7,249.0 L464.8,249.8 L464.9,250.6 L464.9,251.4 L465.0,251.9 L465.0,252.6 L465.1,252.9 L465.1,253.2 L465.2,253.4 L465.3,253.7 L465.3,253.7 L465.4,253.9 L465.4,254.2 L465.5,254.3 L465.6,254.1 L465.7,254.1 L465.8,254.5 L465.9,254.4 L465.8,254.4 L466.0,254.4 L466.1,254.6 L466.2,254.6 L466.1,254.7 L466.3,254.6 L466.3,254.8 L466.4,254.9 L466.4,254.9 L466.4,254.9 L466.5,254.9 L466.6,255.1 L466.8,255.0 L466.9,254.9 L467.2,255.1 L467.5,255.1 L467.9,255.1 L468.1,255.2 L468.5,255.2 L469.0,255.2 L469.4,255.2 L469.9,255.3 L470.3,255.1 L470.9,255.1 L471.6,255.0 L472.2,255.0 L472.8,254.9 L473.5,255.0 L474.2,254.9 L475.0,255.0 L475.8,254.9 L476.7,254.9 L477.6,255.0 L478.5,254.8 L479.5,255.1 L480.5,255.0 L481.6,254.8 L482.6,254.9 L483.8,254.9 L484.9,254.9 L486.2,255.0 L487.4,255.0 L488.6,254.8 L490.0,254.8 L491.5,254.9 L493.1,254.9 L494.8,254.7 L496.7,254.9 L498.6,254.8 L500.5,254.8 L502.4,255.0 L504.3,254.8 L506.0,254.9 L507.8,254.8 L509.4,254.9 L510.9,254.7 L512.1,254.7 L513.0,254.7" fill="none" stroke="#2a467c" stroke-width="1.15" stroke-linejoin="round" stroke-linecap="round"/>
<line x1="36.5" y1="119.0" x2="65.3" y2="119.0" stroke="#2a2a2a" stroke-width="1.5"/>
<text x="50.9" y="128.8" text-anchor="middle" style="font-size:7.7px;" fill="#262626" stroke="#262626" stroke-width="0.15">Thrombin</text>
<text x="50.9" y="139.4" text-anchor="middle" style="font-size:8.1px;" fill="#262626" stroke="#262626" stroke-width="0.15">0.08U/mL</text>
<line x1="121.2" y1="119.0" x2="149" y2="119.0" stroke="#2a2a2a" stroke-width="1.5"/>
<text x="135.1" y="128.8" text-anchor="middle" style="font-size:7.7px;" fill="#262626" stroke="#262626" stroke-width="0.15">Thrombin</text>
<text x="135.1" y="139.4" text-anchor="middle" style="font-size:8.1px;" fill="#262626" stroke="#262626" stroke-width="0.15">0.06U/mL</text>
<line x1="193.8" y1="119.0" x2="216.3" y2="119.0" stroke="#2a2a2a" stroke-width="1.5"/>
<text x="205.1" y="128.8" text-anchor="middle" style="font-size:7.7px;" fill="#262626" stroke="#262626" stroke-width="0.15">Thrombin</text>
<text x="205.1" y="139.4" text-anchor="middle" style="font-size:8.1px;" fill="#262626" stroke="#262626" stroke-width="0.15">0.03U/mL</text>
<line x1="288.2" y1="119.0" x2="317" y2="119.0" stroke="#2a2a2a" stroke-width="1.5"/>
<text x="302.6" y="128.8" text-anchor="middle" style="font-size:8.0px;" fill="#262626" stroke="#262626" stroke-width="0.15">ADP</text>
<text x="302.6" y="139.4" text-anchor="middle" style="font-size:8.1px;" fill="#262626" stroke="#262626" stroke-width="0.15">20µmol/L</text>
<line x1="374.4" y1="119.1" x2="402.3" y2="119.1" stroke="#2a2a2a" stroke-width="1.5"/>
<text x="388.4" y="128.9" text-anchor="middle" style="font-size:8.0px;" fill="#262626" stroke="#262626" stroke-width="0.15">ADP</text>
<text x="388.4" y="139.5" text-anchor="middle" style="font-size:8.1px;" fill="#262626" stroke="#262626" stroke-width="0.15">10µmol/L</text>
<line x1="441.6" y1="119.2" x2="469" y2="119.2" stroke="#2a2a2a" stroke-width="1.5"/>
<text x="455.3" y="129.0" text-anchor="middle" style="font-size:8.0px;" fill="#262626" stroke="#262626" stroke-width="0.15">ADP</text>
<text x="455.3" y="139.6" text-anchor="middle" style="font-size:8.1px;" fill="#262626" stroke="#262626" stroke-width="0.15">5µmol/L</text>
<line x1="36.3" y1="257.6" x2="66" y2="257.6" stroke="#2a2a2a" stroke-width="1.5"/>
<text x="51.1" y="267.9" text-anchor="middle" style="font-size:8.0px;" fill="#262626" stroke="#262626" stroke-width="0.15">Collagen</text>
<text x="51.1" y="277.0" text-anchor="middle" style="font-size:8.1px;" fill="#262626" stroke="#262626" stroke-width="0.15">2µg/mL</text>
<line x1="95.9" y1="257.6" x2="126.1" y2="257.6" stroke="#2a2a2a" stroke-width="1.5"/>
<text x="111.0" y="267.9" text-anchor="middle" style="font-size:8.0px;" fill="#262626" stroke="#262626" stroke-width="0.15">Collagen</text>
<text x="111.0" y="277.0" text-anchor="middle" style="font-size:8.1px;" fill="#262626" stroke="#262626" stroke-width="0.15">1.5µg/mL</text>
<line x1="173" y1="257.6" x2="202" y2="257.6" stroke="#2a2a2a" stroke-width="1.5"/>
<text x="187.5" y="267.9" text-anchor="middle" style="font-size:8.0px;" fill="#262626" stroke="#262626" stroke-width="0.15">Collagen</text>
<text x="187.5" y="277.0" text-anchor="middle" style="font-size:8.1px;" fill="#262626" stroke="#262626" stroke-width="0.15">1µg/mL</text>
<line x1="286.5" y1="257.7" x2="316" y2="257.7" stroke="#2a2a2a" stroke-width="1.5"/>
<text x="286.6" y="267.7" style="font-size:8.5px;" fill="#262626" stroke="#262626" stroke-width="0.15">U46619</text>
<text x="286.8" y="277.3" style="font-size:8.4px;" fill="#262626" stroke="#262626" stroke-width="0.15">5µmol/L</text>
<line x1="362" y1="257.7" x2="391.3" y2="257.7" stroke="#2a2a2a" stroke-width="1.5"/>
<text x="362.1" y="267.7" style="font-size:8.5px;" fill="#262626" stroke="#262626" stroke-width="0.15">U46619</text>
<text x="362.3" y="277.3" style="font-size:8.4px;" fill="#262626" stroke="#262626" stroke-width="0.15">2µmol/L</text>
<line x1="441" y1="258.1" x2="469.4" y2="258.1" stroke="#2a2a2a" stroke-width="1.5"/>
<text x="441.1" y="268.1" style="font-size:8.5px;" fill="#262626" stroke="#262626" stroke-width="0.15">U46619</text>
<text x="441.3" y="277.7" style="font-size:8.4px;" fill="#262626" stroke="#262626" stroke-width="0.15">1µmol/L</text>
<text x="43.5" y="33.3" text-anchor="middle" style="font-size:7.6px;" fill="#262626">1min</text>
<line x1="35.2" y1="34.8" x2="52.9" y2="34.8" stroke="#222" stroke-width="1.2"/>
<text x="65" y="22.8" style="font-size:8.0px;font-style:italic" fill="#262626" stroke="#262626" stroke-width="0.16">MEKK3<tspan dx="0.3" dy="-2.88" style="font-size:5.3px">f/f</tspan></text>
<text x="101.8" y="39.6" style="font-size:8.0px;font-style:italic" fill="#262626" stroke="#262626" stroke-width="0.16">MEKK3<tspan dx="0.3" dy="-2.88" style="font-size:5.3px">-/-</tspan></text>
<text x="148" y="50.5" style="font-size:8.0px;font-style:italic" fill="#262626" stroke="#262626" stroke-width="0.16">MEKK3<tspan dx="0.3" dy="-2.88" style="font-size:5.3px">f/f</tspan></text>
<text x="158.7" y="72.6" style="font-size:8.0px;font-style:italic" fill="#262626" stroke="#262626" stroke-width="0.16">MEKK3<tspan dx="0.3" dy="-2.88" style="font-size:5.3px">-/-</tspan></text>
<text x="202.2" y="54.8" style="font-size:8.0px;font-style:italic" fill="#262626" stroke="#262626" stroke-width="0.16">MEKK3<tspan dx="0.3" dy="-2.88" style="font-size:5.3px">f/f</tspan></text>
<text x="232.9" y="84.1" style="font-size:8.0px;font-style:italic" fill="#262626" stroke="#262626" stroke-width="0.16">MEKK3<tspan dx="0.3" dy="-2.88" style="font-size:5.3px">-/-</tspan></text>
<text x="315" y="29.8" style="font-size:8.0px;font-style:italic" fill="#262626" stroke="#262626" stroke-width="0.16">MEKK3<tspan dx="0.3" dy="-2.88" style="font-size:5.3px">f/f</tspan></text>
<text x="352.5" y="43.8" style="font-size:8.0px;font-style:italic" fill="#262626" stroke="#262626" stroke-width="0.16">MEKK3<tspan dx="0.3" dy="-2.88" style="font-size:5.3px">-/-</tspan></text>
<text x="397.7" y="59.2" style="font-size:8.0px;font-style:italic" fill="#262626" stroke="#262626" stroke-width="0.16">MEKK3<tspan dx="0.3" dy="-2.88" style="font-size:5.3px">f/f</tspan></text>
<text x="410.8" y="81.5" style="font-size:8.0px;font-style:italic" fill="#262626" stroke="#262626" stroke-width="0.16">MEKK3<tspan dx="0.3" dy="-2.88" style="font-size:5.3px">-/-</tspan></text>
<text x="463.1" y="55.9" style="font-size:8.0px;font-style:italic" fill="#262626" stroke="#262626" stroke-width="0.16">MEKK3<tspan dx="0.3" dy="-2.88" style="font-size:5.3px">f/f</tspan></text>
<text x="474.9" y="84.2" style="font-size:8.0px;font-style:italic" fill="#262626" stroke="#262626" stroke-width="0.16">MEKK3<tspan dx="0.3" dy="-2.88" style="font-size:5.3px">-/-</tspan></text>
<text x="37" y="176.6" style="font-size:8.0px;font-style:italic" fill="#262626" stroke="#262626" stroke-width="0.16">MEKK3<tspan dx="0.3" dy="-2.88" style="font-size:5.3px">f/f</tspan></text>
<text x="84.5" y="194.1" style="font-size:8.0px;font-style:italic" fill="#262626" stroke="#262626" stroke-width="0.16">MEKK3<tspan dx="0.3" dy="-2.88" style="font-size:5.3px">-/-</tspan></text>
<text x="130" y="187.8" style="font-size:8.0px;font-style:italic" fill="#262626" stroke="#262626" stroke-width="0.16">MEKK3<tspan dx="0.3" dy="-2.88" style="font-size:5.3px">f/f</tspan></text>
<text x="140" y="222.3" style="font-size:8.0px;font-style:italic" fill="#262626" stroke="#262626" stroke-width="0.16">MEKK3<tspan dx="0.3" dy="-2.88" style="font-size:5.3px">-/-</tspan></text>
<text x="195.5" y="210.8" style="font-size:8.0px;font-style:italic" fill="#262626" stroke="#262626" stroke-width="0.16">MEKK3<tspan dx="0.3" dy="-2.88" style="font-size:5.3px">f/f</tspan></text>
<text x="206.3" y="236.6" style="font-size:8.0px;font-style:italic" fill="#262626" stroke="#262626" stroke-width="0.16">MEKK3<tspan dx="0.3" dy="-2.88" style="font-size:5.3px">-/-</tspan></text>
<text x="295.5" y="177.8" style="font-size:8.0px;font-style:italic" fill="#262626" stroke="#262626" stroke-width="0.16">MEKK3<tspan dx="0.3" dy="-2.88" style="font-size:5.3px">f/f</tspan></text>
<text x="345" y="184.1" style="font-size:8.0px;font-style:italic" fill="#262626" stroke="#262626" stroke-width="0.16">MEKK3<tspan dx="0.3" dy="-2.88" style="font-size:5.3px">-/-</tspan></text>
<text x="403.8" y="193.3" style="font-size:8.0px;font-style:italic" fill="#262626" stroke="#262626" stroke-width="0.16">MEKK3<tspan dx="0.3" dy="-2.88" style="font-size:5.3px">f/f</tspan></text>
<text x="413.8" y="223.3" style="font-size:8.0px;font-style:italic" fill="#262626" stroke="#262626" stroke-width="0.16">MEKK3<tspan dx="0.3" dy="-2.88" style="font-size:5.3px">-/-</tspan></text>
<text x="466.3" y="211.6" style="font-size:8.0px;font-style:italic" fill="#262626" stroke="#262626" stroke-width="0.16">MEKK3<tspan dx="0.3" dy="-2.88" style="font-size:5.3px">f/f</tspan></text>
<text x="477" y="246.6" style="font-size:8.0px;font-style:italic" fill="#262626" stroke="#262626" stroke-width="0.16">MEKK3<tspan dx="0.3" dy="-2.88" style="font-size:5.3px">-/-</tspan></text>
<text x="30.8" y="322.4" text-anchor="end" style="font-size:8.3px;" fill="#262626" stroke="#262626" stroke-width="0.15">80</text>
<text x="30.8" y="343.1" text-anchor="end" style="font-size:8.3px;" fill="#262626" stroke="#262626" stroke-width="0.15">60</text>
<text x="30.8" y="363.6" text-anchor="end" style="font-size:8.3px;" fill="#262626" stroke="#262626" stroke-width="0.15">40</text>
<text x="30.8" y="384.2" text-anchor="end" style="font-size:8.3px;" fill="#262626" stroke="#262626" stroke-width="0.15">20</text>
<text x="30.8" y="404.8" text-anchor="end" style="font-size:8.3px;" fill="#262626" stroke="#262626" stroke-width="0.15">0</text>
<path d="M45.00,343.19V339.89M42.40,339.89H47.60" stroke="#1c1c28" stroke-width="1.1" fill="none"/>
<rect x="40.00" y="343.19" width="10.00" height="58.81" fill="#b3092e"/>
<path d="M55.00,390.05V389.23M52.40,389.23H57.60" stroke="#1c1c28" stroke-width="1.1" fill="none"/>
<rect x="50.00" y="390.05" width="10.00" height="11.95" fill="#2d4b82"/>
<text x="55.0" y="389.1" text-anchor="middle" style="font-size:7.2px;font-weight:bold;" fill="#1c1c1c">***</text>
<path d="M70.80,375.12V369.45M68.20,369.45H73.40" stroke="#1c1c28" stroke-width="1.1" fill="none"/>
<rect x="65.80" y="375.12" width="10.00" height="26.88" fill="#b3092e"/>
<path d="M80.80,394.69V392.32M78.20,392.32H83.40" stroke="#1c1c28" stroke-width="1.1" fill="none"/>
<rect x="75.80" y="394.69" width="10.00" height="7.31" fill="#2d4b82"/>
<text x="80.8" y="392.2" text-anchor="middle" style="font-size:7.2px;font-weight:bold;" fill="#1c1c1c">**</text>
<path d="M96.30,358.64V355.76M93.70,355.76H98.90" stroke="#1c1c28" stroke-width="1.1" fill="none"/>
<rect x="91.30" y="358.64" width="10.00" height="43.36" fill="#b3092e"/>
<path d="M106.30,392.11V388.72M103.70,388.72H108.90" stroke="#1c1c28" stroke-width="1.1" fill="none"/>
<rect x="101.30" y="392.11" width="10.00" height="9.89" fill="#2d4b82"/>
<text x="106.3" y="388.6" text-anchor="middle" style="font-size:7.2px;font-weight:bold;" fill="#1c1c1c">***</text>
<path d="M122.00,363.79V358.02M119.40,358.02H124.60" stroke="#1c1c28" stroke-width="1.1" fill="none"/>
<rect x="117.00" y="363.79" width="10.00" height="38.21" fill="#b3092e"/>
<path d="M132.00,359.67V351.22M129.40,351.22H134.60" stroke="#1c1c28" stroke-width="1.1" fill="none"/>
<rect x="127.00" y="359.67" width="10.00" height="42.33" fill="#2d4b82"/>
<rect x="40.50" y="311.90" width="4.50" height="4.50" fill="#b3092e"/>
<rect x="40.50" y="320.10" width="4.50" height="4.50" fill="#2d4b82"/>
<text x="48.5" y="316.9" style="font-size:7.8px;font-style:italic" fill="#262626" stroke="#262626" stroke-width="0.16">MEKK3<tspan dx="0.3" dy="-2.81" style="font-size:5px">f/f</tspan></text>
<text x="48.5" y="325.1" style="font-size:7.8px;font-style:italic" fill="#262626" stroke="#262626" stroke-width="0.16">MEKK3<tspan dx="0.3" dy="-2.81" style="font-size:5px">-/-</tspan></text>
<text x="53" y="408.5" text-anchor="end" transform="rotate(-45 53 408.5)" style="font-size:7.8px;" fill="#262626" stroke="#262626" stroke-width="0.22">Thrombin</text>
<text x="78" y="408.5" text-anchor="end" transform="rotate(-45 78 408.5)" style="font-size:7.8px;" fill="#262626" stroke="#262626" stroke-width="0.22">ADP</text>
<text x="104.3" y="408.5" text-anchor="end" transform="rotate(-45 104.3 408.5)" style="font-size:7.8px;" fill="#262626" stroke="#262626" stroke-width="0.22">U46619</text>
<text x="130.5" y="408.5" text-anchor="end" transform="rotate(-45 130.5 408.5)" style="font-size:7.8px;" fill="#262626" stroke="#262626" stroke-width="0.22">Collagen</text>
<text x="14.7" y="359.5" text-anchor="middle" textLength="55.5" lengthAdjust="spacingAndGlyphs" transform="rotate(-90 14.7 359.5)" style="font-size:8.8px;" fill="#262626" stroke="#262626" stroke-width="0.22">ATP secretion (%)</text>
<text x="192.2" y="322.4" text-anchor="end" style="font-size:8.3px;" fill="#262626" stroke="#262626" stroke-width="0.15">10000</text>
<text x="192.2" y="331.9" text-anchor="end" style="font-size:8.3px;" fill="#262626" stroke="#262626" stroke-width="0.15">8000</text>
<text x="192.2" y="341.4" text-anchor="end" style="font-size:8.3px;" fill="#262626" stroke="#262626" stroke-width="0.15">6000</text>
<text x="192.2" y="350.9" text-anchor="end" style="font-size:8.3px;" fill="#262626" stroke="#262626" stroke-width="0.15">4000</text>
<text x="192.2" y="360.4" text-anchor="end" style="font-size:8.3px;" fill="#262626" stroke="#262626" stroke-width="0.15">2000</text>
<text x="192.2" y="367.2" text-anchor="end" style="font-size:8.3px;" fill="#262626" stroke="#262626" stroke-width="0.15">2000</text>
<text x="192.2" y="376.6" text-anchor="end" style="font-size:8.3px;" fill="#262626" stroke="#262626" stroke-width="0.15">1500</text>
<text x="192.2" y="386.1" text-anchor="end" style="font-size:8.3px;" fill="#262626" stroke="#262626" stroke-width="0.15">1000</text>
<text x="192.2" y="395.4" text-anchor="end" style="font-size:8.3px;" fill="#262626" stroke="#262626" stroke-width="0.15">500</text>
<text x="194.0" y="404.8" text-anchor="end" style="font-size:8.3px;" fill="#262626" stroke="#262626" stroke-width="0.15">0</text>
<path d="M205.40,398.00V397.20M202.71,397.20H208.09" stroke="#1c1c28" stroke-width="1.1" fill="none"/>
<rect x="200.50" y="398.00" width="9.80" height="4.00" fill="#b3092e"/>
<path d="M215.20,398.00V397.20M212.50,397.20H217.89" stroke="#1c1c28" stroke-width="1.1" fill="none"/>
<rect x="210.30" y="398.00" width="9.80" height="4.00" fill="#2d4b82"/>
<path d="M230.80,329.50V323.80M227.80,323.80H233.80" stroke="#1c1c28" stroke-width="1.1" fill="none"/>
<path d="M240.60,349.30V347.00M237.35,347.00H243.85" stroke="#1c1c28" stroke-width="1.1" fill="none"/>
<rect x="225.90" y="330.00" width="9.80" height="27.40" fill="#b3092e"/>
<rect x="235.70" y="349.30" width="9.80" height="8.10" fill="#2d4b82"/>
<rect x="225.90" y="364.90" width="9.80" height="37.10" fill="#b3092e"/>
<rect x="235.70" y="364.90" width="9.80" height="37.10" fill="#2d4b82"/>
<text x="240.6" y="346.7" text-anchor="middle" style="font-size:7.2px;font-weight:bold;" fill="#1c1c1c">**</text>
<path d="M255.20,391.80V391.00M252.51,391.00H257.90" stroke="#1c1c28" stroke-width="1.1" fill="none"/>
<rect x="250.30" y="391.80" width="9.80" height="10.20" fill="#b3092e"/>
<path d="M265.00,396.30V395.00M262.31,395.00H267.69" stroke="#1c1c28" stroke-width="1.1" fill="none"/>
<rect x="260.10" y="396.30" width="9.80" height="5.70" fill="#2d4b82"/>
<text x="265.0" y="395.2" text-anchor="middle" style="font-size:7.2px;font-weight:bold;" fill="#1c1c1c">**</text>
<path d="M280.40,376.20V374.10M277.70,374.10H283.09" stroke="#1c1c28" stroke-width="1.1" fill="none"/>
<rect x="275.50" y="376.20" width="9.80" height="25.80" fill="#b3092e"/>
<path d="M290.20,384.00V383.20M287.50,383.20H292.89" stroke="#1c1c28" stroke-width="1.1" fill="none"/>
<rect x="285.30" y="384.00" width="9.80" height="18.00" fill="#2d4b82"/>
<text x="290.2" y="383.4" text-anchor="middle" style="font-size:7.2px;font-weight:bold;" fill="#1c1c1c">**</text>
<path d="M305.30,395.80V395.20M302.60,395.20H307.99" stroke="#1c1c28" stroke-width="1.1" fill="none"/>
<rect x="300.40" y="395.80" width="9.80" height="6.20" fill="#b3092e"/>
<path d="M315.10,397.00V396.00M312.40,396.00H317.79" stroke="#1c1c28" stroke-width="1.1" fill="none"/>
<rect x="310.20" y="397.00" width="9.80" height="5.00" fill="#2d4b82"/>
<text x="315.1" y="395.8" text-anchor="middle" style="font-size:7.2px;font-weight:bold;" fill="#1c1c1c">*</text>
<rect x="203.30" y="308.20" width="4.70" height="4.70" fill="#b3092e"/>
<rect x="203.30" y="317.00" width="4.70" height="4.70" fill="#2d4b82"/>
<text x="211.5" y="313.4" style="font-size:7.8px;font-style:italic" fill="#262626" stroke="#262626" stroke-width="0.16">MEKK3<tspan dx="0.3" dy="-2.81" style="font-size:5px">f/f</tspan></text>
<text x="211.5" y="322.2" style="font-size:7.8px;font-style:italic" fill="#262626" stroke="#262626" stroke-width="0.16">MEKK3<tspan dx="0.3" dy="-2.81" style="font-size:5px">-/-</tspan></text>
<text x="213.5" y="408.5" text-anchor="end" transform="rotate(-45 213.5 408.5)" style="font-size:7.8px;" fill="#262626" stroke="#262626" stroke-width="0.22">Resting</text>
<text x="239" y="408.5" text-anchor="end" transform="rotate(-45 239 408.5)" style="font-size:7.8px;" fill="#262626" stroke="#262626" stroke-width="0.22">Thrombin</text>
<text x="263.5" y="408.5" text-anchor="end" transform="rotate(-45 263.5 408.5)" style="font-size:7.8px;" fill="#262626" stroke="#262626" stroke-width="0.22">ADP</text>
<text x="287" y="408.5" text-anchor="end" transform="rotate(-45 287 408.5)" style="font-size:7.8px;" fill="#262626" stroke="#262626" stroke-width="0.22">U46619</text>
<text x="313.2" y="408.5" text-anchor="end" transform="rotate(-45 313.2 408.5)" style="font-size:7.8px;" fill="#262626" stroke="#262626" stroke-width="0.22">Collagen</text>
<text x="161.7" y="359.6" text-anchor="middle" textLength="72.5" lengthAdjust="spacingAndGlyphs" transform="rotate(-90 161.7 359.6)" style="font-size:8.6px;" fill="#262626" stroke="#262626" stroke-width="0.22">Intensity of FITC-CD62P</text>
<text x="379.5" y="322.4" text-anchor="end" style="font-size:8.3px;" fill="#262626" stroke="#262626" stroke-width="0.15">800000</text>
<text x="379.5" y="333.2" text-anchor="end" style="font-size:8.3px;" fill="#262626" stroke="#262626" stroke-width="0.15">600000</text>
<text x="379.5" y="344.1" text-anchor="end" style="font-size:8.3px;" fill="#262626" stroke="#262626" stroke-width="0.15">400000</text>
<text x="379.5" y="354.8" text-anchor="end" style="font-size:8.3px;" fill="#262626" stroke="#262626" stroke-width="0.15">200000</text>
<text x="379.5" y="366.8" text-anchor="end" style="font-size:8.3px;" fill="#262626" stroke="#262626" stroke-width="0.15">100000</text>
<text x="379.5" y="374.3" text-anchor="end" style="font-size:8.3px;" fill="#262626" stroke="#262626" stroke-width="0.15">80000</text>
<text x="379.5" y="381.9" text-anchor="end" style="font-size:8.3px;" fill="#262626" stroke="#262626" stroke-width="0.15">60000</text>
<text x="379.5" y="389.6" text-anchor="end" style="font-size:8.3px;" fill="#262626" stroke="#262626" stroke-width="0.15">40000</text>
<text x="379.5" y="397.2" text-anchor="end" style="font-size:8.3px;" fill="#262626" stroke="#262626" stroke-width="0.15">20000</text>
<text x="379.5" y="404.8" text-anchor="end" style="font-size:8.3px;" fill="#262626" stroke="#262626" stroke-width="0.15">0</text>
<path d="M393.25,398.00V397.30M390.53,397.30H395.97" stroke="#1c1c28" stroke-width="1.1" fill="none"/>
<rect x="388.30" y="398.00" width="9.90" height="4.00" fill="#b3092e"/>
<path d="M403.15,398.30V397.60M400.43,397.60H405.87" stroke="#1c1c28" stroke-width="1.1" fill="none"/>
<rect x="398.20" y="398.30" width="9.90" height="3.70" fill="#2d4b82"/>
<path d="M418.25,330.00V329.30M415.00,329.30H421.50" stroke="#1c1c28" stroke-width="1.1" fill="none"/>
<path d="M428.15,370.80V368.00M424.90,368.00H431.40" stroke="#1c1c28" stroke-width="1.1" fill="none"/>
<rect x="413.30" y="330.00" width="10.00" height="27.40" fill="#b3092e"/>
<rect x="413.30" y="364.30" width="10.00" height="37.70" fill="#b3092e"/>
<rect x="423.30" y="370.80" width="10.00" height="31.20" fill="#2d4b82"/>
<text x="428.2" y="367.2" text-anchor="middle" style="font-size:7.2px;font-weight:bold;" fill="#1c1c1c">***</text>
<path d="M443.15,385.80V384.50M440.43,384.50H445.87" stroke="#1c1c28" stroke-width="1.1" fill="none"/>
<rect x="438.20" y="385.80" width="9.90" height="16.20" fill="#b3092e"/>
<path d="M453.05,392.00V390.00M450.33,390.00H455.77" stroke="#1c1c28" stroke-width="1.1" fill="none"/>
<rect x="448.10" y="392.00" width="9.90" height="10.00" fill="#2d4b82"/>
<text x="453.1" y="389.2" text-anchor="middle" style="font-size:7.2px;font-weight:bold;" fill="#1c1c1c">**</text>
<path d="M467.95,387.50V386.80M465.23,386.80H470.67" stroke="#1c1c28" stroke-width="1.1" fill="none"/>
<rect x="463.00" y="387.50" width="9.90" height="14.50" fill="#b3092e"/>
<path d="M477.85,390.50V389.80M475.13,389.80H480.57" stroke="#1c1c28" stroke-width="1.1" fill="none"/>
<rect x="472.90" y="390.50" width="9.90" height="11.50" fill="#2d4b82"/>
<text x="477.9" y="388.7" text-anchor="middle" style="font-size:7.2px;font-weight:bold;" fill="#1c1c1c">**</text>
<path d="M492.95,394.50V394.00M490.23,394.00H495.67" stroke="#1c1c28" stroke-width="1.1" fill="none"/>
<rect x="488.00" y="394.50" width="9.90" height="7.50" fill="#b3092e"/>
<path d="M502.85,397.00V396.30M500.13,396.30H505.57" stroke="#1c1c28" stroke-width="1.1" fill="none"/>
<rect x="497.90" y="397.00" width="9.90" height="5.00" fill="#2d4b82"/>
<text x="502.9" y="395.2" text-anchor="middle" style="font-size:7.2px;font-weight:bold;" fill="#1c1c1c">*</text>
<rect x="390.50" y="309.60" width="4.70" height="4.70" fill="#b3092e"/>
<rect x="390.50" y="318.40" width="4.70" height="4.70" fill="#2d4b82"/>
<text x="398.7" y="314.8" style="font-size:7.8px;font-style:italic" fill="#262626" stroke="#262626" stroke-width="0.16">MEKK3<tspan dx="0.3" dy="-2.81" style="font-size:5px">f/f</tspan></text>
<text x="398.7" y="323.6" style="font-size:7.8px;font-style:italic" fill="#262626" stroke="#262626" stroke-width="0.16">MEKK3<tspan dx="0.3" dy="-2.81" style="font-size:5px">-/-</tspan></text>
<text x="401.2" y="408.5" text-anchor="end" transform="rotate(-45 401.2 408.5)" style="font-size:7.8px;" fill="#262626" stroke="#262626" stroke-width="0.22">Resting</text>
<text x="426.6" y="408.5" text-anchor="end" transform="rotate(-45 426.6 408.5)" style="font-size:7.8px;" fill="#262626" stroke="#262626" stroke-width="0.22">Thrombin</text>
<text x="451.3" y="408.5" text-anchor="end" transform="rotate(-45 451.3 408.5)" style="font-size:7.8px;" fill="#262626" stroke="#262626" stroke-width="0.22">ADP</text>
<text x="474.2" y="408.5" text-anchor="end" transform="rotate(-45 474.2 408.5)" style="font-size:7.8px;" fill="#262626" stroke="#262626" stroke-width="0.22">U46619</text>
<text x="500.4" y="408.5" text-anchor="end" transform="rotate(-45 500.4 408.5)" style="font-size:7.8px;" fill="#262626" stroke="#262626" stroke-width="0.22">Collagen</text>
<text x="344.7" y="357.5" text-anchor="middle" textLength="59" lengthAdjust="spacingAndGlyphs" transform="rotate(-90 344.7 357.5)" style="font-size:8.8px;" fill="#262626" stroke="#262626" stroke-width="0.22">Intensity of APC-Fg</text>
<text x="206.3" y="462.2" text-anchor="end" style="font-size:8.3px;" fill="#262626" stroke="#262626" stroke-width="0.15">200</text>
<text x="206.3" y="482.9" text-anchor="end" style="font-size:8.3px;" fill="#262626" stroke="#262626" stroke-width="0.15">150</text>
<text x="206.3" y="503.6" text-anchor="end" style="font-size:8.3px;" fill="#262626" stroke="#262626" stroke-width="0.15">100</text>
<text x="206.3" y="524.2" text-anchor="end" style="font-size:8.3px;" fill="#262626" stroke="#262626" stroke-width="0.15">50</text>
<text x="206.3" y="545.0" text-anchor="end" style="font-size:8.3px;" fill="#262626" stroke="#262626" stroke-width="0.15">0</text>
<path d="M223.20,488.30V481.80M220.20,481.80H226.20" stroke="#1c1c28" stroke-width="1.1" fill="none"/>
<rect x="215.80" y="488.30" width="14.70" height="53.70" fill="#b3092e"/>
<path d="M244.00,490.80V486.30M241.00,486.30H247.00" stroke="#1c1c28" stroke-width="1.1" fill="none"/>
<rect x="236.80" y="490.80" width="14.50" height="51.20" fill="#2d4b82"/>
<rect x="215.10" y="453.80" width="5.00" height="5.00" fill="#b3092e"/>
<rect x="215.10" y="462.10" width="5.00" height="5.00" fill="#2d4b82"/>
<text x="223.6" y="459.1" style="font-size:7.8px;font-style:italic" fill="#262626" stroke="#262626" stroke-width="0.16">MEKK3<tspan dx="0.3" dy="-2.81" style="font-size:5px">f/f</tspan></text>
<text x="223.6" y="467.4" style="font-size:7.8px;font-style:italic" fill="#262626" stroke="#262626" stroke-width="0.16">MEKK3<tspan dx="0.3" dy="-2.81" style="font-size:5px">-/-</tspan></text>
<text x="185.4" y="499.5" text-anchor="middle" transform="rotate(-90 185.4 499.5)" textLength="68" lengthAdjust="spacingAndGlyphs" style="font-size:8.8px" fill="#262626" stroke="#262626" stroke-width="0.22">Spreading area (µm<tspan dy="-3" style="font-size:5.5px">2</tspan><tspan dy="3">)</tspan></text>
<text x="419.8" y="462.1" text-anchor="end" style="font-size:8.3px;" fill="#262626" stroke="#262626" stroke-width="0.15">1.0</text>
<text x="419.8" y="478.6" text-anchor="end" style="font-size:8.3px;" fill="#262626" stroke="#262626" stroke-width="0.15">0.8</text>
<text x="419.8" y="495.2" text-anchor="end" style="font-size:8.3px;" fill="#262626" stroke="#262626" stroke-width="0.15">0.6</text>
<text x="419.8" y="511.8" text-anchor="end" style="font-size:8.3px;" fill="#262626" stroke="#262626" stroke-width="0.15">0.4</text>
<text x="419.8" y="528.4" text-anchor="end" style="font-size:8.3px;" fill="#262626" stroke="#262626" stroke-width="0.15">0.2</text>
<text x="419.8" y="545.0" text-anchor="end" style="font-size:8.3px;" fill="#262626" stroke="#262626" stroke-width="0.15">0</text>
<path d="M433.65,498.00V493.40M430.65,493.40H436.65" stroke="#1c1c28" stroke-width="1.1" fill="none"/>
<rect x="428.00" y="498.00" width="11.30" height="44.00" fill="#b3092e"/>
<path d="M444.95,504.20V500.30M441.95,500.30H447.95" stroke="#1c1c28" stroke-width="1.1" fill="none"/>
<rect x="439.30" y="504.20" width="11.30" height="37.80" fill="#2d4b82"/>
<path d="M461.95,481.00V480.30M458.95,480.30H464.95" stroke="#1c1c28" stroke-width="1.1" fill="none"/>
<rect x="456.40" y="481.00" width="11.10" height="61.00" fill="#b3092e"/>
<path d="M473.05,485.60V483.00M470.05,483.00H476.05" stroke="#1c1c28" stroke-width="1.1" fill="none"/>
<rect x="467.50" y="485.60" width="11.10" height="56.40" fill="#2d4b82"/>
<path d="M489.90,468.70V468.20M486.90,468.20H492.90" stroke="#1c1c28" stroke-width="1.1" fill="none"/>
<rect x="484.40" y="468.70" width="11.00" height="73.30" fill="#b3092e"/>
<path d="M500.90,470.80V468.70M497.90,468.70H503.90" stroke="#1c1c28" stroke-width="1.1" fill="none"/>
<rect x="495.40" y="470.80" width="11.00" height="71.20" fill="#2d4b82"/>
<text x="438.7" y="552" text-anchor="middle" style="font-size:7.8px;" fill="#262626">1h</text>
<text x="466.8" y="552" text-anchor="middle" style="font-size:7.8px;" fill="#262626">2h</text>
<text x="495.3" y="552" text-anchor="middle" style="font-size:7.8px;" fill="#262626">3h</text>
<rect x="428.60" y="450.00" width="5.00" height="5.00" fill="#b3092e"/>
<rect x="428.60" y="458.90" width="5.00" height="5.00" fill="#2d4b82"/>
<text x="437.1" y="455.3" style="font-size:7.8px;font-style:italic" fill="#262626" stroke="#262626" stroke-width="0.16">MEKK3<tspan dx="0.3" dy="-2.81" style="font-size:5px">f/f</tspan></text>
<text x="437.1" y="464.2" style="font-size:7.8px;font-style:italic" fill="#262626" stroke="#262626" stroke-width="0.16">MEKK3<tspan dx="0.3" dy="-2.81" style="font-size:5px">-/-</tspan></text>
<text x="401" y="500.5" text-anchor="middle" textLength="58.5" lengthAdjust="spacingAndGlyphs" transform="rotate(-90 401 500.5)" style="font-size:8.8px;" fill="#262626" stroke="#262626" stroke-width="0.22">Clot retraction ratio</text>
<text x="315.5" y="450.3" text-anchor="middle" style="font-size:7.8px;" fill="#262626">1h</text>
<text x="340.5" y="450.3" text-anchor="middle" style="font-size:7.8px;" fill="#262626">2h</text>
<text x="368" y="450.3" text-anchor="middle" style="font-size:7.8px;" fill="#262626">3h</text>
<text x="267.5" y="475.3" style="font-size:8.0px;font-style:italic" fill="#262626" stroke="#262626" stroke-width="0.16">MEKK3<tspan dx="0.3" dy="-2.88" style="font-size:5.3px">f/f</tspan></text>
<text x="267.5" y="532.8" style="font-size:8.0px;font-style:italic" fill="#262626" stroke="#262626" stroke-width="0.16">MEKK3<tspan dx="0.3" dy="-2.88" style="font-size:5.3px">-/-</tspan></text>
<text x="31" y="461.6" style="font-size:8.0px;font-style:italic" fill="#262626" stroke="#262626" stroke-width="0.16">MEKK3<tspan dx="0.3" dy="-2.88" style="font-size:5.3px">f/f</tspan></text>
<text x="113.8" y="462.1" style="font-size:8.0px;font-style:italic" fill="#262626" stroke="#262626" stroke-width="0.16">MEKK3<tspan dx="0.3" dy="-2.88" style="font-size:5.3px">-/-</tspan></text>
<path d="M37.0,316V402.0H139" stroke="#1a1a1a" stroke-width="1.7" fill="none"/>
<line x1="33.3" x2="37.0" y1="319.5" y2="319.5" stroke="#1a1a1a" stroke-width="1.1"/>
<line x1="33.3" x2="37.0" y1="340.1" y2="340.1" stroke="#1a1a1a" stroke-width="1.1"/>
<line x1="33.3" x2="37.0" y1="360.7" y2="360.7" stroke="#1a1a1a" stroke-width="1.1"/>
<line x1="33.3" x2="37.0" y1="381.3" y2="381.3" stroke="#1a1a1a" stroke-width="1.1"/>
<line x1="33.3" x2="37.0" y1="401.9" y2="401.9" stroke="#1a1a1a" stroke-width="1.1"/>
<path d="M198.5,316.3V357.5M198.5,363.8V402.0H323" stroke="#1a1a1a" stroke-width="1.7" fill="none"/>
<line x1="194.8" x2="198.5" y1="319.5" y2="319.5" stroke="#1a1a1a" stroke-width="1.1"/>
<line x1="194.8" x2="198.5" y1="329" y2="329" stroke="#1a1a1a" stroke-width="1.1"/>
<line x1="194.8" x2="198.5" y1="338.5" y2="338.5" stroke="#1a1a1a" stroke-width="1.1"/>
<line x1="194.8" x2="198.5" y1="348" y2="348" stroke="#1a1a1a" stroke-width="1.1"/>
<line x1="194.8" x2="198.5" y1="357.5" y2="357.5" stroke="#1a1a1a" stroke-width="1.1"/>
<line x1="194.8" x2="198.5" y1="364.3" y2="364.3" stroke="#1a1a1a" stroke-width="1.1"/>
<line x1="194.8" x2="198.5" y1="373.7" y2="373.7" stroke="#1a1a1a" stroke-width="1.1"/>
<line x1="194.8" x2="198.5" y1="383.1" y2="383.1" stroke="#1a1a1a" stroke-width="1.1"/>
<line x1="194.8" x2="198.5" y1="392.5" y2="392.5" stroke="#1a1a1a" stroke-width="1.1"/>
<line x1="194.8" x2="198.5" y1="401.9" y2="401.9" stroke="#1a1a1a" stroke-width="1.1"/>
<line x1="195.3" x2="201.1" y1="357.6" y2="357.6" stroke="#1a1a1a" stroke-width="1.1"/>
<line x1="195.3" x2="201.1" y1="363.8" y2="363.8" stroke="#1a1a1a" stroke-width="1.1"/>
<path d="M386.1,316.3V358M386.1,363V402.0H510.5" stroke="#1a1a1a" stroke-width="1.7" fill="none"/>
<line x1="382.40000000000003" x2="386.1" y1="319.5" y2="319.5" stroke="#1a1a1a" stroke-width="1.1"/>
<line x1="382.40000000000003" x2="386.1" y1="330.3" y2="330.3" stroke="#1a1a1a" stroke-width="1.1"/>
<line x1="382.40000000000003" x2="386.1" y1="341.1" y2="341.1" stroke="#1a1a1a" stroke-width="1.1"/>
<line x1="382.40000000000003" x2="386.1" y1="351.9" y2="351.9" stroke="#1a1a1a" stroke-width="1.1"/>
<line x1="382.40000000000003" x2="386.1" y1="363.8" y2="363.8" stroke="#1a1a1a" stroke-width="1.1"/>
<line x1="382.40000000000003" x2="386.1" y1="371.4" y2="371.4" stroke="#1a1a1a" stroke-width="1.1"/>
<line x1="382.40000000000003" x2="386.1" y1="379" y2="379" stroke="#1a1a1a" stroke-width="1.1"/>
<line x1="382.40000000000003" x2="386.1" y1="386.7" y2="386.7" stroke="#1a1a1a" stroke-width="1.1"/>
<line x1="382.40000000000003" x2="386.1" y1="394.3" y2="394.3" stroke="#1a1a1a" stroke-width="1.1"/>
<line x1="382.40000000000003" x2="386.1" y1="401.9" y2="401.9" stroke="#1a1a1a" stroke-width="1.1"/>
<line x1="382.90000000000003" x2="388.70000000000005" y1="358.0" y2="358.0" stroke="#1a1a1a" stroke-width="1.1"/>
<line x1="382.90000000000003" x2="388.70000000000005" y1="363.7" y2="363.7" stroke="#1a1a1a" stroke-width="1.1"/>
<path d="M213.1,456.3V542H255.5" stroke="#1a1a1a" stroke-width="1.7" fill="none"/>
<line x1="209.4" x2="213.1" y1="459.3" y2="459.3" stroke="#1a1a1a" stroke-width="1.1"/>
<line x1="209.4" x2="213.1" y1="480" y2="480" stroke="#1a1a1a" stroke-width="1.1"/>
<line x1="209.4" x2="213.1" y1="500.6" y2="500.6" stroke="#1a1a1a" stroke-width="1.1"/>
<line x1="209.4" x2="213.1" y1="521.3" y2="521.3" stroke="#1a1a1a" stroke-width="1.1"/>
<line x1="209.4" x2="213.1" y1="542" y2="542" stroke="#1a1a1a" stroke-width="1.1"/>
<path d="M426.0,455.8V542H507" stroke="#1a1a1a" stroke-width="1.7" fill="none"/>
<line x1="422.3" x2="426.0" y1="459.1" y2="459.1" stroke="#1a1a1a" stroke-width="1.1"/>
<line x1="422.3" x2="426.0" y1="475.7" y2="475.7" stroke="#1a1a1a" stroke-width="1.1"/>
<line x1="422.3" x2="426.0" y1="492.3" y2="492.3" stroke="#1a1a1a" stroke-width="1.1"/>
<line x1="422.3" x2="426.0" y1="508.8" y2="508.8" stroke="#1a1a1a" stroke-width="1.1"/>
<line x1="422.3" x2="426.0" y1="525.4" y2="525.4" stroke="#1a1a1a" stroke-width="1.1"/>
<line x1="422.3" x2="426.0" y1="542" y2="542" stroke="#1a1a1a" stroke-width="1.1"/>
<path d="M0,0H520V561H0Z M1.5,1.3V559.4H518.5V1.3Z" fill="#000" fill-rule="evenodd"/>
</svg>
</body></html>
